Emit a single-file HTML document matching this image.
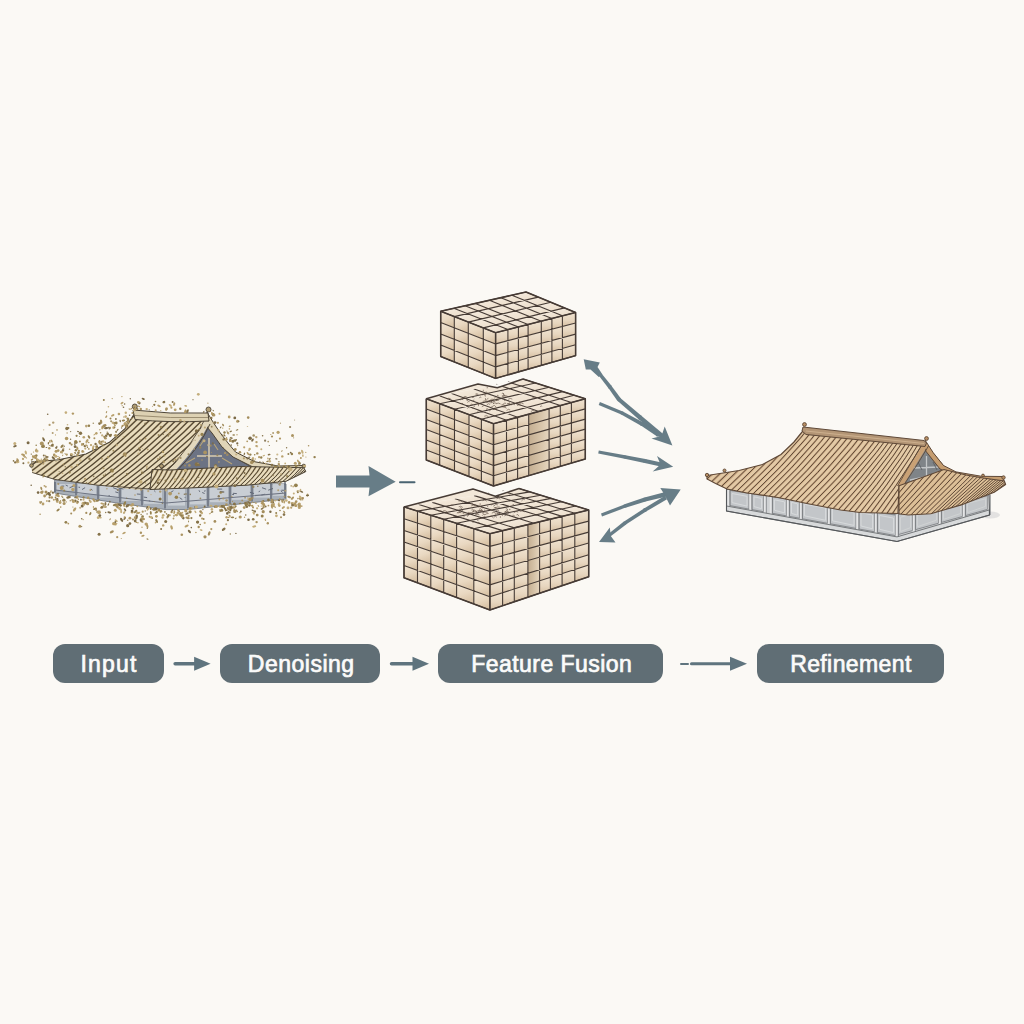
<!DOCTYPE html>
<html><head><meta charset="utf-8"><style>
html,body{margin:0;padding:0;background:#fbf9f5;}
body{width:1024px;height:1024px;position:relative;overflow:hidden;font-family:"Liberation Sans",sans-serif;}
.pill{position:absolute;top:644px;height:39px;border-radius:12px;background:#606e75;color:#fbfbfa;font-weight:400;font-size:23px;line-height:40px;text-align:center;-webkit-text-stroke:0.7px #fbfbfa;letter-spacing:0.25px;}
svg{position:absolute;left:0;top:0;}
</style></head><body>
<svg width="1024" height="1024" viewBox="0 0 1024 1024">
<line x1="175.1" y1="663.8" x2="195.1" y2="663.8" stroke="#5f747e" stroke-width="3.4" stroke-linecap="round"/><polygon points="210.6,663.8 194.1,656.8 194.1,670.8" fill="#5f747e"/><line x1="391.5" y1="663.8" x2="413.5" y2="663.8" stroke="#5f747e" stroke-width="3.4" stroke-linecap="round"/><polygon points="429,663.8 412.5,656.8 412.5,670.8" fill="#5f747e"/><line x1="681" y1="664" x2="688" y2="664" stroke="#5f747e" stroke-width="2" stroke-linecap="round"/><line x1="691.5" y1="663.8" x2="731" y2="663.8" stroke="#5f747e" stroke-width="3.1" stroke-linecap="round"/><polygon points="747,663.8 730,656.8 730,670.8" fill="#5f747e"/>
<defs><linearGradient id="cellL" x1="0" y1="0" x2="0.3" y2="1"><stop offset="0" stop-color="#f2e6d5"/><stop offset="0.55" stop-color="#e9d8c1"/><stop offset="1" stop-color="#d9c3a6"/></linearGradient><linearGradient id="cellR" x1="0" y1="0" x2="0" y2="1"><stop offset="0" stop-color="#f0e3d1"/><stop offset="0.55" stop-color="#e7d6bf"/><stop offset="1" stop-color="#d7c0a3"/></linearGradient><linearGradient id="cellT" x1="0" y1="0" x2="1" y2="1"><stop offset="0" stop-color="#f6ede1"/><stop offset="1" stop-color="#ebdcc8"/></linearGradient><linearGradient id="notch" x1="0" y1="0" x2="1" y2="0"><stop offset="0" stop-color="#c4ae91"/><stop offset="0.6" stop-color="#d8c5aa"/><stop offset="1" stop-color="#e6d6bf"/></linearGradient></defs>
<polygon points="440.7,311.3 454.3,316.6 454.3,327.7 440.7,322.4" fill="url(#cellL)"/>
<polygon points="440.7,322.4 454.3,327.7 454.3,339.3 440.7,333.9" fill="url(#cellL)"/>
<polygon points="440.7,333.9 454.3,339.3 454.3,350.5 440.7,345.1" fill="url(#cellL)"/>
<polygon points="440.7,345.1 454.3,350.5 454.3,361.9 440.7,356.5" fill="url(#cellL)"/>
<polygon points="454.3,316.6 468.3,322.1 468.3,333.2 454.3,327.7" fill="url(#cellL)"/>
<polygon points="454.3,327.7 468.3,333.2 468.3,344.8 454.3,339.3" fill="url(#cellL)"/>
<polygon points="454.3,339.3 468.3,344.8 468.3,356.0 454.3,350.5" fill="url(#cellL)"/>
<polygon points="454.3,350.5 468.3,356.0 468.3,367.5 454.3,361.9" fill="url(#cellL)"/>
<polygon points="468.3,322.1 483.3,327.9 483.3,339.1 468.3,333.2" fill="url(#cellL)"/>
<polygon points="468.3,333.2 483.3,339.1 483.3,350.7 468.3,344.8" fill="url(#cellL)"/>
<polygon points="468.3,344.8 483.3,350.7 483.3,362.0 468.3,356.0" fill="url(#cellL)"/>
<polygon points="468.3,356.0 483.3,362.0 483.3,373.5 468.3,367.5" fill="url(#cellL)"/>
<polygon points="483.3,327.9 495.6,332.7 495.6,343.9 483.3,339.1" fill="url(#cellL)"/>
<polygon points="483.3,339.1 495.6,343.9 495.6,355.6 483.3,350.7" fill="url(#cellL)"/>
<polygon points="483.3,350.7 495.6,355.6 495.6,366.9 483.3,362.0" fill="url(#cellL)"/>
<polygon points="483.3,362.0 495.6,366.9 495.6,378.4 483.3,373.5" fill="url(#cellL)"/>
<polygon points="495.6,332.7 507.9,329.6 507.9,340.7 495.6,343.9" fill="url(#cellR)"/>
<polygon points="495.6,343.9 507.9,340.7 507.9,352.3 495.6,355.6" fill="url(#cellR)"/>
<polygon points="495.6,355.6 507.9,352.3 507.9,363.4 495.6,366.9" fill="url(#cellR)"/>
<polygon points="495.6,366.9 507.9,363.4 507.9,374.9 495.6,378.4" fill="url(#cellR)"/>
<polygon points="507.9,329.6 518.4,326.9 518.4,337.9 507.9,340.7" fill="url(#cellR)"/>
<polygon points="507.9,340.7 518.4,337.9 518.4,349.5 507.9,352.3" fill="url(#cellR)"/>
<polygon points="507.9,352.3 518.4,349.5 518.4,360.5 507.9,363.4" fill="url(#cellR)"/>
<polygon points="507.9,363.4 518.4,360.5 518.4,371.9 507.9,374.9" fill="url(#cellR)"/>
<polygon points="518.4,326.9 528.1,324.5 528.1,335.4 518.4,337.9" fill="url(#cellR)"/>
<polygon points="518.4,337.9 528.1,335.4 528.1,346.9 518.4,349.5" fill="url(#cellR)"/>
<polygon points="518.4,349.5 528.1,346.9 528.1,357.9 518.4,360.5" fill="url(#cellR)"/>
<polygon points="518.4,360.5 528.1,357.9 528.1,369.1 518.4,371.9" fill="url(#cellR)"/>
<polygon points="528.1,324.5 541.3,321.2 541.3,332.0 528.1,335.4" fill="url(#cellR)"/>
<polygon points="528.1,335.4 541.3,332.0 541.3,343.3 528.1,346.9" fill="url(#cellR)"/>
<polygon points="528.1,346.9 541.3,343.3 541.3,354.2 528.1,357.9" fill="url(#cellR)"/>
<polygon points="528.1,357.9 541.3,354.2 541.3,365.4 528.1,369.1" fill="url(#cellR)"/>
<polygon points="541.3,321.2 551.9,318.5 551.9,329.2 541.3,332.0" fill="url(#cellR)"/>
<polygon points="541.3,332.0 551.9,329.2 551.9,340.5 541.3,343.3" fill="url(#cellR)"/>
<polygon points="541.3,343.3 551.9,340.5 551.9,351.3 541.3,354.2" fill="url(#cellR)"/>
<polygon points="541.3,354.2 551.9,351.3 551.9,362.3 541.3,365.4" fill="url(#cellR)"/>
<polygon points="551.9,318.5 562.4,315.8 562.4,326.5 551.9,329.2" fill="url(#cellR)"/>
<polygon points="551.9,329.2 562.4,326.5 562.4,337.6 551.9,340.5" fill="url(#cellR)"/>
<polygon points="551.9,340.5 562.4,337.6 562.4,348.4 551.9,351.3" fill="url(#cellR)"/>
<polygon points="551.9,351.3 562.4,348.4 562.4,359.4 551.9,362.3" fill="url(#cellR)"/>
<polygon points="562.4,315.8 575.6,312.5 575.6,323.0 562.4,326.5" fill="url(#cellR)"/>
<polygon points="562.4,326.5 575.6,323.0 575.6,334.1 562.4,337.6" fill="url(#cellR)"/>
<polygon points="562.4,337.6 575.6,334.1 575.6,344.7 562.4,348.4" fill="url(#cellR)"/>
<polygon points="562.4,348.4 575.6,344.7 575.6,355.6 562.4,359.4" fill="url(#cellR)"/>
<polygon points="440.7,311.3 453.8,308.3 467.2,313.6 454.3,316.6" fill="url(#cellT)"/>
<polygon points="454.3,316.6 467.2,313.6 481.0,319.0 468.3,322.1" fill="url(#cellT)"/>
<polygon points="468.3,322.1 481.0,319.0 495.8,324.8 483.3,327.9" fill="url(#cellT)"/>
<polygon points="483.3,327.9 495.8,324.8 507.9,329.6 495.6,332.7" fill="url(#cellT)"/>
<polygon points="453.8,308.3 465.0,305.8 478.3,311.0 467.2,313.6" fill="url(#cellT)"/>
<polygon points="467.2,313.6 478.3,311.0 491.9,316.4 481.0,319.0" fill="url(#cellT)"/>
<polygon points="481.0,319.0 491.9,316.4 506.4,322.2 495.8,324.8" fill="url(#cellT)"/>
<polygon points="495.8,324.8 506.4,322.2 518.4,326.9 507.9,329.6" fill="url(#cellT)"/>
<polygon points="465.0,305.8 475.3,303.5 488.4,308.7 478.3,311.0" fill="url(#cellT)"/>
<polygon points="478.3,311.0 488.4,308.7 501.9,314.0 491.9,316.4" fill="url(#cellT)"/>
<polygon points="491.9,316.4 501.9,314.0 516.3,319.8 506.4,322.2" fill="url(#cellT)"/>
<polygon points="506.4,322.2 516.3,319.8 528.1,324.5 518.4,326.9" fill="url(#cellT)"/>
<polygon points="475.3,303.5 489.4,300.3 502.3,305.5 488.4,308.7" fill="url(#cellT)"/>
<polygon points="488.4,308.7 502.3,305.5 515.5,310.8 501.9,314.0" fill="url(#cellT)"/>
<polygon points="501.9,314.0 515.5,310.8 529.7,316.5 516.3,319.8" fill="url(#cellT)"/>
<polygon points="516.3,319.8 529.7,316.5 541.3,321.2 528.1,324.5" fill="url(#cellT)"/>
<polygon points="489.4,300.3 500.8,297.7 513.4,302.9 502.3,305.5" fill="url(#cellT)"/>
<polygon points="502.3,305.5 513.4,302.9 526.5,308.2 515.5,310.8" fill="url(#cellT)"/>
<polygon points="515.5,310.8 526.5,308.2 540.5,313.8 529.7,316.5" fill="url(#cellT)"/>
<polygon points="529.7,316.5 540.5,313.8 551.9,318.5 541.3,321.2" fill="url(#cellT)"/>
<polygon points="500.8,297.7 511.9,295.2 524.4,300.3 513.4,302.9" fill="url(#cellT)"/>
<polygon points="513.4,302.9 524.4,300.3 537.3,305.6 526.5,308.2" fill="url(#cellT)"/>
<polygon points="526.5,308.2 537.3,305.6 551.1,311.2 540.5,313.8" fill="url(#cellT)"/>
<polygon points="540.5,313.8 551.1,311.2 562.4,315.8 551.9,318.5" fill="url(#cellT)"/>
<polygon points="511.9,295.2 526.0,292.0 538.3,297.1 524.4,300.3" fill="url(#cellT)"/>
<polygon points="524.4,300.3 538.3,297.1 550.9,302.3 537.3,305.6" fill="url(#cellT)"/>
<polygon points="537.3,305.6 550.9,302.3 564.5,307.9 551.1,311.2" fill="url(#cellT)"/>
<polygon points="551.1,311.2 564.5,307.9 575.6,312.5 562.4,315.8" fill="url(#cellT)"/>
<path d="M440.7 311.3L440.7 356.5 M454.3 316.6L454.3 361.9 M468.3 322.1L468.3 367.5 M483.3 327.9L483.3 373.5 M495.6 332.7L495.6 378.4 M440.7 311.3L495.6 332.7 M440.7 322.4L495.6 343.9 M440.7 333.9L495.6 355.6 M440.7 345.1L495.6 366.9 M440.7 356.5L495.6 378.4 M495.6 332.7L495.6 378.4 M507.9 329.6L507.9 374.9 M518.4 326.9L518.4 371.9 M528.1 324.5L528.1 369.1 M541.3 321.2L541.3 365.4 M551.9 318.5L551.9 362.3 M562.4 315.8L562.4 359.4 M575.6 312.5L575.6 355.6 M495.6 332.7L575.6 312.5 M495.6 343.9L575.6 323.0 M495.6 355.6L575.6 334.1 M495.6 366.9L575.6 344.7 M495.6 378.4L575.6 355.6 M440.7 311.3L495.6 332.7 M453.8 308.3L507.9 329.6 M465.0 305.8L518.4 326.9 M475.3 303.5L528.1 324.5 M489.4 300.3L541.3 321.2 M500.8 297.7L551.9 318.5 M511.9 295.2L562.4 315.8 M526.0 292.0L575.6 312.5 M440.7 311.3L526.0 292.0 M454.3 316.6L538.3 297.1 M468.3 322.1L550.9 302.3 M483.3 327.9L564.5 307.9 M495.6 332.7L575.6 312.5" stroke="#463b35" stroke-width="1.1" fill="none" stroke-linecap="round"/>
<polygon points="440.7,311.3 526.0,292.0 575.6,312.5 575.6,355.6 495.6,378.4 440.7,356.5" fill="none" stroke="#463b35" stroke-width="1.5" stroke-linejoin="round"/>
<path d="M440.7 311.3L495.6 332.7L575.6 312.5M495.6 332.7L495.6 378.4" stroke="#463b35" stroke-width="1.5" fill="none"/>
<polygon points="426.3,398.8 439.7,403.8 439.7,414.1 426.3,409.1" fill="url(#cellL)"/>
<polygon points="426.3,409.1 439.7,414.1 439.7,424.5 426.3,419.4" fill="url(#cellL)"/>
<polygon points="426.3,419.4 439.7,424.5 439.7,434.7 426.3,429.6" fill="url(#cellL)"/>
<polygon points="426.3,429.6 439.7,434.7 439.7,445.1 426.3,440.0" fill="url(#cellL)"/>
<polygon points="426.3,440.0 439.7,445.1 439.7,455.2 426.3,450.0" fill="url(#cellL)"/>
<polygon points="426.3,450.0 439.7,455.2 439.7,465.2 426.3,460.0" fill="url(#cellL)"/>
<polygon points="439.7,403.8 454.5,409.3 454.5,419.7 439.7,414.1" fill="url(#cellL)"/>
<polygon points="439.7,414.1 454.5,419.7 454.5,430.0 439.7,424.5" fill="url(#cellL)"/>
<polygon points="439.7,424.5 454.5,430.0 454.5,440.4 439.7,434.7" fill="url(#cellL)"/>
<polygon points="439.7,434.7 454.5,440.4 454.5,450.7 439.7,445.1" fill="url(#cellL)"/>
<polygon points="439.7,445.1 454.5,450.7 454.5,460.8 439.7,455.2" fill="url(#cellL)"/>
<polygon points="439.7,455.2 454.5,460.8 454.5,470.9 439.7,465.2" fill="url(#cellL)"/>
<polygon points="454.5,409.3 469.0,414.7 469.0,425.1 454.5,419.7" fill="url(#cellL)"/>
<polygon points="454.5,419.7 469.0,425.1 469.0,435.5 454.5,430.0" fill="url(#cellL)"/>
<polygon points="454.5,430.0 469.0,435.5 469.0,445.9 454.5,440.4" fill="url(#cellL)"/>
<polygon points="454.5,440.4 469.0,445.9 469.0,456.3 454.5,450.7" fill="url(#cellL)"/>
<polygon points="454.5,450.7 469.0,456.3 469.0,466.4 454.5,460.8" fill="url(#cellL)"/>
<polygon points="454.5,460.8 469.0,466.4 469.0,476.5 454.5,470.9" fill="url(#cellL)"/>
<polygon points="469.0,414.7 481.4,419.3 481.4,429.7 469.0,425.1" fill="url(#cellL)"/>
<polygon points="469.0,425.1 481.4,429.7 481.4,440.2 469.0,435.5" fill="url(#cellL)"/>
<polygon points="469.0,435.5 481.4,440.2 481.4,450.6 469.0,445.9" fill="url(#cellL)"/>
<polygon points="469.0,445.9 481.4,450.6 481.4,461.0 469.0,456.3" fill="url(#cellL)"/>
<polygon points="469.0,456.3 481.4,461.0 481.4,471.2 469.0,466.4" fill="url(#cellL)"/>
<polygon points="469.0,466.4 481.4,471.2 481.4,481.3 469.0,476.5" fill="url(#cellL)"/>
<polygon points="481.4,419.3 493.5,423.8 493.5,434.3 481.4,429.7" fill="url(#cellL)"/>
<polygon points="481.4,429.7 493.5,434.3 493.5,444.7 481.4,440.2" fill="url(#cellL)"/>
<polygon points="481.4,440.2 493.5,444.7 493.5,455.1 481.4,450.6" fill="url(#cellL)"/>
<polygon points="481.4,450.6 493.5,455.1 493.5,465.6 481.4,461.0" fill="url(#cellL)"/>
<polygon points="481.4,461.0 493.5,465.6 493.5,475.8 481.4,471.2" fill="url(#cellL)"/>
<polygon points="481.4,471.2 493.5,475.8 493.5,486.0 481.4,481.3" fill="url(#cellL)"/>
<polygon points="493.5,423.8 506.5,420.2 506.5,430.7 493.5,434.3" fill="url(#cellR)"/>
<polygon points="493.5,434.3 506.5,430.7 506.5,441.1 493.5,444.7" fill="url(#cellR)"/>
<polygon points="493.5,444.7 506.5,441.1 506.5,451.5 493.5,455.1" fill="url(#cellR)"/>
<polygon points="493.5,455.1 506.5,451.5 506.5,461.9 493.5,465.6" fill="url(#cellR)"/>
<polygon points="493.5,465.6 506.5,461.9 506.5,472.0 493.5,475.8" fill="url(#cellR)"/>
<polygon points="493.5,475.8 506.5,472.0 506.5,482.2 493.5,486.0" fill="url(#cellR)"/>
<polygon points="506.5,420.2 517.6,417.2 517.6,427.6 506.5,430.7" fill="url(#cellR)"/>
<polygon points="506.5,430.7 517.6,427.6 517.6,438.0 506.5,441.1" fill="url(#cellR)"/>
<polygon points="506.5,441.1 517.6,438.0 517.6,448.3 506.5,451.5" fill="url(#cellR)"/>
<polygon points="506.5,451.5 517.6,448.3 517.6,458.7 506.5,461.9" fill="url(#cellR)"/>
<polygon points="506.5,461.9 517.6,458.7 517.6,468.8 506.5,472.0" fill="url(#cellR)"/>
<polygon points="506.5,472.0 517.6,468.8 517.6,478.9 506.5,482.2" fill="url(#cellR)"/>
<polygon points="517.6,417.2 528.7,414.2 528.7,424.6 517.6,427.6" fill="url(#cellR)"/>
<polygon points="517.6,427.6 528.7,424.6 528.7,434.9 517.6,438.0" fill="url(#cellR)"/>
<polygon points="517.6,438.0 528.7,434.9 528.7,445.2 517.6,448.3" fill="url(#cellR)"/>
<polygon points="517.6,448.3 528.7,445.2 528.7,455.5 517.6,458.7" fill="url(#cellR)"/>
<polygon points="517.6,458.7 528.7,455.5 528.7,465.6 517.6,468.8" fill="url(#cellR)"/>
<polygon points="517.6,468.8 528.7,465.6 528.7,475.7 517.6,478.9" fill="url(#cellR)"/>
<polygon points="549.1,408.7 560.3,405.6 560.3,415.8 549.1,418.9" fill="url(#cellR)"/>
<polygon points="549.1,418.9 560.3,415.8 560.3,426.0 549.1,429.2" fill="url(#cellR)"/>
<polygon points="549.1,429.2 560.3,426.0 560.3,436.2 549.1,439.4" fill="url(#cellR)"/>
<polygon points="549.1,439.4 560.3,436.2 560.3,446.5 549.1,449.7" fill="url(#cellR)"/>
<polygon points="549.1,449.7 560.3,446.5 560.3,456.4 549.1,459.7" fill="url(#cellR)"/>
<polygon points="549.1,459.7 560.3,456.4 560.3,466.3 549.1,469.6" fill="url(#cellR)"/>
<polygon points="560.3,405.6 571.4,402.6 571.4,412.8 560.3,415.8" fill="url(#cellR)"/>
<polygon points="560.3,415.8 571.4,412.8 571.4,422.9 560.3,426.0" fill="url(#cellR)"/>
<polygon points="560.3,426.0 571.4,422.9 571.4,433.1 560.3,436.2" fill="url(#cellR)"/>
<polygon points="560.3,436.2 571.4,433.1 571.4,443.3 560.3,446.5" fill="url(#cellR)"/>
<polygon points="560.3,446.5 571.4,443.3 571.4,453.2 560.3,456.4" fill="url(#cellR)"/>
<polygon points="560.3,456.4 571.4,453.2 571.4,463.1 560.3,466.3" fill="url(#cellR)"/>
<polygon points="571.4,402.6 585.3,398.8 585.3,408.9 571.4,412.8" fill="url(#cellR)"/>
<polygon points="571.4,412.8 585.3,408.9 585.3,419.1 571.4,422.9" fill="url(#cellR)"/>
<polygon points="571.4,422.9 585.3,419.1 585.3,429.1 571.4,433.1" fill="url(#cellR)"/>
<polygon points="571.4,433.1 585.3,429.1 585.3,439.3 571.4,443.3" fill="url(#cellR)"/>
<polygon points="571.4,443.3 585.3,439.3 585.3,449.2 571.4,453.2" fill="url(#cellR)"/>
<polygon points="571.4,453.2 585.3,449.2 585.3,459.0 571.4,463.1" fill="url(#cellR)"/>
<polygon points="426.3,398.8 440.0,396.0 453.3,400.8 439.7,403.8" fill="url(#cellT)"/>
<polygon points="439.7,403.8 453.3,400.8 468.0,406.2 454.5,409.3" fill="url(#cellT)"/>
<polygon points="454.5,409.3 468.0,406.2 482.3,411.4 469.0,414.7" fill="url(#cellT)"/>
<polygon points="469.0,414.7 482.3,411.4 494.6,415.9 481.4,419.3" fill="url(#cellT)"/>
<polygon points="481.4,419.3 494.6,415.9 506.5,420.2 493.5,423.8" fill="url(#cellT)"/>
<polygon points="440.0,396.0 451.7,393.6 464.9,398.3 453.3,400.8" fill="url(#cellT)"/>
<polygon points="453.3,400.8 464.9,398.3 479.4,403.5 468.0,406.2" fill="url(#cellT)"/>
<polygon points="468.0,406.2 479.4,403.5 493.7,408.6 482.3,411.4" fill="url(#cellT)"/>
<polygon points="482.3,411.4 493.7,408.6 505.8,413.0 494.6,415.9" fill="url(#cellT)"/>
<polygon points="494.6,415.9 505.8,413.0 517.6,417.2 506.5,420.2" fill="url(#cellT)"/>
<polygon points="451.7,393.6 474.1,389.0 487.1,393.5 464.9,398.3" fill="url(#cellT)"/>
<polygon points="464.9,398.3 487.1,393.5 501.3,398.4 479.4,403.5" fill="url(#cellT)"/>
<polygon points="479.4,403.5 501.3,398.4 515.3,403.3 493.7,408.6" fill="url(#cellT)"/>
<polygon points="493.7,408.6 515.3,403.3 527.2,407.4 505.8,413.0" fill="url(#cellT)"/>
<polygon points="505.8,413.0 527.2,407.4 538.9,411.4 517.6,417.2" fill="url(#cellT)"/>
<polygon points="474.1,389.0 496.7,384.4 509.4,388.6 487.1,393.5" fill="url(#cellT)"/>
<polygon points="487.1,393.5 509.4,388.6 523.4,393.3 501.3,398.4" fill="url(#cellT)"/>
<polygon points="501.3,398.4 523.4,393.3 537.2,397.9 515.3,403.3" fill="url(#cellT)"/>
<polygon points="515.3,403.3 537.2,397.9 548.9,401.8 527.2,407.4" fill="url(#cellT)"/>
<polygon points="527.2,407.4 548.9,401.8 560.3,405.6 538.9,411.4" fill="url(#cellT)"/>
<polygon points="496.7,384.4 508.4,382.0 521.0,386.1 509.4,388.6" fill="url(#cellT)"/>
<polygon points="509.4,388.6 521.0,386.1 534.9,390.6 523.4,393.3" fill="url(#cellT)"/>
<polygon points="523.4,393.3 534.9,390.6 548.5,395.1 537.2,397.9" fill="url(#cellT)"/>
<polygon points="537.2,397.9 548.5,395.1 560.1,398.9 548.9,401.8" fill="url(#cellT)"/>
<polygon points="548.9,401.8 560.1,398.9 571.4,402.6 560.3,405.6" fill="url(#cellT)"/>
<polygon points="508.4,382.0 523.0,379.0 535.5,383.0 521.0,386.1" fill="url(#cellT)"/>
<polygon points="521.0,386.1 535.5,383.0 549.2,387.3 534.9,390.6" fill="url(#cellT)"/>
<polygon points="534.9,390.6 549.2,387.3 562.6,391.6 548.5,395.1" fill="url(#cellT)"/>
<polygon points="548.5,395.1 562.6,391.6 574.1,395.2 560.1,398.9" fill="url(#cellT)"/>
<polygon points="560.1,398.9 574.1,395.2 585.3,398.8 571.4,402.6" fill="url(#cellT)"/>
<polygon points="528.7,414.2 549.1,408.7 549.1,469.6 528.7,475.7" fill="url(#notch)"/>
<path d="M426.3 398.8L426.3 460.0 M439.7 403.8L439.7 465.2 M454.5 409.3L454.5 470.9 M469.0 414.7L469.0 476.5 M481.4 419.3L481.4 481.3 M493.5 423.8L493.5 486.0 M426.3 398.8L493.5 423.8 M426.3 409.1L493.5 434.3 M426.3 419.4L493.5 444.7 M426.3 429.6L493.5 455.1 M426.3 440.0L493.5 465.6 M426.3 450.0L493.5 475.8 M426.3 460.0L493.5 486.0 M493.5 423.8L493.5 486.0 M506.5 420.2L506.5 482.2 M517.6 417.2L517.6 478.9 M528.7 414.2L528.7 475.7 M549.1 408.7L549.1 469.6 M560.3 405.6L560.3 466.3 M571.4 402.6L571.4 463.1 M585.3 398.8L585.3 459.0 M493.5 423.8L585.3 398.8 M493.5 434.3L585.3 408.9 M493.5 444.7L585.3 419.1 M493.5 455.1L585.3 429.1 M493.5 465.6L585.3 439.3 M493.5 475.8L585.3 449.2 M493.5 486.0L585.3 459.0 M426.3 398.8L493.5 423.8 M440.0 396.0L506.5 420.2 M451.7 393.6L517.6 417.2 M474.1 389.0L538.9 411.4 M496.7 384.4L560.3 405.6 M508.4 382.0L571.4 402.6 M523.0 379.0L585.3 398.8 M439.7 403.8L535.5 383.0 M454.5 409.3L549.2 387.3 M469.0 414.7L562.6 391.6 M481.4 419.3L574.1 395.2 M493.5 423.8L585.3 398.8" stroke="#463b35" stroke-width="1.1" fill="none" stroke-linecap="round"/>
<polygon points="426.3,398.8 478.0,384.0 488.5,386.1" fill="#f2e7d8"/>
<polygon points="488.5,386.1 497.3,387.8 523.0,379.0" fill="#fbf9f5"/>
<path d="M426.3 398.8L478.0 384.0L497.3 387.8L523.0 379.0" stroke="#463b35" stroke-width="1.5" fill="none" stroke-linejoin="round"/>
<path d="M523.0 379.0L585.3 398.8L585.3 459.0L493.5 486.0L426.3 460.0L426.3 398.8" fill="none" stroke="#463b35" stroke-width="1.5" stroke-linejoin="round"/>
<path d="M426.3 398.8L493.5 423.8L585.3 398.8M493.5 423.8L493.5 486.0" stroke="#463b35" stroke-width="1.5" fill="none"/>
<path d="M491.3 401.1q-0.2 -0.2 -0.3 1.3 M450.8 399.0q-1.9 -1.6 -3.9 -0.1 M504.8 407.4q0.4 -3.0 0.7 -1.5 M501.3 405.0q2.1 -0.7 4.2 0.8 M520.8 405.2q-1.8 -1.1 -3.6 0.4 M490.7 402.3q1.9 -2.4 3.7 -0.9 M530.8 411.6q1.9 -2.1 3.7 -0.6 M503.3 397.1q0.9 -2.4 1.8 -0.9 M503.4 395.4q2.3 -0.3 4.7 1.2 M496.2 407.1q-1.7 -2.6 -3.3 -1.1 M504.6 401.1q0.5 -3.0 1.0 -1.5 M474.3 400.2q-1.0 -0.5 -1.9 1.0 M478.6 405.6q-0.1 -0.9 -0.2 0.6 M536.6 397.5q-2.4 -0.8 -4.8 0.7 M489.3 401.3q1.4 -1.9 2.9 -0.4 M487.2 402.4q-2.3 -2.5 -4.5 -1.0 M496.5 399.4q1.3 -0.2 2.6 1.3 M498.0 398.1q-0.7 -1.4 -1.5 0.1 M485.1 400.1q1.2 -0.6 2.5 0.9 M489.6 400.8q2.2 -2.7 4.5 -1.2 M492.8 409.7q2.1 -2.0 4.2 -0.5 M498.7 396.3q-0.9 -2.0 -1.9 -0.5 M496.4 403.2q-1.8 -0.9 -3.5 0.6 M497.9 400.3q-2.3 -0.0 -4.5 1.5 M472.9 404.7q-1.3 -1.2 -2.6 0.3 M485.4 396.6q-0.4 -2.8 -0.8 -1.3 M491.2 401.0q-0.0 -0.5 -0.1 1.0 M519.1 403.4q2.2 -1.1 4.5 0.4 M485.8 400.0q-0.3 -2.6 -0.7 -1.1 M488.1 397.9q-0.2 -0.0 -0.5 1.5 M487.5 388.2q-0.2 -1.5 -0.5 -0.0 M474.2 398.0q-1.0 -1.8 -2.1 -0.3 M507.0 403.5q2.4 -0.1 4.9 1.4 M468.0 401.4q-0.8 -2.7 -1.6 -1.2 M506.6 410.4q1.8 -1.9 3.7 -0.4 M475.4 394.1q1.0 -1.0 1.9 0.5 M479.3 398.2q1.0 -2.2 2.0 -0.7 M467.3 408.6q1.0 -2.1 1.9 -0.6 M503.3 395.8q0.4 -3.0 0.8 -1.5 M476.7 403.8q0.9 -1.6 1.7 -0.1 M482.5 395.0q1.5 -2.0 3.0 -0.5 M459.9 400.1q1.6 -1.9 3.3 -0.4 M485.8 391.8q0.9 -0.1 1.9 1.4 M502.3 397.1q0.1 -2.5 0.3 -1.0 M483.5 390.2q-0.1 -0.9 -0.2 0.6 M466.5 396.6q-1.6 -0.7 -3.3 0.8 M462.7 403.5q-0.4 -1.1 -0.8 0.4 M476.2 395.7q1.1 -2.9 2.2 -1.4 M508.5 404.1q0.8 -2.3 1.5 -0.8 M466.4 398.6q-2.3 -1.6 -4.6 -0.1 M494.2 403.5q-1.8 -2.0 -3.7 -0.5 M500.5 403.9q-2.3 -1.6 -4.6 -0.1 M486.6 409.7q0.5 -2.3 0.9 -0.8 M489.8 402.1q-0.5 -2.2 -0.9 -0.7 M486.8 404.8q1.7 -1.9 3.3 -0.4 M512.3 399.1q-2.0 -1.4 -4.1 0.1 M492.9 409.4q2.3 -0.5 4.6 1.0 M477.6 411.5q0.7 -1.9 1.4 -0.4 M513.8 403.7q0.3 -0.1 0.6 1.4 M505.5 396.8q-0.7 -0.3 -1.5 1.2 M496.4 400.7q0.3 -1.2 0.7 0.3 M515.0 403.7q2.0 -1.9 3.9 -0.4 M483.9 405.7q-1.0 -0.1 -2.1 1.4 M484.3 416.2q2.1 -1.2 4.1 0.3 M475.2 405.8q-0.9 -0.0 -1.8 1.5 M478.5 405.2q-0.1 -2.6 -0.2 -1.1 M469.6 401.7q-1.0 -0.7 -2.1 0.8 M489.0 401.4q0.2 -2.2 0.3 -0.7 M504.3 394.3q-1.3 -2.2 -2.5 -0.7 M542.2 406.4q-1.0 -1.2 -2.1 0.3 M472.2 408.0q0.5 -0.8 1.0 0.7 M520.6 402.7q-1.0 -1.4 -2.0 0.1 M492.0 406.8q0.1 -1.6 0.3 -0.1 M489.7 411.3q0.5 -2.9 0.9 -1.4 M502.4 407.0q2.1 -0.3 4.2 1.2 M486.7 402.6q1.4 -1.7 2.8 -0.2 M461.2 403.8q0.7 -1.6 1.3 -0.1 M495.4 397.4q-0.5 -0.4 -1.1 1.1 M502.8 404.7q1.7 -2.8 3.3 -1.3" stroke="#5a4a3e" stroke-width="0.8" fill="none" opacity="0.75"/>
<polygon points="404.0,506.9 417.5,511.1 417.5,523.0 404.0,518.7" fill="url(#cellL)"/>
<polygon points="404.0,518.7 417.5,523.0 417.5,534.9 404.0,530.4" fill="url(#cellL)"/>
<polygon points="404.0,530.4 417.5,534.9 417.5,546.6 404.0,542.0" fill="url(#cellL)"/>
<polygon points="404.0,542.0 417.5,546.6 417.5,559.2 404.0,554.4" fill="url(#cellL)"/>
<polygon points="404.0,554.4 417.5,559.2 417.5,570.4 404.0,565.4" fill="url(#cellL)"/>
<polygon points="404.0,565.4 417.5,570.4 417.5,582.8 404.0,577.7" fill="url(#cellL)"/>
<polygon points="417.5,511.1 430.8,515.3 430.8,527.3 417.5,523.0" fill="url(#cellL)"/>
<polygon points="417.5,523.0 430.8,527.3 430.8,539.3 417.5,534.9" fill="url(#cellL)"/>
<polygon points="417.5,534.9 430.8,539.3 430.8,551.2 417.5,546.6" fill="url(#cellL)"/>
<polygon points="417.5,546.6 430.8,551.2 430.8,564.0 417.5,559.2" fill="url(#cellL)"/>
<polygon points="417.5,559.2 430.8,564.0 430.8,575.2 417.5,570.4" fill="url(#cellL)"/>
<polygon points="417.5,570.4 430.8,575.2 430.8,587.8 417.5,582.8" fill="url(#cellL)"/>
<polygon points="430.8,515.3 443.7,519.3 443.7,531.5 430.8,527.3" fill="url(#cellL)"/>
<polygon points="430.8,527.3 443.7,531.5 443.7,543.6 430.8,539.3" fill="url(#cellL)"/>
<polygon points="430.8,539.3 443.7,543.6 443.7,555.6 430.8,551.2" fill="url(#cellL)"/>
<polygon points="430.8,551.2 443.7,555.6 443.7,568.5 430.8,564.0" fill="url(#cellL)"/>
<polygon points="430.8,564.0 443.7,568.5 443.7,579.9 430.8,575.2" fill="url(#cellL)"/>
<polygon points="430.8,575.2 443.7,579.9 443.7,592.6 430.8,587.8" fill="url(#cellL)"/>
<polygon points="443.7,519.3 456.6,523.3 456.6,535.6 443.7,531.5" fill="url(#cellL)"/>
<polygon points="443.7,531.5 456.6,535.6 456.6,547.9 443.7,543.6" fill="url(#cellL)"/>
<polygon points="443.7,543.6 456.6,547.9 456.6,560.0 443.7,555.6" fill="url(#cellL)"/>
<polygon points="443.7,555.6 456.6,560.0 456.6,573.1 443.7,568.5" fill="url(#cellL)"/>
<polygon points="443.7,568.5 456.6,573.1 456.6,584.6 443.7,579.9" fill="url(#cellL)"/>
<polygon points="443.7,579.9 456.6,584.6 456.6,597.5 443.7,592.6" fill="url(#cellL)"/>
<polygon points="456.6,523.3 473.8,528.7 473.8,541.2 456.6,535.6" fill="url(#cellL)"/>
<polygon points="456.6,535.6 473.8,541.2 473.8,553.6 456.6,547.9" fill="url(#cellL)"/>
<polygon points="456.6,547.9 473.8,553.6 473.8,565.9 456.6,560.0" fill="url(#cellL)"/>
<polygon points="456.6,560.0 473.8,565.9 473.8,579.2 456.6,573.1" fill="url(#cellL)"/>
<polygon points="456.6,573.1 473.8,579.2 473.8,590.9 456.6,584.6" fill="url(#cellL)"/>
<polygon points="456.6,584.6 473.8,590.9 473.8,603.9 456.6,597.5" fill="url(#cellL)"/>
<polygon points="473.8,528.7 489.9,533.7 489.9,546.4 473.8,541.2" fill="url(#cellL)"/>
<polygon points="473.8,541.2 489.9,546.4 489.9,559.0 473.8,553.6" fill="url(#cellL)"/>
<polygon points="473.8,553.6 489.9,559.0 489.9,571.5 473.8,565.9" fill="url(#cellL)"/>
<polygon points="473.8,565.9 489.9,571.5 489.9,584.9 473.8,579.2" fill="url(#cellL)"/>
<polygon points="473.8,579.2 489.9,584.9 489.9,596.8 473.8,590.9" fill="url(#cellL)"/>
<polygon points="473.8,590.9 489.9,596.8 489.9,610.0 473.8,603.9" fill="url(#cellL)"/>
<polygon points="489.9,533.7 502.6,530.6 502.6,543.1 489.9,546.4" fill="url(#cellR)"/>
<polygon points="489.9,546.4 502.6,543.1 502.6,555.5 489.9,559.0" fill="url(#cellR)"/>
<polygon points="489.9,559.0 502.6,555.5 502.6,567.8 489.9,571.5" fill="url(#cellR)"/>
<polygon points="489.9,571.5 502.6,567.8 502.6,581.1 489.9,584.9" fill="url(#cellR)"/>
<polygon points="489.9,584.9 502.6,581.1 502.6,592.7 489.9,596.8" fill="url(#cellR)"/>
<polygon points="489.9,596.8 502.6,592.7 502.6,605.7 489.9,610.0" fill="url(#cellR)"/>
<polygon points="502.6,530.6 514.3,527.8 514.3,540.1 502.6,543.1" fill="url(#cellR)"/>
<polygon points="502.6,543.1 514.3,540.1 514.3,552.4 502.6,555.5" fill="url(#cellR)"/>
<polygon points="502.6,555.5 514.3,552.4 514.3,564.5 502.6,567.8" fill="url(#cellR)"/>
<polygon points="502.6,567.8 514.3,564.5 514.3,577.5 502.6,581.1" fill="url(#cellR)"/>
<polygon points="502.6,581.1 514.3,577.5 514.3,589.0 502.6,592.7" fill="url(#cellR)"/>
<polygon points="502.6,592.7 514.3,589.0 514.3,601.8 502.6,605.7" fill="url(#cellR)"/>
<polygon points="514.3,527.8 527.9,524.6 527.9,536.6 514.3,540.1" fill="url(#cellR)"/>
<polygon points="514.3,540.1 527.9,536.6 527.9,548.7 514.3,552.4" fill="url(#cellR)"/>
<polygon points="514.3,552.4 527.9,548.7 527.9,560.5 514.3,564.5" fill="url(#cellR)"/>
<polygon points="514.3,564.5 527.9,560.5 527.9,573.3 514.3,577.5" fill="url(#cellR)"/>
<polygon points="514.3,577.5 527.9,573.3 527.9,584.6 514.3,589.0" fill="url(#cellR)"/>
<polygon points="514.3,589.0 527.9,584.6 527.9,597.2 514.3,601.8" fill="url(#cellR)"/>
<polygon points="539.6,521.8 550.4,519.2 550.4,530.9 539.6,533.7" fill="url(#cellR)"/>
<polygon points="539.6,533.7 550.4,530.9 550.4,542.6 539.6,545.5" fill="url(#cellR)"/>
<polygon points="539.6,545.5 550.4,542.6 550.4,554.1 539.6,557.2" fill="url(#cellR)"/>
<polygon points="539.6,557.2 550.4,554.1 550.4,566.5 539.6,569.8" fill="url(#cellR)"/>
<polygon points="539.6,569.8 550.4,566.5 550.4,577.4 539.6,580.9" fill="url(#cellR)"/>
<polygon points="539.6,580.9 550.4,577.4 550.4,589.6 539.6,593.3" fill="url(#cellR)"/>
<polygon points="550.4,519.2 562.1,516.4 562.1,527.9 550.4,530.9" fill="url(#cellR)"/>
<polygon points="550.4,530.9 562.1,527.9 562.1,539.4 550.4,542.6" fill="url(#cellR)"/>
<polygon points="550.4,542.6 562.1,539.4 562.1,550.7 550.4,554.1" fill="url(#cellR)"/>
<polygon points="550.4,554.1 562.1,550.7 562.1,562.9 550.4,566.5" fill="url(#cellR)"/>
<polygon points="550.4,566.5 562.1,562.9 562.1,573.7 550.4,577.4" fill="url(#cellR)"/>
<polygon points="550.4,577.4 562.1,573.7 562.1,585.7 550.4,589.6" fill="url(#cellR)"/>
<polygon points="562.1,516.4 574.8,513.3 574.8,524.7 562.1,527.9" fill="url(#cellR)"/>
<polygon points="562.1,527.9 574.8,524.7 574.8,535.9 562.1,539.4" fill="url(#cellR)"/>
<polygon points="562.1,539.4 574.8,535.9 574.8,547.0 562.1,550.7" fill="url(#cellR)"/>
<polygon points="562.1,550.7 574.8,547.0 574.8,559.0 562.1,562.9" fill="url(#cellR)"/>
<polygon points="562.1,562.9 574.8,559.0 574.8,569.6 562.1,573.7" fill="url(#cellR)"/>
<polygon points="562.1,573.7 574.8,569.6 574.8,581.4 562.1,585.7" fill="url(#cellR)"/>
<polygon points="574.8,513.3 588.7,510.0 588.7,521.1 574.8,524.7" fill="url(#cellR)"/>
<polygon points="574.8,524.7 588.7,521.1 588.7,532.1 574.8,535.9" fill="url(#cellR)"/>
<polygon points="574.8,535.9 588.7,532.1 588.7,543.0 574.8,547.0" fill="url(#cellR)"/>
<polygon points="574.8,547.0 588.7,543.0 588.7,554.8 574.8,559.0" fill="url(#cellR)"/>
<polygon points="574.8,559.0 588.7,554.8 588.7,565.1 574.8,569.6" fill="url(#cellR)"/>
<polygon points="574.8,569.6 588.7,565.1 588.7,576.7 574.8,581.4" fill="url(#cellR)"/>
<polygon points="404.0,506.9 418.8,504.5 432.0,508.6 417.5,511.1" fill="url(#cellT)"/>
<polygon points="417.5,511.1 432.0,508.6 445.0,512.7 430.8,515.3" fill="url(#cellT)"/>
<polygon points="430.8,515.3 445.0,512.7 457.6,516.6 443.7,519.3" fill="url(#cellT)"/>
<polygon points="443.7,519.3 457.6,516.6 470.1,520.5 456.6,523.3" fill="url(#cellT)"/>
<polygon points="456.6,523.3 470.1,520.5 486.9,525.7 473.8,528.7" fill="url(#cellT)"/>
<polygon points="473.8,528.7 486.9,525.7 502.6,530.6 489.9,533.7" fill="url(#cellT)"/>
<polygon points="418.8,504.5 432.4,502.4 445.3,506.4 432.0,508.6" fill="url(#cellT)"/>
<polygon points="432.0,508.6 445.3,506.4 458.0,510.3 445.0,512.7" fill="url(#cellT)"/>
<polygon points="445.0,512.7 458.0,510.3 470.2,514.1 457.6,516.6" fill="url(#cellT)"/>
<polygon points="457.6,516.6 470.2,514.1 482.5,518.0 470.1,520.5" fill="url(#cellT)"/>
<polygon points="470.1,520.5 482.5,518.0 498.9,523.1 486.9,525.7" fill="url(#cellT)"/>
<polygon points="486.9,525.7 498.9,523.1 514.3,527.8 502.6,530.6" fill="url(#cellT)"/>
<polygon points="432.4,502.4 455.1,498.7 467.4,502.6 445.3,506.4" fill="url(#cellT)"/>
<polygon points="445.3,506.4 467.4,502.6 479.6,506.4 458.0,510.3" fill="url(#cellT)"/>
<polygon points="458.0,510.3 479.6,506.4 491.4,510.0 470.2,514.1" fill="url(#cellT)"/>
<polygon points="470.2,514.1 491.4,510.0 503.2,513.7 482.5,518.0" fill="url(#cellT)"/>
<polygon points="482.5,518.0 503.2,513.7 519.0,518.6 498.9,523.1" fill="url(#cellT)"/>
<polygon points="498.9,523.1 519.0,518.6 533.8,523.2 514.3,527.8" fill="url(#cellT)"/>
<polygon points="455.1,498.7 474.4,495.6 486.3,499.3 467.4,502.6" fill="url(#cellT)"/>
<polygon points="467.4,502.6 486.3,499.3 498.1,503.0 479.6,506.4" fill="url(#cellT)"/>
<polygon points="479.6,506.4 498.1,503.0 509.5,506.5 491.4,510.0" fill="url(#cellT)"/>
<polygon points="491.4,510.0 509.5,506.5 520.9,510.1 503.2,513.7" fill="url(#cellT)"/>
<polygon points="503.2,513.7 520.9,510.1 536.1,514.8 519.0,518.6" fill="url(#cellT)"/>
<polygon points="519.0,518.6 536.1,514.8 550.4,519.2 533.8,523.2" fill="url(#cellT)"/>
<polygon points="474.4,495.6 488.1,493.4 499.7,497.0 486.3,499.3" fill="url(#cellT)"/>
<polygon points="486.3,499.3 499.7,497.0 511.2,500.6 498.1,503.0" fill="url(#cellT)"/>
<polygon points="498.1,503.0 511.2,500.6 522.3,504.0 509.5,506.5" fill="url(#cellT)"/>
<polygon points="509.5,506.5 522.3,504.0 533.4,507.5 520.9,510.1" fill="url(#cellT)"/>
<polygon points="520.9,510.1 533.4,507.5 548.2,512.1 536.1,514.8" fill="url(#cellT)"/>
<polygon points="536.1,514.8 548.2,512.1 562.1,516.4 550.4,519.2" fill="url(#cellT)"/>
<polygon points="488.1,493.4 502.8,491.1 514.1,494.6 499.7,497.0" fill="url(#cellT)"/>
<polygon points="499.7,497.0 514.1,494.6 525.2,498.0 511.2,500.6" fill="url(#cellT)"/>
<polygon points="511.2,500.6 525.2,498.0 536.0,501.4 522.3,504.0" fill="url(#cellT)"/>
<polygon points="522.3,504.0 536.0,501.4 546.8,504.7 533.4,507.5" fill="url(#cellT)"/>
<polygon points="533.4,507.5 546.8,504.7 561.2,509.2 548.2,512.1" fill="url(#cellT)"/>
<polygon points="548.2,512.1 561.2,509.2 574.8,513.3 562.1,516.4" fill="url(#cellT)"/>
<polygon points="502.8,491.1 519.0,488.5 529.9,491.9 514.1,494.6" fill="url(#cellT)"/>
<polygon points="514.1,494.6 529.9,491.9 540.7,495.2 525.2,498.0" fill="url(#cellT)"/>
<polygon points="525.2,498.0 540.7,495.2 551.2,498.4 536.0,501.4" fill="url(#cellT)"/>
<polygon points="536.0,501.4 551.2,498.4 561.7,501.7 546.8,504.7" fill="url(#cellT)"/>
<polygon points="546.8,504.7 561.7,501.7 575.6,506.0 561.2,509.2" fill="url(#cellT)"/>
<polygon points="561.2,509.2 575.6,506.0 588.7,510.0 574.8,513.3" fill="url(#cellT)"/>
<polygon points="527.9,524.6 539.6,521.8 539.6,593.3 527.9,597.2" fill="url(#notch)"/>
<path d="M404.0 506.9L404.0 577.7 M417.5 511.1L417.5 582.8 M430.8 515.3L430.8 587.8 M443.7 519.3L443.7 592.6 M456.6 523.3L456.6 597.5 M473.8 528.7L473.8 603.9 M489.9 533.7L489.9 610.0 M404.0 506.9L489.9 533.7 M404.0 518.7L489.9 546.4 M404.0 530.4L489.9 559.0 M404.0 542.0L489.9 571.5 M404.0 554.4L489.9 584.9 M404.0 565.4L489.9 596.8 M404.0 577.7L489.9 610.0 M489.9 533.7L489.9 610.0 M502.6 530.6L502.6 605.7 M514.3 527.8L514.3 601.8 M527.9 524.6L527.9 597.2 M539.6 521.8L539.6 593.3 M550.4 519.2L550.4 589.6 M562.1 516.4L562.1 585.7 M574.8 513.3L574.8 581.4 M588.7 510.0L588.7 576.7 M489.9 533.7L588.7 510.0 M489.9 546.4L588.7 521.1 M489.9 559.0L588.7 532.1 M489.9 571.5L588.7 543.0 M489.9 584.9L588.7 554.8 M489.9 596.8L588.7 565.1 M489.9 610.0L588.7 576.7 M404.0 506.9L489.9 533.7 M418.8 504.5L502.6 530.6 M432.4 502.4L514.3 527.8 M455.1 498.7L533.8 523.2 M474.4 495.6L550.4 519.2 M488.1 493.4L562.1 516.4 M502.8 491.1L574.8 513.3 M519.0 488.5L588.7 510.0 M417.5 511.1L529.9 491.9 M430.8 515.3L540.7 495.2 M443.7 519.3L551.2 498.4 M456.6 523.3L561.7 501.7 M473.8 528.7L575.6 506.0 M489.9 533.7L588.7 510.0" stroke="#463b35" stroke-width="1.1" fill="none" stroke-linecap="round"/>
<polygon points="404.0,506.9 473.0,489.0 487.1,493.6" fill="#f2e7d8"/>
<polygon points="487.1,493.6 495.3,496.3 519.0,488.5" fill="#fbf9f5"/>
<path d="M404.0 506.9L473.0 489.0L495.3 496.3L519.0 488.5" stroke="#463b35" stroke-width="1.5" fill="none" stroke-linejoin="round"/>
<path d="M519.0 488.5L588.7 510.0L588.7 576.7L489.9 610.0L404.0 577.7L404.0 506.9" fill="none" stroke="#463b35" stroke-width="1.5" stroke-linejoin="round"/>
<path d="M404.0 506.9L489.9 533.7L588.7 510.0M489.9 533.7L489.9 610.0" stroke="#463b35" stroke-width="1.5" fill="none"/>
<path d="M506.9 510.9q0.6 -2.9 1.2 -1.4 M478.1 520.2q-0.2 -0.8 -0.5 0.7 M495.7 513.1q-1.9 -1.5 -3.9 0.0 M490.9 505.3q1.4 -1.8 2.7 -0.3 M473.5 509.6q-1.0 -1.0 -2.1 0.5 M462.8 507.5q-2.1 -2.2 -4.1 -0.7 M494.9 514.6q1.5 -2.4 3.1 -0.9 M486.9 501.1q-2.2 -1.9 -4.5 -0.4 M477.0 512.4q-0.4 -0.3 -0.8 1.2 M509.2 512.3q-1.9 -1.3 -3.8 0.2 M483.1 508.2q-2.5 -2.7 -4.9 -1.2 M476.7 512.0q-2.1 -1.5 -4.2 -0.0 M488.2 506.7q-0.5 -1.1 -1.0 0.4 M508.3 511.4q-1.6 -1.2 -3.3 0.3 M484.3 510.3q0.3 -1.2 0.6 0.3 M497.0 513.0q2.5 -0.0 4.9 1.5 M513.7 512.8q2.3 -2.3 4.5 -0.8 M473.9 511.5q-0.7 -1.0 -1.3 0.5 M442.8 511.9q-2.1 -2.0 -4.1 -0.5 M480.4 504.6q-0.2 -1.8 -0.5 -0.3 M499.8 507.1q-2.4 -0.6 -4.8 0.9 M485.9 517.5q-1.4 -1.7 -2.9 -0.2 M482.8 514.0q0.6 -2.7 1.3 -1.2 M477.9 510.5q1.4 -0.6 2.8 0.9 M455.4 516.7q-1.3 -0.8 -2.5 0.7 M474.8 515.2q2.3 -1.8 4.6 -0.3 M479.4 522.7q-0.7 -1.0 -1.3 0.5 M518.9 516.2q-1.2 -2.8 -2.4 -1.3 M488.8 509.4q2.2 -0.0 4.5 1.5 M477.0 511.6q-2.2 -2.4 -4.4 -0.9 M476.5 519.1q2.3 -1.9 4.7 -0.4 M507.5 513.5q-1.8 -2.7 -3.6 -1.2 M448.9 513.7q-2.2 -1.6 -4.3 -0.1 M448.6 505.8q-0.6 -0.3 -1.2 1.2 M512.4 515.3q1.4 -0.4 2.7 1.1 M473.2 513.2q-2.3 -1.4 -4.5 0.1 M508.6 515.1q-2.1 -0.7 -4.2 0.8 M483.1 512.3q-1.6 -1.6 -3.2 -0.1 M460.1 512.9q-1.6 -1.6 -3.3 -0.1 M493.5 506.3q2.2 -2.9 4.4 -1.4 M513.0 504.8q0.2 -1.4 0.4 0.1 M509.6 510.1q0.2 -2.1 0.4 -0.6 M453.4 505.3q-2.0 -0.9 -4.0 0.6 M467.4 516.7q0.7 -2.8 1.4 -1.3 M459.3 511.4q1.9 -2.3 3.8 -0.8 M471.5 503.1q0.6 -0.4 1.2 1.1 M505.8 508.9q0.6 -1.0 1.1 0.5 M478.3 513.6q-1.6 -1.2 -3.1 0.3 M487.6 512.7q-0.7 -1.6 -1.5 -0.1 M476.0 512.2q1.4 -2.0 2.8 -0.5 M478.9 511.0q2.3 -1.2 4.5 0.3 M521.5 500.9q1.7 -2.7 3.3 -1.2 M482.2 515.7q1.4 -2.4 2.8 -0.9 M488.6 513.5q-1.9 -0.2 -3.8 1.3 M493.8 508.1q1.2 -1.6 2.4 -0.1 M463.0 514.0q0.7 -2.3 1.3 -0.8 M497.0 517.3q-1.5 -1.7 -3.0 -0.2 M482.5 510.7q-2.0 -0.6 -4.0 0.9 M495.7 510.7q1.8 -1.2 3.5 0.3 M486.3 513.0q-1.1 -2.1 -2.2 -0.6 M458.4 500.9q2.2 -0.4 4.3 1.1 M500.5 499.3q-2.0 -2.0 -4.1 -0.5 M500.4 517.7q-0.0 -2.0 -0.1 -0.5 M476.6 506.2q-1.5 -2.2 -2.9 -0.7 M463.7 517.4q0.3 -1.7 0.7 -0.2 M500.1 514.6q-0.9 -2.5 -1.7 -1.0 M467.7 512.8q1.1 -1.0 2.1 0.5 M510.0 513.5q-0.8 -1.7 -1.6 -0.2 M443.1 510.9q1.9 -0.8 3.8 0.7 M502.6 516.1q-0.8 -2.9 -1.6 -1.4 M457.7 513.3q1.8 -2.0 3.7 -0.5 M475.3 505.2q-2.0 -0.8 -4.0 0.7 M493.6 518.0q-2.1 -3.0 -4.3 -1.5 M482.5 510.3q-1.8 -2.5 -3.5 -1.0 M519.7 511.4q2.5 -1.1 5.0 0.4 M473.0 522.9q0.0 -2.6 0.1 -1.1 M462.0 508.8q-1.2 -2.0 -2.3 -0.5" stroke="#5a4a3e" stroke-width="0.8" fill="none" opacity="0.75"/>
<polygon points="336,475.5 369.5,475.5 368.5,466 395.7,481.7 368.5,496.2 369.5,487.6 336,487.6" fill="#677d87"/>
<line x1="400" y1="482.2" x2="414.5" y2="482.2" stroke="#4a6472" stroke-width="2" stroke-linecap="round"/>
<polygon points="583.7,359.2 599.8,362.6 597.5,367 602.5,374.5 598.8,377 590.5,369.5 585.8,369.5" fill="#677d87"/>
<polygon points="599.1,376.1 608.5,388.2 611.5,385.8 601.9,373.9" fill="#677d87"/><circle cx="610.0" cy="387.0" r="1.9" fill="#677d87"/><polygon points="608.4,388.1 617.3,400.7 620.7,398.3 611.6,385.9" fill="#677d87"/><circle cx="619.0" cy="399.5" r="2.0" fill="#677d87"/><polygon points="617.7,401.1 638.6,419.2 641.4,415.8 620.3,397.9" fill="#677d87"/><circle cx="640.0" cy="417.5" r="2.2" fill="#677d87"/><polygon points="638.6,419.2 660.5,437.8 663.5,434.2 641.4,415.8" fill="#677d87"/><circle cx="662.0" cy="436.0" r="2.3" fill="#677d87"/>
<polygon points="672.4,445.4 664.7,426.5 661.5,436 651.5,438.5" fill="#677d87"/>
<polygon points="598.7,404.9 621.3,414.6 622.7,411.4 599.9,402.1" fill="#677d87"/><circle cx="622.0" cy="413.0" r="1.7" fill="#677d87"/><polygon points="621.2,414.5 641.1,425.7 642.9,422.3 622.8,411.5" fill="#677d87"/><circle cx="642.0" cy="424.0" r="2.0" fill="#677d87"/><polygon points="640.9,425.6 656.8,436.3 659.2,432.7 643.1,422.4" fill="#677d87"/><circle cx="658.0" cy="434.5" r="2.2" fill="#677d87"/>
<polygon points="598.2,453.5 624.7,458.7 625.3,455.3 598.8,450.5" fill="#677d87"/><circle cx="625.0" cy="457.0" r="1.7" fill="#677d87"/><polygon points="624.7,458.7 644.6,462.9 645.4,459.1 625.3,455.3" fill="#677d87"/><circle cx="645.0" cy="461.0" r="1.9" fill="#677d87"/><polygon points="644.6,462.9 660.6,466.6 661.4,462.4 645.4,459.1" fill="#677d87"/><circle cx="661.0" cy="464.5" r="2.1" fill="#677d87"/>
<polygon points="673.2,466.8 657,456 660.5,464.6 652.7,471.5" fill="#677d87"/>
<polygon points="602.0,516.4 625.6,507.6 624.4,504.4 601.0,513.6" fill="#677d87"/><circle cx="625.0" cy="506.0" r="1.8" fill="#677d87"/><polygon points="625.5,507.7 645.6,501.4 644.4,497.6 624.5,504.3" fill="#677d87"/><circle cx="645.0" cy="499.5" r="2.0" fill="#677d87"/><polygon points="645.5,501.5 665.6,496.7 664.4,492.3 644.5,497.5" fill="#677d87"/><circle cx="665.0" cy="494.5" r="2.3" fill="#677d87"/>
<polygon points="680.7,489.4 660.3,488 664.6,494.7 670,505.5" fill="#677d87"/>
<polygon points="665.0,495.8 644.0,508.4 646.0,511.6 667.0,499.2" fill="#677d87"/><circle cx="645.0" cy="510.0" r="1.9" fill="#677d87"/><polygon points="644.0,508.4 624.1,521.5 625.9,524.5 646.0,511.6" fill="#677d87"/><circle cx="625.0" cy="523.0" r="1.7" fill="#677d87"/><polygon points="623.9,521.6 608.0,534.2 610.0,536.8 626.1,524.4" fill="#677d87"/><circle cx="609.0" cy="535.5" r="1.6" fill="#677d87"/>
<polygon points="599,542 609.8,527.5 610.8,536 615.5,542.5" fill="#677d87"/>
<polygon points="54.7,480.0 286.0,484.0 286.0,499.0 188.0,509.5 166.0,509.6 117.0,503.0 54.7,493.0" fill="#a9b0b9" stroke="#747a84" stroke-width="0.9"/>
<polygon points="57.0,484.0 74.0,484.0 74.0,490.7 57.0,490.7" fill="#ccd1d7" opacity="0.9"/>
<path d="M67.9 486.1 l-2.2 -1.1" stroke="#4e5564" stroke-width="1" opacity="0.8"/>
<path d="M69.5 487.8 l3.9 -1.7" stroke="#4e5564" stroke-width="1" opacity="0.8"/>
<path d="M64.2 486.1 l-2.8 0.0" stroke="#4e5564" stroke-width="1" opacity="0.8"/>
<polygon points="78.0,484.0 96.0,484.0 96.0,494.2 78.0,494.2" fill="#ccd1d7" opacity="0.9"/>
<path d="M78.5 487.2 l1.5 0.2" stroke="#4e5564" stroke-width="1" opacity="0.8"/>
<path d="M82.0 489.6 l3.1 -2.0" stroke="#4e5564" stroke-width="1" opacity="0.8"/>
<path d="M92.5 490.3 l-1.6 -1.4" stroke="#4e5564" stroke-width="1" opacity="0.8"/>
<polygon points="100.0,484.0 118.0,484.0 118.0,497.7 100.0,497.7" fill="#ccd1d7" opacity="0.9"/>
<path d="M117.2 489.3 l-4.1 -1.6" stroke="#4e5564" stroke-width="1" opacity="0.8"/>
<path d="M115.3 491.9 l3.1 0.9" stroke="#4e5564" stroke-width="1" opacity="0.8"/>
<path d="M109.7 495.5 l-1.2 0.2" stroke="#4e5564" stroke-width="1" opacity="0.8"/>
<polygon points="122.0,484.0 140.0,484.0 140.0,500.9 122.0,500.9" fill="#ccd1d7" opacity="0.9"/>
<path d="M136.9 494.0 l3.6 0.3" stroke="#4e5564" stroke-width="1" opacity="0.8"/>
<path d="M134.7 486.6 l-2.7 -0.8" stroke="#4e5564" stroke-width="1" opacity="0.8"/>
<path d="M123.4 489.0 l-4.0 -0.9" stroke="#4e5564" stroke-width="1" opacity="0.8"/>
<polygon points="144.0,484.0 162.0,484.0 162.0,503.8 144.0,503.8" fill="#ccd1d7" opacity="0.9"/>
<path d="M155.4 491.8 l-1.3 -1.2" stroke="#4e5564" stroke-width="1" opacity="0.8"/>
<path d="M148.8 500.8 l1.5 0.4" stroke="#4e5564" stroke-width="1" opacity="0.8"/>
<path d="M147.1 497.6 l-3.4 -0.5" stroke="#4e5564" stroke-width="1" opacity="0.8"/>
<polygon points="168.0,484.0 185.0,484.0 185.0,505.6 168.0,505.6" fill="#ccd1d7" opacity="0.9"/>
<path d="M184.8 497.2 l0.6 0.7" stroke="#4e5564" stroke-width="1" opacity="0.8"/>
<path d="M182.3 499.6 l-2.7 -1.9" stroke="#4e5564" stroke-width="1" opacity="0.8"/>
<path d="M173.4 490.7 l-2.9 1.8" stroke="#4e5564" stroke-width="1" opacity="0.8"/>
<polygon points="190.0,484.0 206.0,484.0 206.0,504.4 190.0,504.4" fill="#ccd1d7" opacity="0.9"/>
<path d="M204.0 491.2 l1.6 -0.4" stroke="#4e5564" stroke-width="1" opacity="0.8"/>
<path d="M204.6 493.5 l-2.4 -1.0" stroke="#4e5564" stroke-width="1" opacity="0.8"/>
<path d="M199.0 490.3 l0.8 1.6" stroke="#4e5564" stroke-width="1" opacity="0.8"/>
<polygon points="210.0,484.0 228.0,484.0 228.0,502.2 210.0,502.2" fill="#ccd1d7" opacity="0.9"/>
<path d="M217.2 489.1 l5.0 0.0" stroke="#4e5564" stroke-width="1" opacity="0.8"/>
<path d="M211.6 486.7 l-3.9 0.5" stroke="#4e5564" stroke-width="1" opacity="0.8"/>
<path d="M224.3 492.0 l-4.4 -0.5" stroke="#4e5564" stroke-width="1" opacity="0.8"/>
<polygon points="232.0,484.0 250.0,484.0 250.0,499.8 232.0,499.8" fill="#ccd1d7" opacity="0.9"/>
<path d="M249.9 492.3 l4.7 1.4" stroke="#4e5564" stroke-width="1" opacity="0.8"/>
<path d="M232.2 494.5 l1.8 0.1" stroke="#4e5564" stroke-width="1" opacity="0.8"/>
<path d="M236.8 493.6 l-3.9 -0.3" stroke="#4e5564" stroke-width="1" opacity="0.8"/>
<polygon points="254.0,484.0 270.0,484.0 270.0,497.6 254.0,497.6" fill="#ccd1d7" opacity="0.9"/>
<path d="M261.3 495.1 l3.8 -0.9" stroke="#4e5564" stroke-width="1" opacity="0.8"/>
<path d="M262.0 487.7 l4.1 1.5" stroke="#4e5564" stroke-width="1" opacity="0.8"/>
<path d="M258.8 492.1 l1.1 -1.4" stroke="#4e5564" stroke-width="1" opacity="0.8"/>
<polygon points="273.0,484.0 284.0,484.0 284.0,495.8 273.0,495.8" fill="#ccd1d7" opacity="0.9"/>
<path d="M281.4 490.2 l2.8 0.1" stroke="#4e5564" stroke-width="1" opacity="0.8"/>
<path d="M273.0 488.5 l-4.8 1.7" stroke="#4e5564" stroke-width="1" opacity="0.8"/>
<path d="M282.7 492.5 l-1.9 -1.8" stroke="#4e5564" stroke-width="1" opacity="0.8"/>
<path d="M55 482 L55 492.0" stroke="#5d6472" stroke-width="1.3"/>
<path d="M76 482 L76 495.4" stroke="#5d6472" stroke-width="1.3"/>
<path d="M98 482 L98 499.0" stroke="#5d6472" stroke-width="1.3"/>
<path d="M120 482 L120 502.4" stroke="#5d6472" stroke-width="1.3"/>
<path d="M142 482 L142 505.4" stroke="#5d6472" stroke-width="1.3"/>
<path d="M165 482 L165 508.5" stroke="#5d6472" stroke-width="1.3"/>
<path d="M188 482 L188 508.5" stroke="#5d6472" stroke-width="1.3"/>
<path d="M208 482 L208 506.4" stroke="#5d6472" stroke-width="1.3"/>
<path d="M230 482 L230 504.0" stroke="#5d6472" stroke-width="1.3"/>
<path d="M252 482 L252 501.6" stroke="#5d6472" stroke-width="1.3"/>
<path d="M271 482 L271 499.6" stroke="#5d6472" stroke-width="1.3"/>
<path d="M285 482 L285 498.1" stroke="#5d6472" stroke-width="1.3"/>
<path d="M55 490 L166 503 L286 493" stroke="#6e7482" stroke-width="1.2" fill="none"/>
<polygon points="208.0,427.0 170.0,472.0 254.0,468.5 236.0,458.0" fill="#6c7384" stroke="#4a4a4c" stroke-width="1"/>
<path d="M209 438 L209 469 M197 456 L222 456" stroke="#d9cdb0" stroke-width="1.5"/><path d="M186 463 L195 458 M222 458 L232 464 M200 446 L204 440 M214 444 L218 450" stroke="#b8a478" stroke-width="1.1"/>
<polygon points="207.0,412.0 213.0,422.0 220.0,432.5 228.0,443.0 235.5,452.0 255.0,461.8 278.4,466.0 304.0,465.5 303.0,470.5 278.0,470.0 252.0,466.5 233.0,457.0 222.0,447.0 212.0,433.0 207.0,427.0" fill="#e0d5b8" stroke="#4c4335" stroke-width="1"/>
<defs><clipPath id="ltm"><path d="M31.0 462.0 L58.6 459.8 L86.0 454.0 L109.4 442.3 L125.0 428.6 L134.8 413.0 L207.0 417.0 L209.0 423.0 L200.0 437.0 L186.0 455.0 L170.0 472.0 L150.0 489.0 L136.7 489.5 L97.7 485.2 L54.7 479.4 L32.2 472.5 Z"/></clipPath></defs>
<path d="M31.0 462.0 L58.6 459.8 L86.0 454.0 L109.4 442.3 L125.0 428.6 L134.8 413.0 L207.0 417.0 L209.0 423.0 L200.0 437.0 L186.0 455.0 L170.0 472.0 L150.0 489.0 L136.7 489.5 L97.7 485.2 L54.7 479.4 L32.2 472.5 Z" fill="#b69e71"/>
<g clip-path="url(#ltm)"><path d="M-4.4 464.7L-7.1 462.7Q94.1 387.7 135.4 312.7 M1.3 466.1L-1.4 464.1Q99.9 389.1 141.1 314.1 M7.1 467.6L4.4 465.6Q105.6 390.6 146.9 315.6 M12.8 469.0L10.1 467.0Q111.3 392.0 152.6 317.0 M18.5 470.4L15.8 468.4Q117.1 393.4 158.3 318.4 M24.3 471.9L21.6 469.9Q122.8 394.9 164.1 319.9 M30.0 473.3L27.3 471.3Q128.6 396.3 169.8 321.3 M35.7 474.8L33.0 472.8Q134.3 397.8 175.5 322.8 M41.4 476.5L38.7 474.5Q140.0 399.5 181.2 324.5 M47.1 478.2L44.4 476.2Q145.6 401.2 186.9 326.2 M52.7 480.0L50.0 478.0Q151.3 403.0 192.5 328.0 M58.5 481.4L55.8 479.4Q157.0 404.4 198.3 329.4 M64.3 482.3L61.6 480.3Q162.8 405.3 204.1 330.3 M70.2 483.1L67.5 481.1Q168.7 406.1 210.0 331.1 M76.0 483.9L73.3 481.9Q174.6 406.9 215.8 331.9 M81.9 484.7L79.2 482.7Q180.4 407.7 221.7 332.7 M87.7 485.5L85.0 483.5Q186.3 408.5 227.5 333.5 M93.6 486.3L90.9 484.3Q192.2 409.3 233.4 334.3 M99.5 487.1L96.8 485.1Q198.0 410.1 239.3 335.1 M105.4 487.7L102.7 485.7Q203.9 410.7 245.2 335.7 M111.2 488.4L108.5 486.4Q209.8 411.4 251.0 336.4 M117.1 489.0L114.4 487.0Q215.7 412.0 256.9 337.0 M123.0 489.7L120.3 487.7Q221.6 412.7 262.8 337.7 M128.9 490.3L126.2 488.3Q227.4 413.3 268.7 338.3 M134.8 491.0L132.1 489.0Q233.3 414.0 274.6 339.0 M140.7 491.5L138.0 489.5Q239.2 414.5 280.5 339.5 M146.6 491.9L143.9 489.9Q245.1 414.9 286.4 339.9 M152.5 492.2L149.8 490.2Q251.0 415.2 292.3 340.2 M158.4 492.5L155.7 490.5Q256.9 415.5 298.2 340.5 M164.3 492.9L161.6 490.9Q262.8 415.9 304.1 340.9 M170.2 493.2L167.5 491.2Q268.8 416.2 310.0 341.2 M176.1 493.5L173.4 491.5Q274.7 416.5 315.9 341.5 M182.0 493.9L179.3 491.9Q280.6 416.9 321.8 341.9 M187.9 494.2L185.2 492.2Q286.5 417.2 327.7 342.2 M193.8 494.5L191.1 492.5Q292.4 417.5 333.6 342.5 M199.7 494.8L197.0 492.8Q298.3 417.8 339.5 342.8" stroke="#e7dbbd" stroke-width="2.8" fill="none"/><path d="M-7.3 464.0L-10.0 462.0Q91.2 387.0 132.5 312.0 M-1.6 465.4L-4.3 463.4Q97.0 388.4 138.2 313.4 M4.2 466.9L1.5 464.9Q102.7 389.9 144.0 314.9 M9.9 468.3L7.2 466.3Q108.5 391.3 149.7 316.3 M15.7 469.7L13.0 467.7Q114.2 392.7 155.5 317.7 M21.4 471.1L18.7 469.1Q120.0 394.1 161.2 319.1 M27.2 472.6L24.5 470.6Q125.7 395.6 167.0 320.6 M32.9 474.0L30.2 472.0Q131.4 397.0 172.7 322.0 M38.6 475.6L35.9 473.6Q137.1 398.6 178.4 323.6 M44.2 477.4L41.5 475.4Q142.8 400.4 184.0 325.4 M49.9 479.1L47.2 477.1Q148.5 402.1 189.7 327.1 M55.6 480.8L52.9 478.8Q154.1 403.8 195.4 328.8 M61.4 481.9L58.7 479.9Q159.9 404.9 201.2 329.9 M67.2 482.7L64.5 480.7Q165.8 405.7 207.0 330.7 M73.1 483.5L70.4 481.5Q171.6 406.5 212.9 331.5 M79.0 484.3L76.3 482.3Q177.5 407.3 218.8 332.3 M84.8 485.1L82.1 483.1Q183.4 408.1 224.6 333.1 M90.7 485.9L88.0 483.9Q189.2 408.9 230.5 333.9 M96.5 486.7L93.8 484.7Q195.1 409.7 236.3 334.7 M102.4 487.4L99.7 485.4Q201.0 410.4 242.2 335.4 M108.3 488.1L105.6 486.1Q206.8 411.1 248.1 336.1 M114.2 488.7L111.5 486.7Q212.7 411.7 254.0 336.7 M120.1 489.4L117.4 487.4Q218.6 412.4 259.9 337.4 M125.9 490.0L123.2 488.0Q224.5 413.0 265.7 338.0 M131.8 490.7L129.1 488.7Q230.4 413.7 271.6 338.7 M137.7 491.3L135.0 489.3Q236.3 414.3 277.5 339.3 M143.6 491.7L140.9 489.7Q242.2 414.7 283.4 339.7 M149.5 492.1L146.8 490.1Q248.1 415.1 289.3 340.1 M155.4 492.4L152.7 490.4Q254.0 415.4 295.2 340.4 M161.3 492.7L158.6 490.7Q259.9 415.7 301.1 340.7 M167.2 493.0L164.5 491.0Q265.8 416.0 307.0 341.0 M173.2 493.4L170.5 491.4Q271.7 416.4 313.0 341.4 M179.1 493.7L176.4 491.7Q277.6 416.7 318.9 341.7 M185.0 494.0L182.3 492.0Q283.5 417.0 324.8 342.0 M190.9 494.3L188.2 492.3Q289.4 417.3 330.7 342.3 M196.8 494.7L194.1 492.7Q295.3 417.7 336.6 342.7 M202.7 495.0L200.0 493.0Q301.2 418.0 342.5 343.0" stroke="#4c4335" stroke-width="1.05" fill="none"/></g>
<path d="M207.5 421 Q197 444 171 471.5" stroke="#e3d8bd" stroke-width="5" fill="none"/><path d="M210 424 Q200 447 175 473" stroke="#4c4335" stroke-width="1" fill="none"/><path d="M205 419 Q194 442 168 470" stroke="#4c4335" stroke-width="0.9" fill="none"/>
<path d="M31.0 462.0 L58.6 459.8 L86.0 454.0 L109.4 442.3 L125.0 428.6 L134.8 413.0 L207.0 417.0" fill="none" stroke="#4c4335" stroke-width="1.1"/>
<path d="M32.2 472.5 L54.7 479.4 L97.7 485.2 L150 489" fill="none" stroke="#4c4335" stroke-width="0.9"/>
<defs><clipPath id="ltl"><path d="M152.0 469.5 L170.0 470.0 L240.0 466.5 L303.8 467.7 L305.8 471.6 L286.0 481.3 L247.0 485.2 L188.6 488.0 L150.0 489.5 Z"/></clipPath></defs>
<path d="M152.0 469.5 L170.0 470.0 L240.0 466.5 L303.8 467.7 L305.8 471.6 L286.0 481.3 L247.0 485.2 L188.6 488.0 L150.0 489.5 Z" fill="#b8a175"/>
<g clip-path="url(#ltl)"><path d="M144.2 492.0L142.4 490.0Q155.0 476.0 157.9 462.0 M148.9 491.9L147.1 489.9Q159.9 475.9 162.9 461.9 M153.7 491.8L151.8 489.8Q164.8 475.8 167.8 461.8 M158.4 491.7L156.6 489.7Q169.7 475.7 172.8 461.7 M163.2 491.6L161.3 489.6Q174.6 475.6 177.8 461.6 M168.0 491.5L166.0 489.5Q179.5 475.5 182.7 461.5 M172.7 491.4L170.8 489.4Q184.4 475.4 187.7 461.4 M177.5 491.3L175.5 489.3Q189.3 475.3 192.7 461.3 M182.2 491.2L180.2 489.2Q194.2 475.2 197.6 461.2 M187.0 491.1L185.0 489.1Q199.1 475.1 202.6 461.1 M191.7 490.9L189.7 488.9Q203.9 474.9 207.6 460.9 M196.5 490.7L194.4 488.7Q208.8 474.7 212.5 460.7 M201.2 490.5L199.2 488.5Q213.7 474.5 217.5 460.5 M206.0 490.2L203.9 488.2Q218.6 474.2 222.4 460.2 M210.7 490.0L208.6 488.0Q223.5 474.0 227.4 460.0 M215.5 489.7L213.3 487.7Q228.4 473.7 232.4 459.7 M220.2 489.5L218.1 487.5Q233.2 473.5 237.3 459.5 M225.0 489.2L222.8 487.2Q238.1 473.2 242.3 459.2 M229.7 489.0L227.5 487.0Q243.0 473.0 247.3 459.0 M234.5 488.8L232.3 486.8Q247.9 472.8 252.2 458.8 M239.2 488.5L237.0 486.5Q252.8 472.5 257.2 458.5 M244.0 488.3L241.7 486.3Q257.7 472.3 262.1 458.3 M248.7 488.0L246.4 486.0Q262.5 472.0 267.1 458.0 M253.5 487.6L251.2 485.6Q267.4 471.6 272.0 457.6 M258.2 487.1L255.9 485.1Q272.3 471.1 277.0 457.1 M262.9 486.6L260.6 484.6Q277.1 470.6 281.9 456.6 M267.7 486.1L265.3 484.1Q282.0 470.1 286.9 456.1 M272.4 485.6L270.0 483.6Q286.9 469.6 291.8 455.6 M277.1 485.2L274.7 483.2Q291.7 469.2 296.8 455.2 M281.9 484.7L279.4 482.7Q296.6 468.7 301.7 454.7 M286.6 484.1L284.1 482.1Q301.5 468.1 306.6 454.1 M291.1 482.8L288.6 480.8Q306.1 466.8 311.4 452.8 M295.4 480.9L292.9 478.9Q310.6 464.9 315.9 450.9 M299.8 478.9L297.2 476.9Q315.0 462.9 320.4 448.9 M304.1 476.9L301.5 474.9Q319.5 460.9 325.0 446.9 M308.4 475.0L305.8 473.0Q324.0 459.0 329.5 445.0" stroke="#e8dcbf" stroke-width="2.2" fill="none"/><path d="M141.8 492.0L140.0 490.0Q152.6 476.0 155.4 462.0 M146.6 491.9L144.7 489.9Q157.5 475.9 160.4 461.9 M151.3 491.8L149.5 489.8Q162.4 475.8 165.3 461.8 M156.1 491.7L154.2 489.7Q167.3 475.7 170.3 461.7 M160.8 491.6L158.9 489.6Q172.2 475.6 175.3 461.6 M165.6 491.5L163.7 489.5Q177.0 475.5 180.2 461.5 M170.3 491.4L168.4 489.4Q181.9 475.4 185.2 461.4 M175.1 491.3L173.1 489.3Q186.8 475.3 190.2 461.3 M179.8 491.2L177.9 489.2Q191.7 475.2 195.1 461.2 M184.6 491.1L182.6 489.1Q196.6 475.1 200.1 461.1 M189.4 491.0L187.3 489.0Q201.5 475.0 205.1 461.0 M194.1 490.8L192.1 488.8Q206.4 474.8 210.0 460.8 M198.9 490.6L196.8 488.6Q211.3 474.6 215.0 460.6 M203.6 490.3L201.5 488.3Q216.1 474.3 220.0 460.3 M208.4 490.1L206.3 488.1Q221.0 474.1 224.9 460.1 M213.1 489.9L211.0 487.9Q225.9 473.9 229.9 459.9 M217.9 489.6L215.7 487.6Q230.8 473.6 234.8 459.6 M222.6 489.4L220.4 487.4Q235.7 473.4 239.8 459.4 M227.4 489.1L225.2 487.1Q240.6 473.1 244.8 459.1 M232.1 488.9L229.9 486.9Q245.5 472.9 249.7 458.9 M236.9 488.6L234.6 486.6Q250.3 472.6 254.7 458.6 M241.6 488.4L239.4 486.4Q255.2 472.4 259.7 458.4 M246.4 488.1L244.1 486.1Q260.1 472.1 264.6 458.1 M251.1 487.8L248.8 485.8Q265.0 471.8 269.6 457.8 M255.9 487.3L253.5 485.3Q269.9 471.3 274.5 457.3 M260.6 486.8L258.2 484.8Q274.7 470.8 279.5 456.8 M265.3 486.4L262.9 484.4Q279.6 470.4 284.4 456.4 M270.0 485.9L267.6 483.9Q284.4 469.9 289.3 455.9 M274.8 485.4L272.4 483.4Q289.3 469.4 294.3 455.4 M279.5 484.9L277.1 482.9Q294.2 468.9 299.2 454.9 M284.2 484.4L281.8 482.4Q299.0 468.4 304.2 454.4 M288.9 483.8L286.4 481.8Q303.9 467.8 309.1 453.8 M293.3 481.8L290.8 479.8Q308.3 465.8 313.6 451.8 M297.6 479.9L295.1 477.9Q312.8 463.9 318.2 449.9 M301.9 477.9L299.4 475.9Q317.3 461.9 322.7 447.9 M306.3 476.0L303.7 474.0Q321.7 460.0 327.3 446.0 M310.6 474.0L308.0 472.0Q326.2 458.0 331.8 444.0" stroke="#4c4335" stroke-width="1.0" fill="none"/></g>
<path d="M152.0 469.5 L170.0 470.0 L240.0 466.5 L303.8 467.7 L305.8 471.6 L286.0 481.3 L247.0 485.2 L188.6 488.0 L150.0 489.5 Z" fill="none" stroke="#4c4335" stroke-width="1"/>
<path d="M133 410 Q170 414.5 208 413 L209 421 Q170 423 135 419.5 Z" fill="#ddd1b3" stroke="#4c4335" stroke-width="1"/>
<path d="M135 415.5 Q170 418.5 208 417.5" stroke="#8a7b5f" stroke-width="0.8" fill="none"/>
<circle cx="134.8" cy="406.5" r="2.5" fill="#b29f74" stroke="#4c4335" stroke-width="0.9"/>
<circle cx="208.5" cy="409.5" r="2.5" fill="#b29f74" stroke="#4c4335" stroke-width="0.9"/>
<circle cx="31.5" cy="465.5" r="1.8" fill="#b29f74" stroke="#4c4335" stroke-width="0.9"/>
<circle cx="303.8" cy="466" r="1.8" fill="#b29f74" stroke="#4c4335" stroke-width="0.9"/>
<circle cx="161.5" cy="466" r="2" fill="#b29f74" stroke="#4c4335" stroke-width="0.9"/>
<circle cx="227.9" cy="520.2" r="1.1" fill="#857249" opacity="1.0"/>
<circle cx="253.1" cy="507.6" r="0.8" fill="#ab9462" opacity="1.0"/>
<ellipse cx="211.9" cy="512.0" rx="1.3" ry="0.7" transform="rotate(150 211.9 512.0)" fill="#94804f" opacity="1.0"/>
<ellipse cx="230.1" cy="506.9" rx="1.8" ry="1.0" transform="rotate(8 230.1 506.9)" fill="#ab9462" opacity="1.0"/>
<ellipse cx="155.1" cy="508.2" rx="1.3" ry="0.7" transform="rotate(33 155.1 508.2)" fill="#b09864" opacity="1.0"/>
<circle cx="200.2" cy="524.5" r="0.8" fill="#94804f" opacity="1.0"/>
<ellipse cx="150.8" cy="512.9" rx="1.9" ry="1.0" transform="rotate(86 150.8 512.9)" fill="#94804f" opacity="1.0"/>
<ellipse cx="78.2" cy="499.0" rx="1.2" ry="0.6" transform="rotate(46 78.2 499.0)" fill="#b09864" opacity="1.0"/>
<ellipse cx="135.6" cy="511.5" rx="2.1" ry="1.1" transform="rotate(138 135.6 511.5)" fill="#94804f" opacity="1.0"/>
<circle cx="115.3" cy="524.0" r="1.5" fill="#b8a06c" opacity="1.0"/>
<ellipse cx="174.4" cy="511.7" rx="1.5" ry="0.8" transform="rotate(75 174.4 511.7)" fill="#b09864" opacity="1.0"/>
<circle cx="244.5" cy="517.2" r="0.7" fill="#b09864" opacity="1.0"/>
<circle cx="223.4" cy="506.4" r="1.6" fill="#94804f" opacity="1.0"/>
<circle cx="59.8" cy="503.0" r="0.7" fill="#ab9462" opacity="1.0"/>
<circle cx="46.9" cy="500.9" r="1.0" fill="#c4ae7c" opacity="1.0"/>
<circle cx="105.7" cy="512.5" r="0.7" fill="#857249" opacity="1.0"/>
<circle cx="60.5" cy="500.8" r="0.7" fill="#ab9462" opacity="1.0"/>
<circle cx="79.9" cy="526.2" r="1.5" fill="#ab9462" opacity="1.0"/>
<circle cx="87.6" cy="503.7" r="1.6" fill="#a48d5c" opacity="1.0"/>
<ellipse cx="228.4" cy="508.1" rx="1.9" ry="1.0" transform="rotate(27 228.4 508.1)" fill="#b8a06c" opacity="1.0"/>
<circle cx="296.2" cy="501.6" r="1.3" fill="#ab9462" opacity="1.0"/>
<ellipse cx="137.1" cy="512.7" rx="1.3" ry="0.7" transform="rotate(108 137.1 512.7)" fill="#a48d5c" opacity="1.0"/>
<circle cx="132.6" cy="504.7" r="1.6" fill="#b8a06c" opacity="1.0"/>
<ellipse cx="232.5" cy="517.3" rx="1.7" ry="0.9" transform="rotate(176 232.5 517.3)" fill="#94804f" opacity="1.0"/>
<ellipse cx="93.4" cy="507.0" rx="1.1" ry="0.6" transform="rotate(93 93.4 507.0)" fill="#b8a06c" opacity="1.0"/>
<circle cx="40.1" cy="514.2" r="0.8" fill="#ab9462" opacity="1.0"/>
<circle cx="163.2" cy="525.4" r="1.2" fill="#b8a06c" opacity="1.0"/>
<circle cx="113.7" cy="523.7" r="1.6" fill="#b8a06c" opacity="1.0"/>
<ellipse cx="56.7" cy="495.0" rx="1.5" ry="0.8" transform="rotate(179 56.7 495.0)" fill="#ab9462" opacity="1.0"/>
<ellipse cx="71.2" cy="500.1" rx="1.0" ry="0.5" transform="rotate(117 71.2 500.1)" fill="#b09864" opacity="1.0"/>
<circle cx="160.3" cy="512.2" r="0.6" fill="#ab9462" opacity="1.0"/>
<circle cx="127.7" cy="525.7" r="1.6" fill="#857249" opacity="1.0"/>
<circle cx="221.7" cy="510.3" r="1.5" fill="#94804f" opacity="1.0"/>
<ellipse cx="127.7" cy="505.7" rx="2.3" ry="1.3" transform="rotate(152 127.7 505.7)" fill="#857249" opacity="1.0"/>
<circle cx="190.1" cy="511.8" r="1.6" fill="#94804f" opacity="1.0"/>
<ellipse cx="231.5" cy="506.2" rx="1.0" ry="0.5" transform="rotate(137 231.5 506.2)" fill="#7b6a47" opacity="1.0"/>
<circle cx="276.2" cy="513.1" r="1.0" fill="#94804f" opacity="1.0"/>
<circle cx="142.6" cy="516.5" r="1.3" fill="#94804f" opacity="1.0"/>
<ellipse cx="138.5" cy="512.9" rx="1.9" ry="1.0" transform="rotate(170 138.5 512.9)" fill="#b8a06c" opacity="1.0"/>
<circle cx="165.7" cy="521.5" r="1.5" fill="#857249" opacity="1.0"/>
<circle cx="42.0" cy="492.6" r="1.2" fill="#c4ae7c" opacity="1.0"/>
<circle cx="202.1" cy="518.6" r="1.1" fill="#b8a06c" opacity="1.0"/>
<circle cx="132.2" cy="512.2" r="1.4" fill="#ab9462" opacity="1.0"/>
<ellipse cx="110.1" cy="519.2" rx="1.1" ry="0.6" transform="rotate(121 110.1 519.2)" fill="#a48d5c" opacity="1.0"/>
<circle cx="256.6" cy="522.1" r="1.2" fill="#ab9462" opacity="1.0"/>
<circle cx="174.0" cy="515.9" r="0.8" fill="#a48d5c" opacity="1.0"/>
<circle cx="275.2" cy="507.2" r="0.7" fill="#ab9462" opacity="1.0"/>
<circle cx="83.1" cy="503.4" r="1.6" fill="#c4ae7c" opacity="1.0"/>
<circle cx="183.3" cy="518.1" r="1.3" fill="#7b6a47" opacity="1.0"/>
<circle cx="234.3" cy="510.2" r="1.1" fill="#ab9462" opacity="1.0"/>
<ellipse cx="141.9" cy="521.7" rx="1.7" ry="0.9" transform="rotate(19 141.9 521.7)" fill="#ab9462" opacity="1.0"/>
<ellipse cx="284.3" cy="501.9" rx="1.7" ry="0.9" transform="rotate(98 284.3 501.9)" fill="#b8a06c" opacity="1.0"/>
<circle cx="283.2" cy="500.1" r="0.8" fill="#7b6a47" opacity="1.0"/>
<circle cx="236.4" cy="510.4" r="1.0" fill="#a48d5c" opacity="1.0"/>
<ellipse cx="307.5" cy="495.2" rx="1.6" ry="0.9" transform="rotate(99 307.5 495.2)" fill="#c4ae7c" opacity="1.0"/>
<ellipse cx="182.5" cy="516.2" rx="2.2" ry="1.2" transform="rotate(111 182.5 516.2)" fill="#b09864" opacity="1.0"/>
<circle cx="195.1" cy="507.0" r="0.9" fill="#7b6a47" opacity="1.0"/>
<ellipse cx="209.2" cy="533.4" rx="2.3" ry="1.2" transform="rotate(109 209.2 533.4)" fill="#a48d5c" opacity="1.0"/>
<circle cx="81.7" cy="518.8" r="0.8" fill="#857249" opacity="1.0"/>
<ellipse cx="104.7" cy="506.8" rx="1.3" ry="0.7" transform="rotate(20 104.7 506.8)" fill="#7b6a47" opacity="1.0"/>
<ellipse cx="210.9" cy="505.7" rx="1.7" ry="0.9" transform="rotate(17 210.9 505.7)" fill="#c4ae7c" opacity="1.0"/>
<ellipse cx="124.2" cy="505.5" rx="0.9" ry="0.5" transform="rotate(121 124.2 505.5)" fill="#b8a06c" opacity="1.0"/>
<ellipse cx="275.5" cy="500.5" rx="1.3" ry="0.7" transform="rotate(155 275.5 500.5)" fill="#c4ae7c" opacity="1.0"/>
<circle cx="299.2" cy="505.8" r="1.4" fill="#b8a06c" opacity="1.0"/>
<circle cx="82.2" cy="506.1" r="1.5" fill="#7b6a47" opacity="1.0"/>
<ellipse cx="282.2" cy="501.1" rx="1.8" ry="1.0" transform="rotate(77 282.2 501.1)" fill="#ab9462" opacity="1.0"/>
<circle cx="288.0" cy="507.9" r="1.4" fill="#c4ae7c" opacity="1.0"/>
<ellipse cx="278.7" cy="503.9" rx="1.7" ry="0.9" transform="rotate(107 278.7 503.9)" fill="#c4ae7c" opacity="1.0"/>
<circle cx="215.5" cy="506.4" r="1.4" fill="#b8a06c" opacity="1.0"/>
<circle cx="292.2" cy="503.3" r="1.3" fill="#b09864" opacity="1.0"/>
<circle cx="292.6" cy="505.1" r="1.5" fill="#857249" opacity="1.0"/>
<ellipse cx="124.7" cy="518.5" rx="1.8" ry="0.9" transform="rotate(126 124.7 518.5)" fill="#7b6a47" opacity="1.0"/>
<circle cx="153.2" cy="509.4" r="0.9" fill="#857249" opacity="1.0"/>
<circle cx="61.9" cy="496.3" r="0.8" fill="#b09864" opacity="1.0"/>
<ellipse cx="212.6" cy="511.9" rx="0.9" ry="0.5" transform="rotate(177 212.6 511.9)" fill="#857249" opacity="1.0"/>
<circle cx="116.4" cy="506.0" r="1.1" fill="#7b6a47" opacity="1.0"/>
<ellipse cx="225.1" cy="508.8" rx="2.0" ry="1.0" transform="rotate(59 225.1 508.8)" fill="#857249" opacity="1.0"/>
<ellipse cx="74.6" cy="509.5" rx="2.3" ry="1.2" transform="rotate(123 74.6 509.5)" fill="#b8a06c" opacity="1.0"/>
<circle cx="141.2" cy="519.8" r="1.6" fill="#857249" opacity="1.0"/>
<ellipse cx="102.3" cy="503.6" rx="2.0" ry="1.0" transform="rotate(13 102.3 503.6)" fill="#b8a06c" opacity="1.0"/>
<ellipse cx="233.6" cy="507.5" rx="2.3" ry="1.2" transform="rotate(3 233.6 507.5)" fill="#b09864" opacity="1.0"/>
<circle cx="231.1" cy="507.6" r="1.6" fill="#857249" opacity="1.0"/>
<ellipse cx="203.9" cy="507.4" rx="1.0" ry="0.5" transform="rotate(161 203.9 507.4)" fill="#b09864" opacity="1.0"/>
<ellipse cx="279.7" cy="499.3" rx="1.4" ry="0.7" transform="rotate(106 279.7 499.3)" fill="#ab9462" opacity="1.0"/>
<circle cx="254.8" cy="511.4" r="1.2" fill="#7b6a47" opacity="1.0"/>
<circle cx="185.9" cy="511.3" r="1.2" fill="#a48d5c" opacity="1.0"/>
<ellipse cx="289.1" cy="497.0" rx="2.0" ry="1.1" transform="rotate(20 289.1 497.0)" fill="#ab9462" opacity="1.0"/>
<ellipse cx="89.7" cy="500.7" rx="1.5" ry="0.8" transform="rotate(59 89.7 500.7)" fill="#b09864" opacity="1.0"/>
<ellipse cx="135.2" cy="518.2" rx="2.0" ry="1.0" transform="rotate(59 135.2 518.2)" fill="#b09864" opacity="1.0"/>
<ellipse cx="121.6" cy="519.9" rx="2.3" ry="1.2" transform="rotate(57 121.6 519.9)" fill="#7b6a47" opacity="1.0"/>
<ellipse cx="255.7" cy="503.0" rx="1.3" ry="0.7" transform="rotate(42 255.7 503.0)" fill="#b8a06c" opacity="1.0"/>
<circle cx="149.6" cy="516.7" r="1.0" fill="#b09864" opacity="1.0"/>
<circle cx="268.4" cy="505.6" r="0.9" fill="#b09864" opacity="1.0"/>
<ellipse cx="240.1" cy="503.4" rx="1.3" ry="0.7" transform="rotate(172 240.1 503.4)" fill="#94804f" opacity="1.0"/>
<circle cx="240.0" cy="512.7" r="0.6" fill="#857249" opacity="1.0"/>
<circle cx="299.3" cy="507.6" r="1.5" fill="#b8a06c" opacity="1.0"/>
<circle cx="191.4" cy="518.1" r="1.1" fill="#94804f" opacity="1.0"/>
<ellipse cx="174.1" cy="512.8" rx="1.4" ry="0.7" transform="rotate(102 174.1 512.8)" fill="#b09864" opacity="1.0"/>
<ellipse cx="293.5" cy="503.3" rx="1.6" ry="0.8" transform="rotate(29 293.5 503.3)" fill="#c4ae7c" opacity="1.0"/>
<circle cx="289.1" cy="502.4" r="1.3" fill="#b09864" opacity="1.0"/>
<circle cx="101.3" cy="507.6" r="1.2" fill="#b09864" opacity="1.0"/>
<ellipse cx="297.7" cy="491.0" rx="1.3" ry="0.7" transform="rotate(161 297.7 491.0)" fill="#b09864" opacity="1.0"/>
<circle cx="253.2" cy="519.3" r="1.3" fill="#857249" opacity="1.0"/>
<circle cx="231.0" cy="509.7" r="0.7" fill="#94804f" opacity="1.0"/>
<circle cx="102.1" cy="507.3" r="1.3" fill="#857249" opacity="1.0"/>
<circle cx="178.4" cy="510.4" r="1.2" fill="#b8a06c" opacity="1.0"/>
<circle cx="135.2" cy="521.0" r="1.4" fill="#857249" opacity="1.0"/>
<circle cx="129.9" cy="518.2" r="1.4" fill="#b09864" opacity="1.0"/>
<circle cx="188.7" cy="515.8" r="1.1" fill="#b09864" opacity="1.0"/>
<circle cx="121.2" cy="512.0" r="0.6" fill="#b09864" opacity="1.0"/>
<circle cx="180.7" cy="513.2" r="1.3" fill="#b8a06c" opacity="1.0"/>
<ellipse cx="56.9" cy="494.3" rx="1.1" ry="0.6" transform="rotate(116 56.9 494.3)" fill="#b09864" opacity="1.0"/>
<ellipse cx="40.1" cy="502.6" rx="1.5" ry="0.8" transform="rotate(67 40.1 502.6)" fill="#b8a06c" opacity="1.0"/>
<circle cx="152.2" cy="517.9" r="0.9" fill="#7b6a47" opacity="1.0"/>
<circle cx="257.2" cy="515.1" r="1.4" fill="#a48d5c" opacity="1.0"/>
<circle cx="136.6" cy="515.9" r="1.3" fill="#7b6a47" opacity="1.0"/>
<ellipse cx="295.2" cy="504.9" rx="2.2" ry="1.2" transform="rotate(76 295.2 504.9)" fill="#b09864" opacity="1.0"/>
<ellipse cx="50.9" cy="491.6" rx="1.5" ry="0.8" transform="rotate(105 50.9 491.6)" fill="#b8a06c" opacity="1.0"/>
<ellipse cx="230.0" cy="516.7" rx="1.2" ry="0.6" transform="rotate(97 230.0 516.7)" fill="#b8a06c" opacity="1.0"/>
<circle cx="245.7" cy="515.0" r="0.8" fill="#857249" opacity="1.0"/>
<circle cx="268.5" cy="500.0" r="1.4" fill="#857249" opacity="1.0"/>
<circle cx="109.8" cy="501.7" r="0.9" fill="#7b6a47" opacity="1.0"/>
<circle cx="191.3" cy="527.6" r="0.8" fill="#7b6a47" opacity="1.0"/>
<ellipse cx="68.6" cy="497.3" rx="2.4" ry="1.3" transform="rotate(168 68.6 497.3)" fill="#857249" opacity="1.0"/>
<circle cx="171.6" cy="512.1" r="1.2" fill="#a48d5c" opacity="1.0"/>
<ellipse cx="300.5" cy="497.4" rx="2.1" ry="1.1" transform="rotate(48 300.5 497.4)" fill="#c4ae7c" opacity="1.0"/>
<circle cx="249.8" cy="505.1" r="1.4" fill="#b8a06c" opacity="1.0"/>
<ellipse cx="253.8" cy="512.9" rx="1.8" ry="0.9" transform="rotate(75 253.8 512.9)" fill="#b8a06c" opacity="1.0"/>
<circle cx="155.5" cy="522.8" r="0.8" fill="#b8a06c" opacity="1.0"/>
<circle cx="173.5" cy="518.5" r="0.9" fill="#b09864" opacity="1.0"/>
<circle cx="133.0" cy="519.5" r="0.9" fill="#94804f" opacity="1.0"/>
<circle cx="76.6" cy="497.2" r="1.3" fill="#7b6a47" opacity="1.0"/>
<ellipse cx="228.8" cy="509.2" rx="2.1" ry="1.1" transform="rotate(31 228.8 509.2)" fill="#a48d5c" opacity="1.0"/>
<ellipse cx="195.4" cy="511.8" rx="1.5" ry="0.8" transform="rotate(59 195.4 511.8)" fill="#c4ae7c" opacity="1.0"/>
<circle cx="196.4" cy="506.9" r="1.5" fill="#c4ae7c" opacity="1.0"/>
<ellipse cx="109.3" cy="512.4" rx="2.0" ry="1.0" transform="rotate(11 109.3 512.4)" fill="#7b6a47" opacity="1.0"/>
<ellipse cx="47.0" cy="494.1" rx="1.6" ry="0.9" transform="rotate(137 47.0 494.1)" fill="#94804f" opacity="1.0"/>
<circle cx="75.3" cy="500.8" r="1.3" fill="#7b6a47" opacity="1.0"/>
<circle cx="297.9" cy="492.3" r="1.0" fill="#94804f" opacity="1.0"/>
<circle cx="253.0" cy="507.3" r="1.0" fill="#b09864" opacity="1.0"/>
<circle cx="116.7" cy="523.4" r="0.7" fill="#c4ae7c" opacity="1.0"/>
<ellipse cx="258.4" cy="505.9" rx="1.1" ry="0.6" transform="rotate(54 258.4 505.9)" fill="#b09864" opacity="1.0"/>
<circle cx="263.2" cy="511.7" r="1.6" fill="#a48d5c" opacity="1.0"/>
<ellipse cx="300.2" cy="499.2" rx="1.8" ry="0.9" transform="rotate(37 300.2 499.2)" fill="#ab9462" opacity="1.0"/>
<circle cx="246.3" cy="502.3" r="0.7" fill="#857249" opacity="1.0"/>
<circle cx="72.9" cy="507.0" r="0.6" fill="#a48d5c" opacity="1.0"/>
<circle cx="124.1" cy="512.9" r="0.7" fill="#7b6a47" opacity="1.0"/>
<circle cx="293.8" cy="493.5" r="1.0" fill="#c4ae7c" opacity="1.0"/>
<circle cx="77.1" cy="502.3" r="1.3" fill="#857249" opacity="1.0"/>
<circle cx="58.0" cy="493.8" r="1.1" fill="#7b6a47" opacity="1.0"/>
<ellipse cx="77.5" cy="503.2" rx="1.0" ry="0.5" transform="rotate(70 77.5 503.2)" fill="#b8a06c" opacity="1.0"/>
<circle cx="253.5" cy="512.6" r="1.1" fill="#c4ae7c" opacity="1.0"/>
<circle cx="237.3" cy="511.6" r="0.7" fill="#94804f" opacity="1.0"/>
<circle cx="267.8" cy="523.2" r="1.2" fill="#ab9462" opacity="1.0"/>
<circle cx="119.4" cy="508.3" r="1.3" fill="#c4ae7c" opacity="1.0"/>
<ellipse cx="262.8" cy="503.7" rx="2.3" ry="1.2" transform="rotate(21 262.8 503.7)" fill="#b09864" opacity="1.0"/>
<circle cx="70.2" cy="500.8" r="0.7" fill="#a48d5c" opacity="1.0"/>
<circle cx="227.3" cy="513.4" r="1.3" fill="#7b6a47" opacity="1.0"/>
<ellipse cx="251.6" cy="505.8" rx="1.1" ry="0.6" transform="rotate(27 251.6 505.8)" fill="#b09864" opacity="1.0"/>
<circle cx="161.1" cy="529.0" r="1.0" fill="#857249" opacity="1.0"/>
<circle cx="198.7" cy="527.0" r="1.2" fill="#a48d5c" opacity="1.0"/>
<ellipse cx="265.4" cy="519.8" rx="1.3" ry="0.7" transform="rotate(79 265.4 519.8)" fill="#b8a06c" opacity="1.0"/>
<ellipse cx="156.4" cy="512.4" rx="1.9" ry="1.0" transform="rotate(162 156.4 512.4)" fill="#94804f" opacity="1.0"/>
<circle cx="52.9" cy="492.7" r="1.1" fill="#7b6a47" opacity="1.0"/>
<circle cx="154.1" cy="509.2" r="1.5" fill="#94804f" opacity="1.0"/>
<ellipse cx="97.3" cy="500.8" rx="1.8" ry="1.0" transform="rotate(169 97.3 500.8)" fill="#94804f" opacity="1.0"/>
<ellipse cx="181.0" cy="515.2" rx="2.0" ry="1.1" transform="rotate(28 181.0 515.2)" fill="#94804f" opacity="1.0"/>
<ellipse cx="136.8" cy="517.4" rx="1.8" ry="1.0" transform="rotate(101 136.8 517.4)" fill="#857249" opacity="1.0"/>
<ellipse cx="249.0" cy="502.6" rx="2.1" ry="1.1" transform="rotate(30 249.0 502.6)" fill="#857249" opacity="1.0"/>
<circle cx="53.8" cy="499.7" r="1.0" fill="#b8a06c" opacity="1.0"/>
<circle cx="273.2" cy="502.2" r="1.0" fill="#7b6a47" opacity="1.0"/>
<circle cx="49.6" cy="497.4" r="1.1" fill="#94804f" opacity="1.0"/>
<ellipse cx="230.4" cy="510.2" rx="1.3" ry="0.7" transform="rotate(83 230.4 510.2)" fill="#7b6a47" opacity="1.0"/>
<ellipse cx="100.1" cy="517.3" rx="1.8" ry="1.0" transform="rotate(27 100.1 517.3)" fill="#c4ae7c" opacity="1.0"/>
<ellipse cx="120.0" cy="508.8" rx="2.2" ry="1.2" transform="rotate(43 120.0 508.8)" fill="#c4ae7c" opacity="1.0"/>
<circle cx="66.2" cy="501.9" r="0.7" fill="#ab9462" opacity="1.0"/>
<ellipse cx="166.6" cy="513.9" rx="1.1" ry="0.6" transform="rotate(50 166.6 513.9)" fill="#94804f" opacity="1.0"/>
<ellipse cx="95.0" cy="508.8" rx="2.0" ry="1.1" transform="rotate(160 95.0 508.8)" fill="#94804f" opacity="1.0"/>
<circle cx="201.8" cy="513.1" r="1.3" fill="#c4ae7c" opacity="1.0"/>
<circle cx="252.3" cy="505.8" r="1.0" fill="#b09864" opacity="1.0"/>
<circle cx="136.5" cy="522.4" r="0.7" fill="#b09864" opacity="1.0"/>
<circle cx="55.5" cy="497.3" r="0.9" fill="#94804f" opacity="1.0"/>
<circle cx="200.6" cy="511.6" r="1.3" fill="#a48d5c" opacity="1.0"/>
<circle cx="229.5" cy="515.7" r="0.9" fill="#b09864" opacity="1.0"/>
<circle cx="63.9" cy="500.2" r="1.6" fill="#94804f" opacity="1.0"/>
<circle cx="88.2" cy="497.9" r="1.3" fill="#b09864" opacity="1.0"/>
<circle cx="245.7" cy="504.2" r="1.0" fill="#c4ae7c" opacity="1.0"/>
<ellipse cx="58.1" cy="510.0" rx="1.9" ry="1.0" transform="rotate(142 58.1 510.0)" fill="#94804f" opacity="1.0"/>
<ellipse cx="272.9" cy="504.8" rx="2.3" ry="1.3" transform="rotate(149 272.9 504.8)" fill="#b8a06c" opacity="1.0"/>
<ellipse cx="278.9" cy="500.4" rx="1.4" ry="0.8" transform="rotate(21 278.9 500.4)" fill="#7b6a47" opacity="1.0"/>
<circle cx="141.1" cy="514.5" r="0.7" fill="#94804f" opacity="1.0"/>
<ellipse cx="180.6" cy="515.7" rx="0.9" ry="0.5" transform="rotate(54 180.6 515.7)" fill="#857249" opacity="1.0"/>
<ellipse cx="147.5" cy="539.1" rx="1.1" ry="0.6" transform="rotate(25 147.5 539.1)" fill="#94804f" opacity="1.0"/>
<circle cx="214.9" cy="521.4" r="1.4" fill="#a48d5c" opacity="1.0"/>
<circle cx="302.6" cy="499.7" r="0.8" fill="#b8a06c" opacity="1.0"/>
<circle cx="51.8" cy="497.5" r="1.3" fill="#ab9462" opacity="1.0"/>
<circle cx="249.2" cy="505.6" r="1.1" fill="#857249" opacity="1.0"/>
<circle cx="195.9" cy="532.5" r="0.8" fill="#b09864" opacity="1.0"/>
<circle cx="127.7" cy="520.2" r="0.8" fill="#ab9462" opacity="1.0"/>
<circle cx="83.1" cy="519.6" r="0.7" fill="#b09864" opacity="1.0"/>
<circle cx="230.3" cy="534.0" r="0.7" fill="#94804f" opacity="1.0"/>
<ellipse cx="125.0" cy="509.8" rx="1.7" ry="0.9" transform="rotate(56 125.0 509.8)" fill="#7b6a47" opacity="1.0"/>
<ellipse cx="201.1" cy="530.1" rx="1.5" ry="0.8" transform="rotate(20 201.1 530.1)" fill="#c4ae7c" opacity="1.0"/>
<circle cx="164.9" cy="511.9" r="0.9" fill="#94804f" opacity="1.0"/>
<circle cx="263.8" cy="504.9" r="1.5" fill="#b09864" opacity="1.0"/>
<circle cx="86.3" cy="512.9" r="1.1" fill="#a48d5c" opacity="1.0"/>
<ellipse cx="49.2" cy="493.9" rx="2.0" ry="1.1" transform="rotate(73 49.2 493.9)" fill="#7b6a47" opacity="1.0"/>
<circle cx="113.8" cy="505.5" r="0.6" fill="#7b6a47" opacity="1.0"/>
<circle cx="263.6" cy="507.1" r="1.2" fill="#a48d5c" opacity="1.0"/>
<ellipse cx="245.4" cy="505.4" rx="1.1" ry="0.6" transform="rotate(90 245.4 505.4)" fill="#7b6a47" opacity="1.0"/>
<ellipse cx="124.2" cy="512.4" rx="1.7" ry="0.9" transform="rotate(134 124.2 512.4)" fill="#c4ae7c" opacity="1.0"/>
<circle cx="234.9" cy="511.4" r="1.6" fill="#a48d5c" opacity="1.0"/>
<circle cx="196.0" cy="507.1" r="1.3" fill="#c4ae7c" opacity="1.0"/>
<circle cx="161.0" cy="511.3" r="1.3" fill="#94804f" opacity="1.0"/>
<circle cx="301.7" cy="506.1" r="0.9" fill="#b8a06c" opacity="1.0"/>
<circle cx="279.3" cy="505.6" r="1.3" fill="#b8a06c" opacity="1.0"/>
<circle cx="60.7" cy="507.1" r="0.8" fill="#ab9462" opacity="1.0"/>
<ellipse cx="142.9" cy="535.8" rx="1.7" ry="0.9" transform="rotate(165 142.9 535.8)" fill="#b09864" opacity="1.0"/>
<ellipse cx="105.4" cy="503.9" rx="1.9" ry="1.0" transform="rotate(94 105.4 503.9)" fill="#857249" opacity="1.0"/>
<ellipse cx="189.4" cy="531.5" rx="2.0" ry="1.1" transform="rotate(47 189.4 531.5)" fill="#7b6a47" opacity="1.0"/>
<circle cx="203.7" cy="519.0" r="0.9" fill="#94804f" opacity="1.0"/>
<circle cx="73.5" cy="501.4" r="1.6" fill="#b8a06c" opacity="1.0"/>
<ellipse cx="147.1" cy="507.5" rx="1.6" ry="0.8" transform="rotate(113 147.1 507.5)" fill="#7b6a47" opacity="1.0"/>
<circle cx="163.2" cy="515.2" r="1.3" fill="#c4ae7c" opacity="1.0"/>
<circle cx="202.9" cy="509.6" r="0.7" fill="#7b6a47" opacity="1.0"/>
<circle cx="299.3" cy="504.0" r="1.6" fill="#b8a06c" opacity="1.0"/>
<circle cx="276.4" cy="515.8" r="1.4" fill="#c4ae7c" opacity="1.0"/>
<circle cx="234.6" cy="503.9" r="0.8" fill="#b09864" opacity="1.0"/>
<circle cx="170.0" cy="515.2" r="1.0" fill="#c4ae7c" opacity="1.0"/>
<circle cx="121.3" cy="538.5" r="0.6" fill="#b8a06c" opacity="1.0"/>
<circle cx="181.8" cy="534.8" r="1.3" fill="#ab9462" opacity="1.0"/>
<ellipse cx="142.7" cy="518.8" rx="2.4" ry="1.3" transform="rotate(18 142.7 518.8)" fill="#ab9462" opacity="1.0"/>
<circle cx="189.8" cy="509.2" r="1.4" fill="#c4ae7c" opacity="1.0"/>
<circle cx="263.3" cy="501.2" r="1.1" fill="#857249" opacity="1.0"/>
<ellipse cx="284.2" cy="511.9" rx="1.4" ry="0.8" transform="rotate(51 284.2 511.9)" fill="#ab9462" opacity="1.0"/>
<circle cx="83.5" cy="499.7" r="1.1" fill="#c4ae7c" opacity="1.0"/>
<ellipse cx="168.1" cy="516.1" rx="2.2" ry="1.2" transform="rotate(122 168.1 516.1)" fill="#94804f" opacity="1.0"/>
<ellipse cx="220.1" cy="510.6" rx="1.5" ry="0.8" transform="rotate(81 220.1 510.6)" fill="#94804f" opacity="1.0"/>
<circle cx="252.7" cy="502.4" r="0.7" fill="#b8a06c" opacity="1.0"/>
<circle cx="84.6" cy="503.1" r="1.5" fill="#a48d5c" opacity="1.0"/>
<circle cx="220.1" cy="506.6" r="1.3" fill="#c4ae7c" opacity="1.0"/>
<ellipse cx="223.7" cy="529.3" rx="2.2" ry="1.2" transform="rotate(141 223.7 529.3)" fill="#857249" opacity="1.0"/>
<circle cx="131.0" cy="505.5" r="1.1" fill="#b8a06c" opacity="1.0"/>
<circle cx="245.9" cy="504.1" r="1.3" fill="#c4ae7c" opacity="1.0"/>
<circle cx="234.4" cy="504.0" r="1.5" fill="#857249" opacity="1.0"/>
<circle cx="302.8" cy="498.1" r="1.2" fill="#a48d5c" opacity="1.0"/>
<ellipse cx="252.7" cy="510.3" rx="1.3" ry="0.7" transform="rotate(18 252.7 510.3)" fill="#7b6a47" opacity="1.0"/>
<circle cx="272.0" cy="500.2" r="1.0" fill="#b09864" opacity="1.0"/>
<circle cx="151.3" cy="517.2" r="1.3" fill="#c4ae7c" opacity="1.0"/>
<ellipse cx="90.3" cy="513.7" rx="1.7" ry="0.9" transform="rotate(119 90.3 513.7)" fill="#94804f" opacity="1.0"/>
<circle cx="80.9" cy="499.7" r="0.9" fill="#7b6a47" opacity="1.0"/>
<circle cx="185.8" cy="510.6" r="1.5" fill="#b8a06c" opacity="1.0"/>
<circle cx="240.2" cy="517.0" r="1.6" fill="#b09864" opacity="1.0"/>
<circle cx="147.1" cy="513.9" r="0.7" fill="#7b6a47" opacity="1.0"/>
<ellipse cx="120.6" cy="505.2" rx="1.6" ry="0.9" transform="rotate(2 120.6 505.2)" fill="#b09864" opacity="1.0"/>
<circle cx="77.3" cy="501.9" r="1.5" fill="#c4ae7c" opacity="1.0"/>
<ellipse cx="172.2" cy="510.4" rx="1.4" ry="0.8" transform="rotate(129 172.2 510.4)" fill="#857249" opacity="1.0"/>
<ellipse cx="197.3" cy="522.5" rx="1.3" ry="0.7" transform="rotate(24 197.3 522.5)" fill="#94804f" opacity="1.0"/>
<ellipse cx="182.1" cy="512.9" rx="1.4" ry="0.8" transform="rotate(130 182.1 512.9)" fill="#b8a06c" opacity="1.0"/>
<circle cx="176.7" cy="515.8" r="0.6" fill="#b8a06c" opacity="1.0"/>
<ellipse cx="209.9" cy="513.6" rx="1.1" ry="0.6" transform="rotate(157 209.9 513.6)" fill="#c4ae7c" opacity="1.0"/>
<circle cx="246.8" cy="506.7" r="1.3" fill="#857249" opacity="1.0"/>
<circle cx="38.1" cy="492.6" r="1.3" fill="#7b6a47" opacity="1.0"/>
<ellipse cx="307.5" cy="495.3" rx="1.6" ry="0.9" transform="rotate(174 307.5 495.3)" fill="#7b6a47" opacity="1.0"/>
<ellipse cx="124.7" cy="503.4" rx="2.3" ry="1.2" transform="rotate(112 124.7 503.4)" fill="#94804f" opacity="1.0"/>
<circle cx="142.7" cy="511.7" r="1.1" fill="#b09864" opacity="1.0"/>
<circle cx="299.6" cy="505.9" r="1.3" fill="#ab9462" opacity="1.0"/>
<circle cx="257.1" cy="508.3" r="1.1" fill="#c4ae7c" opacity="1.0"/>
<circle cx="284.0" cy="514.6" r="1.3" fill="#857249" opacity="1.0"/>
<circle cx="99.1" cy="534.3" r="1.5" fill="#857249" opacity="1.0"/>
<circle cx="286.4" cy="500.5" r="1.3" fill="#c4ae7c" opacity="1.0"/>
<circle cx="235.9" cy="533.4" r="0.7" fill="#7b6a47" opacity="1.0"/>
<ellipse cx="171.6" cy="527.4" rx="2.3" ry="1.2" transform="rotate(73 171.6 527.4)" fill="#b8a06c" opacity="1.0"/>
<ellipse cx="292.4" cy="498.2" rx="2.0" ry="1.1" transform="rotate(137 292.4 498.2)" fill="#ab9462" opacity="1.0"/>
<ellipse cx="124.0" cy="533.0" rx="1.9" ry="1.0" transform="rotate(150 124.0 533.0)" fill="#b8a06c" opacity="1.0"/>
<ellipse cx="117.5" cy="505.1" rx="1.9" ry="1.0" transform="rotate(84 117.5 505.1)" fill="#a48d5c" opacity="1.0"/>
<ellipse cx="283.3" cy="507.6" rx="1.9" ry="1.0" transform="rotate(140 283.3 507.6)" fill="#b8a06c" opacity="1.0"/>
<circle cx="103.7" cy="505.7" r="1.1" fill="#ab9462" opacity="1.0"/>
<circle cx="132.8" cy="508.5" r="1.2" fill="#94804f" opacity="1.0"/>
<circle cx="115.3" cy="510.2" r="1.5" fill="#b8a06c" opacity="1.0"/>
<circle cx="81.7" cy="526.6" r="0.6" fill="#7b6a47" opacity="1.0"/>
<ellipse cx="111.8" cy="531.9" rx="2.2" ry="1.2" transform="rotate(154 111.8 531.9)" fill="#a48d5c" opacity="1.0"/>
<circle cx="68.3" cy="523.6" r="0.9" fill="#b09864" opacity="1.0"/>
<ellipse cx="229.1" cy="512.3" rx="1.7" ry="0.9" transform="rotate(28 229.1 512.3)" fill="#857249" opacity="1.0"/>
<circle cx="150.7" cy="508.8" r="1.1" fill="#857249" opacity="1.0"/>
<circle cx="43.0" cy="504.0" r="1.4" fill="#b8a06c" opacity="1.0"/>
<ellipse cx="254.2" cy="526.5" rx="2.1" ry="1.1" transform="rotate(171 254.2 526.5)" fill="#c4ae7c" opacity="1.0"/>
<circle cx="75.0" cy="497.6" r="0.8" fill="#857249" opacity="1.0"/>
<circle cx="197.6" cy="522.0" r="1.6" fill="#857249" opacity="1.0"/>
<circle cx="230.9" cy="504.0" r="0.7" fill="#94804f" opacity="1.0"/>
<circle cx="85.7" cy="502.8" r="1.1" fill="#857249" opacity="1.0"/>
<circle cx="117.2" cy="537.2" r="1.1" fill="#b09864" opacity="1.0"/>
<circle cx="244.2" cy="507.6" r="1.4" fill="#ab9462" opacity="1.0"/>
<circle cx="262.2" cy="516.1" r="1.5" fill="#94804f" opacity="1.0"/>
<circle cx="228.5" cy="517.5" r="0.7" fill="#ab9462" opacity="1.0"/>
<ellipse cx="94.0" cy="500.3" rx="2.2" ry="1.2" transform="rotate(52 94.0 500.3)" fill="#b09864" opacity="1.0"/>
<ellipse cx="295.3" cy="503.2" rx="2.1" ry="1.1" transform="rotate(106 295.3 503.2)" fill="#b09864" opacity="1.0"/>
<circle cx="200.2" cy="515.5" r="1.2" fill="#857249" opacity="1.0"/>
<ellipse cx="179.2" cy="511.2" rx="1.0" ry="0.5" transform="rotate(16 179.2 511.2)" fill="#7b6a47" opacity="1.0"/>
<circle cx="99.8" cy="515.6" r="1.4" fill="#7b6a47" opacity="1.0"/>
<circle cx="175.6" cy="514.8" r="0.7" fill="#b8a06c" opacity="1.0"/>
<circle cx="156.0" cy="508.9" r="1.6" fill="#7b6a47" opacity="1.0"/>
<circle cx="132.0" cy="511.0" r="1.3" fill="#7b6a47" opacity="1.0"/>
<ellipse cx="115.0" cy="504.9" rx="2.3" ry="1.2" transform="rotate(169 115.0 504.9)" fill="#94804f" opacity="1.0"/>
<ellipse cx="187.6" cy="517.8" rx="2.3" ry="1.2" transform="rotate(17 187.6 517.8)" fill="#a48d5c" opacity="1.0"/>
<circle cx="64.1" cy="503.6" r="1.5" fill="#ab9462" opacity="1.0"/>
<ellipse cx="180.2" cy="514.3" rx="1.7" ry="0.9" transform="rotate(74 180.2 514.3)" fill="#a48d5c" opacity="1.0"/>
<ellipse cx="116.2" cy="520.7" rx="1.8" ry="1.0" transform="rotate(36 116.2 520.7)" fill="#c4ae7c" opacity="1.0"/>
<ellipse cx="262.1" cy="508.7" rx="1.5" ry="0.8" transform="rotate(151 262.1 508.7)" fill="#857249" opacity="1.0"/>
<circle cx="204.7" cy="506.5" r="0.9" fill="#7b6a47" opacity="1.0"/>
<ellipse cx="142.9" cy="518.9" rx="1.2" ry="0.6" transform="rotate(57 142.9 518.9)" fill="#b09864" opacity="1.0"/>
<circle cx="142.0" cy="527.2" r="0.7" fill="#b09864" opacity="1.0"/>
<ellipse cx="226.3" cy="510.3" rx="1.5" ry="0.8" transform="rotate(165 226.3 510.3)" fill="#857249" opacity="1.0"/>
<circle cx="65.9" cy="522.3" r="1.4" fill="#94804f" opacity="1.0"/>
<ellipse cx="98.9" cy="499.7" rx="1.0" ry="0.5" transform="rotate(150 98.9 499.7)" fill="#94804f" opacity="1.0"/>
<circle cx="298.1" cy="504.5" r="0.8" fill="#ab9462" opacity="1.0"/>
<circle cx="156.6" cy="511.6" r="0.8" fill="#94804f" opacity="1.0"/>
<circle cx="297.9" cy="498.6" r="0.8" fill="#ab9462" opacity="1.0"/>
<ellipse cx="121.2" cy="511.5" rx="1.7" ry="0.9" transform="rotate(92 121.2 511.5)" fill="#c4ae7c" opacity="1.0"/>
<circle cx="211.3" cy="529.1" r="1.1" fill="#b09864" opacity="1.0"/>
<circle cx="140.9" cy="532.7" r="1.2" fill="#ab9462" opacity="1.0"/>
<ellipse cx="49.2" cy="494.0" rx="2.3" ry="1.2" transform="rotate(50 49.2 494.0)" fill="#7b6a47" opacity="1.0"/>
<ellipse cx="147.9" cy="509.3" rx="1.7" ry="0.9" transform="rotate(125 147.9 509.3)" fill="#c4ae7c" opacity="1.0"/>
<circle cx="291.2" cy="507.7" r="1.1" fill="#b8a06c" opacity="1.0"/>
<circle cx="158.8" cy="510.0" r="1.5" fill="#a48d5c" opacity="1.0"/>
<circle cx="272.4" cy="500.0" r="1.2" fill="#94804f" opacity="1.0"/>
<circle cx="42.5" cy="491.5" r="1.1" fill="#a48d5c" opacity="1.0"/>
<ellipse cx="41.3" cy="488.4" rx="1.7" ry="0.9" transform="rotate(70 41.3 488.4)" fill="#a48d5c" opacity="1.0"/>
<ellipse cx="272.9" cy="505.6" rx="2.3" ry="1.2" transform="rotate(24 272.9 505.6)" fill="#b8a06c" opacity="1.0"/>
<circle cx="222.0" cy="506.4" r="1.4" fill="#857249" opacity="1.0"/>
<circle cx="72.6" cy="500.1" r="1.0" fill="#ab9462" opacity="1.0"/>
<ellipse cx="117.4" cy="506.0" rx="2.4" ry="1.3" transform="rotate(97 117.4 506.0)" fill="#a48d5c" opacity="1.0"/>
<circle cx="167.2" cy="517.8" r="0.7" fill="#a48d5c" opacity="1.0"/>
<circle cx="57.3" cy="500.2" r="1.2" fill="#94804f" opacity="1.0"/>
<ellipse cx="57.6" cy="495.7" rx="2.3" ry="1.2" transform="rotate(19 57.6 495.7)" fill="#b09864" opacity="1.0"/>
<circle cx="46.0" cy="491.9" r="1.5" fill="#a48d5c" opacity="1.0"/>
<ellipse cx="245.7" cy="504.0" rx="2.3" ry="1.2" transform="rotate(61 245.7 504.0)" fill="#857249" opacity="1.0"/>
<circle cx="226.2" cy="524.3" r="1.0" fill="#c4ae7c" opacity="1.0"/>
<ellipse cx="300.3" cy="490.5" rx="1.7" ry="0.9" transform="rotate(111 300.3 490.5)" fill="#c4ae7c" opacity="1.0"/>
<circle cx="115.3" cy="522.0" r="0.9" fill="#7b6a47" opacity="1.0"/>
<circle cx="148.9" cy="506.9" r="1.1" fill="#c4ae7c" opacity="1.0"/>
<ellipse cx="187.0" cy="513.6" rx="1.9" ry="1.0" transform="rotate(158 187.0 513.6)" fill="#7b6a47" opacity="1.0"/>
<circle cx="137.9" cy="522.7" r="0.8" fill="#b8a06c" opacity="1.0"/>
<circle cx="145.2" cy="511.0" r="0.7" fill="#857249" opacity="1.0"/>
<ellipse cx="301.7" cy="491.8" rx="1.6" ry="0.8" transform="rotate(22 301.7 491.8)" fill="#7b6a47" opacity="1.0"/>
<circle cx="162.6" cy="517.5" r="1.2" fill="#c4ae7c" opacity="1.0"/>
<circle cx="41.6" cy="492.3" r="1.5" fill="#ab9462" opacity="1.0"/>
<ellipse cx="97.1" cy="511.7" rx="1.2" ry="0.6" transform="rotate(126 97.1 511.7)" fill="#857249" opacity="1.0"/>
<circle cx="83.6" cy="497.4" r="1.1" fill="#94804f" opacity="1.0"/>
<circle cx="124.7" cy="517.3" r="1.1" fill="#ab9462" opacity="1.0"/>
<circle cx="90.5" cy="501.8" r="1.2" fill="#c4ae7c" opacity="1.0"/>
<ellipse cx="186.6" cy="526.0" rx="2.2" ry="1.2" transform="rotate(154 186.6 526.0)" fill="#b8a06c" opacity="1.0"/>
<circle cx="272.0" cy="502.0" r="1.6" fill="#857249" opacity="1.0"/>
<ellipse cx="271.9" cy="507.0" rx="1.8" ry="0.9" transform="rotate(71 271.9 507.0)" fill="#ab9462" opacity="1.0"/>
<circle cx="178.1" cy="513.1" r="1.6" fill="#b8a06c" opacity="1.0"/>
<circle cx="226.4" cy="504.6" r="1.3" fill="#ab9462" opacity="1.0"/>
<ellipse cx="147.3" cy="526.1" rx="2.1" ry="1.1" transform="rotate(77 147.3 526.1)" fill="#b09864" opacity="1.0"/>
<circle cx="126.6" cy="506.6" r="0.8" fill="#7b6a47" opacity="1.0"/>
<circle cx="57.3" cy="499.1" r="1.1" fill="#7b6a47" opacity="1.0"/>
<ellipse cx="156.6" cy="521.1" rx="2.1" ry="1.1" transform="rotate(63 156.6 521.1)" fill="#94804f" opacity="1.0"/>
<circle cx="270.4" cy="511.7" r="1.2" fill="#7b6a47" opacity="1.0"/>
<circle cx="190.4" cy="508.3" r="1.3" fill="#ab9462" opacity="1.0"/>
<ellipse cx="176.4" cy="515.0" rx="1.9" ry="1.0" transform="rotate(6 176.4 515.0)" fill="#b8a06c" opacity="1.0"/>
<ellipse cx="192.0" cy="508.2" rx="1.1" ry="0.6" transform="rotate(87 192.0 508.2)" fill="#b8a06c" opacity="1.0"/>
<circle cx="204.7" cy="522.9" r="1.1" fill="#c4ae7c" opacity="1.0"/>
<ellipse cx="188.6" cy="521.4" rx="1.0" ry="0.5" transform="rotate(87 188.6 521.4)" fill="#94804f" opacity="1.0"/>
<circle cx="262.5" cy="501.8" r="1.4" fill="#ab9462" opacity="1.0"/>
<circle cx="214.9" cy="507.1" r="0.8" fill="#7b6a47" opacity="1.0"/>
<circle cx="96.2" cy="510.1" r="1.0" fill="#a48d5c" opacity="1.0"/>
<circle cx="105.9" cy="506.9" r="0.8" fill="#857249" opacity="1.0"/>
<circle cx="60.1" cy="502.5" r="1.4" fill="#b8a06c" opacity="1.0"/>
<circle cx="104.8" cy="506.9" r="1.1" fill="#c4ae7c" opacity="1.0"/>
<circle cx="261.3" cy="506.1" r="0.7" fill="#c4ae7c" opacity="1.0"/>
<circle cx="246.9" cy="504.3" r="1.5" fill="#94804f" opacity="1.0"/>
<circle cx="137.3" cy="506.3" r="0.9" fill="#b8a06c" opacity="1.0"/>
<circle cx="84.0" cy="504.7" r="1.0" fill="#b8a06c" opacity="1.0"/>
<circle cx="226.6" cy="517.3" r="1.2" fill="#b8a06c" opacity="1.0"/>
<circle cx="211.9" cy="509.2" r="1.2" fill="#c4ae7c" opacity="1.0"/>
<circle cx="216.5" cy="506.7" r="1.4" fill="#b09864" opacity="1.0"/>
<circle cx="212.0" cy="511.3" r="0.7" fill="#a48d5c" opacity="1.0"/>
<ellipse cx="108.4" cy="504.5" rx="1.3" ry="0.7" transform="rotate(117 108.4 504.5)" fill="#857249" opacity="1.0"/>
<ellipse cx="235.7" cy="518.4" rx="1.1" ry="0.6" transform="rotate(139 235.7 518.4)" fill="#94804f" opacity="1.0"/>
<circle cx="156.4" cy="516.3" r="1.4" fill="#b09864" opacity="1.0"/>
<circle cx="189.8" cy="508.3" r="0.9" fill="#a48d5c" opacity="1.0"/>
<circle cx="147.3" cy="528.3" r="0.7" fill="#94804f" opacity="1.0"/>
<ellipse cx="119.8" cy="505.0" rx="2.2" ry="1.2" transform="rotate(35 119.8 505.0)" fill="#7b6a47" opacity="1.0"/>
<circle cx="98.2" cy="517.7" r="1.4" fill="#c4ae7c" opacity="1.0"/>
<circle cx="240.9" cy="511.4" r="0.9" fill="#857249" opacity="1.0"/>
<circle cx="281.0" cy="517.2" r="1.0" fill="#a48d5c" opacity="1.0"/>
<ellipse cx="272.0" cy="501.0" rx="2.2" ry="1.2" transform="rotate(82 272.0 501.0)" fill="#ab9462" opacity="1.0"/>
<circle cx="56.2" cy="447.8" r="1.1" fill="#857249" opacity="1.0"/>
<circle cx="75.9" cy="450.3" r="1.2" fill="#94804f" opacity="1.0"/>
<circle cx="134.3" cy="409.9" r="1.5" fill="#c4ae7c" opacity="1.0"/>
<circle cx="122.2" cy="405.7" r="0.6" fill="#b09864" opacity="1.0"/>
<circle cx="129.6" cy="415.3" r="0.8" fill="#7b6a47" opacity="1.0"/>
<circle cx="103.1" cy="441.5" r="1.3" fill="#c4ae7c" opacity="1.0"/>
<ellipse cx="35.6" cy="455.6" rx="1.8" ry="1.0" transform="rotate(160 35.6 455.6)" fill="#a48d5c" opacity="1.0"/>
<circle cx="96.8" cy="447.5" r="1.4" fill="#b8a06c" opacity="1.0"/>
<ellipse cx="48.4" cy="443.2" rx="1.3" ry="0.7" transform="rotate(92 48.4 443.2)" fill="#857249" opacity="1.0"/>
<circle cx="57.8" cy="458.5" r="0.6" fill="#857249" opacity="1.0"/>
<ellipse cx="128.2" cy="420.0" rx="1.8" ry="0.9" transform="rotate(122 128.2 420.0)" fill="#94804f" opacity="1.0"/>
<circle cx="34.3" cy="461.4" r="0.6" fill="#c4ae7c" opacity="1.0"/>
<circle cx="94.4" cy="438.2" r="1.0" fill="#ab9462" opacity="1.0"/>
<circle cx="123.5" cy="407.2" r="0.8" fill="#7b6a47" opacity="1.0"/>
<ellipse cx="122.0" cy="403.1" rx="1.7" ry="0.9" transform="rotate(144 122.0 403.1)" fill="#b8a06c" opacity="1.0"/>
<circle cx="23.7" cy="456.1" r="0.8" fill="#b8a06c" opacity="1.0"/>
<circle cx="116.2" cy="423.0" r="1.4" fill="#94804f" opacity="1.0"/>
<circle cx="37.0" cy="450.9" r="1.5" fill="#c4ae7c" opacity="1.0"/>
<circle cx="58.0" cy="456.5" r="0.6" fill="#857249" opacity="1.0"/>
<circle cx="131.8" cy="418.1" r="0.7" fill="#ab9462" opacity="1.0"/>
<circle cx="58.2" cy="450.6" r="1.3" fill="#ab9462" opacity="1.0"/>
<circle cx="37.2" cy="459.9" r="1.4" fill="#a48d5c" opacity="1.0"/>
<circle cx="71.3" cy="455.1" r="1.4" fill="#7b6a47" opacity="1.0"/>
<ellipse cx="116.4" cy="438.8" rx="0.9" ry="0.5" transform="rotate(55 116.4 438.8)" fill="#94804f" opacity="1.0"/>
<circle cx="28.1" cy="442.7" r="1.5" fill="#7b6a47" opacity="1.0"/>
<ellipse cx="114.2" cy="423.9" rx="1.4" ry="0.7" transform="rotate(79 114.2 423.9)" fill="#b8a06c" opacity="1.0"/>
<circle cx="26.4" cy="457.9" r="0.7" fill="#b8a06c" opacity="1.0"/>
<circle cx="84.8" cy="446.1" r="1.2" fill="#857249" opacity="1.0"/>
<ellipse cx="106.5" cy="412.1" rx="1.2" ry="0.6" transform="rotate(111 106.5 412.1)" fill="#ab9462" opacity="1.0"/>
<ellipse cx="35.0" cy="457.6" rx="1.9" ry="1.0" transform="rotate(35 35.0 457.6)" fill="#b8a06c" opacity="1.0"/>
<circle cx="127.3" cy="425.0" r="1.0" fill="#c4ae7c" opacity="1.0"/>
<circle cx="125.1" cy="424.1" r="1.4" fill="#94804f" opacity="1.0"/>
<ellipse cx="32.0" cy="459.6" rx="1.4" ry="0.8" transform="rotate(147 32.0 459.6)" fill="#94804f" opacity="1.0"/>
<circle cx="115.7" cy="434.9" r="1.0" fill="#b8a06c" opacity="1.0"/>
<ellipse cx="62.0" cy="446.2" rx="2.1" ry="1.1" transform="rotate(130 62.0 446.2)" fill="#94804f" opacity="1.0"/>
<circle cx="23.4" cy="463.3" r="1.0" fill="#7b6a47" opacity="1.0"/>
<ellipse cx="43.7" cy="439.6" rx="2.0" ry="1.1" transform="rotate(63 43.7 439.6)" fill="#7b6a47" opacity="1.0"/>
<circle cx="76.6" cy="435.8" r="1.1" fill="#94804f" opacity="1.0"/>
<circle cx="38.7" cy="460.7" r="1.3" fill="#a48d5c" opacity="1.0"/>
<circle cx="36.2" cy="445.3" r="0.8" fill="#94804f" opacity="1.0"/>
<circle cx="13.5" cy="460.9" r="0.8" fill="#857249" opacity="1.0"/>
<circle cx="54.2" cy="454.9" r="1.3" fill="#ab9462" opacity="1.0"/>
<circle cx="100.6" cy="432.7" r="0.8" fill="#a48d5c" opacity="1.0"/>
<ellipse cx="17.4" cy="462.1" rx="2.1" ry="1.1" transform="rotate(168 17.4 462.1)" fill="#c4ae7c" opacity="1.0"/>
<ellipse cx="89.0" cy="436.9" rx="1.9" ry="1.0" transform="rotate(60 89.0 436.9)" fill="#94804f" opacity="1.0"/>
<ellipse cx="104.6" cy="437.4" rx="1.8" ry="1.0" transform="rotate(59 104.6 437.4)" fill="#94804f" opacity="1.0"/>
<circle cx="110.2" cy="435.8" r="1.4" fill="#b09864" opacity="1.0"/>
<circle cx="25.0" cy="456.9" r="0.9" fill="#a48d5c" opacity="1.0"/>
<circle cx="41.3" cy="459.3" r="0.8" fill="#c4ae7c" opacity="1.0"/>
<circle cx="83.4" cy="443.7" r="0.8" fill="#94804f" opacity="1.0"/>
<ellipse cx="36.0" cy="450.1" rx="1.7" ry="0.9" transform="rotate(115 36.0 450.1)" fill="#b8a06c" opacity="1.0"/>
<ellipse cx="99.5" cy="442.8" rx="1.9" ry="1.0" transform="rotate(67 99.5 442.8)" fill="#b09864" opacity="1.0"/>
<circle cx="44.0" cy="460.4" r="1.3" fill="#857249" opacity="1.0"/>
<circle cx="123.9" cy="417.0" r="0.7" fill="#ab9462" opacity="1.0"/>
<circle cx="95.6" cy="444.0" r="1.2" fill="#857249" opacity="1.0"/>
<ellipse cx="44.1" cy="460.9" rx="1.9" ry="1.0" transform="rotate(26 44.1 460.9)" fill="#ab9462" opacity="1.0"/>
<ellipse cx="47.1" cy="459.6" rx="0.9" ry="0.5" transform="rotate(102 47.1 459.6)" fill="#ab9462" opacity="1.0"/>
<ellipse cx="82.6" cy="444.3" rx="1.7" ry="0.9" transform="rotate(16 82.6 444.3)" fill="#94804f" opacity="1.0"/>
<ellipse cx="49.8" cy="441.5" rx="1.5" ry="0.8" transform="rotate(84 49.8 441.5)" fill="#b8a06c" opacity="1.0"/>
<circle cx="37.1" cy="461.8" r="1.1" fill="#7b6a47" opacity="1.0"/>
<circle cx="82.9" cy="444.3" r="0.7" fill="#ab9462" opacity="1.0"/>
<circle cx="66.8" cy="454.6" r="1.1" fill="#ab9462" opacity="1.0"/>
<ellipse cx="99.4" cy="441.5" rx="1.6" ry="0.9" transform="rotate(98 99.4 441.5)" fill="#a48d5c" opacity="1.0"/>
<circle cx="36.0" cy="457.9" r="0.8" fill="#a48d5c" opacity="1.0"/>
<ellipse cx="122.6" cy="425.7" rx="1.6" ry="0.9" transform="rotate(144 122.6 425.7)" fill="#b09864" opacity="1.0"/>
<circle cx="101.3" cy="441.8" r="1.1" fill="#a48d5c" opacity="1.0"/>
<circle cx="134.9" cy="409.1" r="1.3" fill="#b09864" opacity="1.0"/>
<ellipse cx="129.6" cy="409.1" rx="1.2" ry="0.6" transform="rotate(14 129.6 409.1)" fill="#ab9462" opacity="1.0"/>
<ellipse cx="61.9" cy="451.6" rx="2.2" ry="1.2" transform="rotate(151 61.9 451.6)" fill="#b8a06c" opacity="1.0"/>
<circle cx="69.9" cy="443.1" r="1.2" fill="#a48d5c" opacity="1.0"/>
<circle cx="67.1" cy="433.0" r="0.7" fill="#b09864" opacity="1.0"/>
<circle cx="45.7" cy="455.4" r="0.6" fill="#ab9462" opacity="1.0"/>
<ellipse cx="36.3" cy="456.5" rx="1.1" ry="0.6" transform="rotate(45 36.3 456.5)" fill="#b8a06c" opacity="1.0"/>
<circle cx="74.2" cy="455.1" r="0.7" fill="#b8a06c" opacity="1.0"/>
<circle cx="104.1" cy="426.0" r="1.4" fill="#7b6a47" opacity="1.0"/>
<circle cx="74.5" cy="452.6" r="0.7" fill="#b8a06c" opacity="1.0"/>
<ellipse cx="94.5" cy="434.6" rx="1.1" ry="0.6" transform="rotate(150 94.5 434.6)" fill="#c4ae7c" opacity="1.0"/>
<ellipse cx="46.8" cy="456.9" rx="1.9" ry="1.0" transform="rotate(0 46.8 456.9)" fill="#857249" opacity="1.0"/>
<ellipse cx="101.1" cy="421.7" rx="2.2" ry="1.2" transform="rotate(81 101.1 421.7)" fill="#a48d5c" opacity="1.0"/>
<ellipse cx="126.1" cy="424.1" rx="1.6" ry="0.9" transform="rotate(19 126.1 424.1)" fill="#b09864" opacity="1.0"/>
<circle cx="55.8" cy="456.2" r="1.5" fill="#c4ae7c" opacity="1.0"/>
<ellipse cx="71.7" cy="454.2" rx="1.8" ry="1.0" transform="rotate(27 71.7 454.2)" fill="#c4ae7c" opacity="1.0"/>
<circle cx="126.7" cy="426.0" r="1.5" fill="#7b6a47" opacity="1.0"/>
<circle cx="88.8" cy="448.9" r="0.9" fill="#b09864" opacity="1.0"/>
<ellipse cx="107.2" cy="432.1" rx="0.9" ry="0.5" transform="rotate(81 107.2 432.1)" fill="#a48d5c" opacity="1.0"/>
<circle cx="55.5" cy="434.9" r="0.6" fill="#b8a06c" opacity="1.0"/>
<circle cx="33.5" cy="452.0" r="0.6" fill="#b09864" opacity="1.0"/>
<ellipse cx="78.1" cy="431.6" rx="1.1" ry="0.6" transform="rotate(25 78.1 431.6)" fill="#7b6a47" opacity="1.0"/>
<circle cx="78.5" cy="452.8" r="1.2" fill="#857249" opacity="1.0"/>
<ellipse cx="78.0" cy="452.6" rx="0.9" ry="0.5" transform="rotate(92 78.0 452.6)" fill="#b09864" opacity="1.0"/>
<ellipse cx="17.7" cy="459.7" rx="1.7" ry="0.9" transform="rotate(52 17.7 459.7)" fill="#ab9462" opacity="1.0"/>
<circle cx="56.1" cy="451.2" r="1.5" fill="#b09864" opacity="1.0"/>
<ellipse cx="56.8" cy="446.9" rx="1.2" ry="0.6" transform="rotate(97 56.8 446.9)" fill="#7b6a47" opacity="1.0"/>
<circle cx="83.9" cy="451.8" r="0.6" fill="#b09864" opacity="1.0"/>
<ellipse cx="52.8" cy="445.2" rx="1.8" ry="1.0" transform="rotate(88 52.8 445.2)" fill="#94804f" opacity="1.0"/>
<circle cx="105.5" cy="438.2" r="1.3" fill="#ab9462" opacity="1.0"/>
<circle cx="75.7" cy="441.3" r="1.4" fill="#b09864" opacity="1.0"/>
<circle cx="62.2" cy="453.0" r="0.6" fill="#a48d5c" opacity="1.0"/>
<ellipse cx="95.7" cy="433.7" rx="1.0" ry="0.5" transform="rotate(42 95.7 433.7)" fill="#b09864" opacity="1.0"/>
<ellipse cx="46.4" cy="447.4" rx="1.0" ry="0.5" transform="rotate(174 46.4 447.4)" fill="#7b6a47" opacity="1.0"/>
<circle cx="93.1" cy="447.5" r="1.1" fill="#c4ae7c" opacity="1.0"/>
<circle cx="28.4" cy="462.7" r="1.1" fill="#c4ae7c" opacity="1.0"/>
<ellipse cx="109.8" cy="435.3" rx="1.7" ry="0.9" transform="rotate(38 109.8 435.3)" fill="#7b6a47" opacity="1.0"/>
<circle cx="36.5" cy="455.5" r="1.1" fill="#94804f" opacity="1.0"/>
<ellipse cx="106.1" cy="428.1" rx="2.1" ry="1.1" transform="rotate(167 106.1 428.1)" fill="#7b6a47" opacity="1.0"/>
<ellipse cx="86.6" cy="445.3" rx="1.5" ry="0.8" transform="rotate(36 86.6 445.3)" fill="#b8a06c" opacity="1.0"/>
<circle cx="113.6" cy="427.7" r="1.4" fill="#c4ae7c" opacity="1.0"/>
<ellipse cx="25.8" cy="452.5" rx="2.1" ry="1.1" transform="rotate(77 25.8 452.5)" fill="#c4ae7c" opacity="1.0"/>
<ellipse cx="62.7" cy="455.4" rx="1.0" ry="0.5" transform="rotate(113 62.7 455.4)" fill="#ab9462" opacity="1.0"/>
<circle cx="124.6" cy="404.0" r="0.8" fill="#7b6a47" opacity="1.0"/>
<circle cx="37.5" cy="460.4" r="1.3" fill="#c4ae7c" opacity="1.0"/>
<ellipse cx="108.4" cy="427.4" rx="0.9" ry="0.5" transform="rotate(134 108.4 427.4)" fill="#7b6a47" opacity="1.0"/>
<ellipse cx="115.6" cy="435.6" rx="2.0" ry="1.1" transform="rotate(12 115.6 435.6)" fill="#ab9462" opacity="1.0"/>
<circle cx="88.7" cy="442.5" r="0.8" fill="#b09864" opacity="1.0"/>
<ellipse cx="106.3" cy="416.7" rx="1.5" ry="0.8" transform="rotate(121 106.3 416.7)" fill="#b09864" opacity="1.0"/>
<circle cx="107.7" cy="434.2" r="0.9" fill="#857249" opacity="1.0"/>
<circle cx="128.3" cy="422.3" r="1.4" fill="#ab9462" opacity="1.0"/>
<circle cx="121.6" cy="427.9" r="0.7" fill="#7b6a47" opacity="1.0"/>
<circle cx="112.2" cy="398.6" r="0.7" fill="#b8a06c" opacity="1.0"/>
<circle cx="15.1" cy="462.4" r="1.1" fill="#857249" opacity="1.0"/>
<ellipse cx="120.2" cy="421.0" rx="1.3" ry="0.7" transform="rotate(77 120.2 421.0)" fill="#857249" opacity="1.0"/>
<ellipse cx="123.4" cy="420.5" rx="1.7" ry="0.9" transform="rotate(169 123.4 420.5)" fill="#94804f" opacity="1.0"/>
<ellipse cx="77.3" cy="448.2" rx="1.8" ry="1.0" transform="rotate(70 77.3 448.2)" fill="#b09864" opacity="1.0"/>
<ellipse cx="117.6" cy="429.9" rx="1.2" ry="0.7" transform="rotate(132 117.6 429.9)" fill="#857249" opacity="1.0"/>
<circle cx="139.3" cy="403.1" r="1.3" fill="#7b6a47" opacity="1.0"/>
<circle cx="128.4" cy="421.3" r="0.6" fill="#b09864" opacity="1.0"/>
<ellipse cx="51.6" cy="441.1" rx="1.7" ry="0.9" transform="rotate(56 51.6 441.1)" fill="#ab9462" opacity="1.0"/>
<circle cx="125.7" cy="416.6" r="1.3" fill="#c4ae7c" opacity="1.0"/>
<circle cx="49.4" cy="445.5" r="0.6" fill="#b8a06c" opacity="1.0"/>
<circle cx="118.9" cy="414.0" r="1.3" fill="#b8a06c" opacity="1.0"/>
<circle cx="75.1" cy="446.7" r="1.4" fill="#7b6a47" opacity="1.0"/>
<circle cx="78.9" cy="450.8" r="1.1" fill="#b09864" opacity="1.0"/>
<circle cx="93.0" cy="449.1" r="1.1" fill="#b09864" opacity="1.0"/>
<circle cx="96.8" cy="446.4" r="1.2" fill="#857249" opacity="1.0"/>
<ellipse cx="47.2" cy="459.5" rx="1.6" ry="0.9" transform="rotate(46 47.2 459.5)" fill="#b09864" opacity="1.0"/>
<ellipse cx="139.0" cy="406.4" rx="1.3" ry="0.7" transform="rotate(14 139.0 406.4)" fill="#b8a06c" opacity="1.0"/>
<circle cx="23.0" cy="458.9" r="1.1" fill="#b8a06c" opacity="1.0"/>
<circle cx="130.3" cy="398.8" r="0.7" fill="#7b6a47" opacity="1.0"/>
<circle cx="85.3" cy="448.6" r="1.1" fill="#c4ae7c" opacity="1.0"/>
<circle cx="71.6" cy="444.6" r="1.1" fill="#a48d5c" opacity="1.0"/>
<circle cx="114.4" cy="422.9" r="0.8" fill="#94804f" opacity="1.0"/>
<ellipse cx="122.5" cy="426.0" rx="0.9" ry="0.5" transform="rotate(74 122.5 426.0)" fill="#a48d5c" opacity="1.0"/>
<ellipse cx="87.0" cy="441.0" rx="2.1" ry="1.1" transform="rotate(125 87.0 441.0)" fill="#b8a06c" opacity="1.0"/>
<ellipse cx="74.7" cy="444.2" rx="1.1" ry="0.6" transform="rotate(57 74.7 444.2)" fill="#7b6a47" opacity="1.0"/>
<circle cx="103.8" cy="400.0" r="1.0" fill="#94804f" opacity="1.0"/>
<circle cx="115.9" cy="419.0" r="0.9" fill="#857249" opacity="1.0"/>
<ellipse cx="126.1" cy="426.1" rx="1.8" ry="0.9" transform="rotate(29 126.1 426.1)" fill="#a48d5c" opacity="1.0"/>
<circle cx="87.5" cy="447.2" r="0.7" fill="#857249" opacity="1.0"/>
<circle cx="45.3" cy="459.1" r="0.9" fill="#94804f" opacity="1.0"/>
<circle cx="63.1" cy="450.1" r="1.2" fill="#7b6a47" opacity="1.0"/>
<ellipse cx="33.3" cy="456.9" rx="1.9" ry="1.0" transform="rotate(51 33.3 456.9)" fill="#b09864" opacity="1.0"/>
<circle cx="132.4" cy="413.0" r="1.0" fill="#ab9462" opacity="1.0"/>
<ellipse cx="93.5" cy="446.2" rx="1.1" ry="0.6" transform="rotate(0 93.5 446.2)" fill="#b09864" opacity="1.0"/>
<ellipse cx="23.1" cy="454.8" rx="2.1" ry="1.1" transform="rotate(23 23.1 454.8)" fill="#b09864" opacity="1.0"/>
<circle cx="131.5" cy="408.6" r="0.8" fill="#ab9462" opacity="1.0"/>
<circle cx="66.6" cy="454.8" r="0.6" fill="#b8a06c" opacity="1.0"/>
<ellipse cx="65.3" cy="453.9" rx="1.0" ry="0.5" transform="rotate(35 65.3 453.9)" fill="#a48d5c" opacity="1.0"/>
<circle cx="115.0" cy="425.4" r="0.9" fill="#b09864" opacity="1.0"/>
<circle cx="70.6" cy="439.2" r="0.7" fill="#7b6a47" opacity="1.0"/>
<circle cx="100.0" cy="443.1" r="0.9" fill="#b09864" opacity="1.0"/>
<ellipse cx="112.7" cy="415.3" rx="1.9" ry="1.0" transform="rotate(151 112.7 415.3)" fill="#b8a06c" opacity="1.0"/>
<circle cx="96.4" cy="433.2" r="1.2" fill="#b8a06c" opacity="1.0"/>
<circle cx="138.3" cy="402.2" r="1.3" fill="#b8a06c" opacity="1.0"/>
<ellipse cx="101.5" cy="444.1" rx="1.4" ry="0.8" transform="rotate(167 101.5 444.1)" fill="#a48d5c" opacity="1.0"/>
<circle cx="77.5" cy="454.8" r="1.3" fill="#ab9462" opacity="1.0"/>
<circle cx="110.5" cy="418.4" r="1.0" fill="#94804f" opacity="1.0"/>
<ellipse cx="126.8" cy="421.8" rx="1.4" ry="0.7" transform="rotate(40 126.8 421.8)" fill="#a48d5c" opacity="1.0"/>
<ellipse cx="102.7" cy="427.5" rx="2.0" ry="1.1" transform="rotate(125 102.7 427.5)" fill="#b8a06c" opacity="1.0"/>
<circle cx="75.3" cy="453.1" r="0.8" fill="#7b6a47" opacity="1.0"/>
<ellipse cx="59.2" cy="458.2" rx="1.5" ry="0.8" transform="rotate(127 59.2 458.2)" fill="#b09864" opacity="1.0"/>
<circle cx="101.7" cy="441.6" r="0.6" fill="#7b6a47" opacity="1.0"/>
<circle cx="106.2" cy="435.7" r="1.3" fill="#857249" opacity="1.0"/>
<circle cx="105.3" cy="442.4" r="0.9" fill="#a48d5c" opacity="1.0"/>
<circle cx="82.6" cy="451.4" r="1.3" fill="#b09864" opacity="1.0"/>
<circle cx="86.4" cy="442.7" r="0.8" fill="#c4ae7c" opacity="1.0"/>
<circle cx="108.4" cy="406.7" r="0.8" fill="#c4ae7c" opacity="1.0"/>
<ellipse cx="15.0" cy="446.2" rx="1.9" ry="1.0" transform="rotate(156 15.0 446.2)" fill="#7b6a47" opacity="1.0"/>
<ellipse cx="53.4" cy="458.1" rx="2.2" ry="1.1" transform="rotate(48 53.4 458.1)" fill="#7b6a47" opacity="1.0"/>
<circle cx="127.7" cy="418.6" r="1.2" fill="#94804f" opacity="1.0"/>
<circle cx="91.0" cy="445.1" r="1.1" fill="#b8a06c" opacity="1.0"/>
<circle cx="33.6" cy="456.7" r="1.3" fill="#b09864" opacity="1.0"/>
<circle cx="121.9" cy="396.6" r="0.7" fill="#b8a06c" opacity="1.0"/>
<circle cx="37.0" cy="461.3" r="0.9" fill="#7b6a47" opacity="1.0"/>
<circle cx="99.5" cy="423.6" r="1.3" fill="#857249" opacity="1.0"/>
<circle cx="68.5" cy="428.0" r="0.9" fill="#857249" opacity="1.0"/>
<ellipse cx="103.1" cy="426.5" rx="1.8" ry="1.0" transform="rotate(159 103.1 426.5)" fill="#ab9462" opacity="1.0"/>
<circle cx="125.2" cy="423.4" r="1.5" fill="#b8a06c" opacity="1.0"/>
<circle cx="125.8" cy="412.8" r="1.2" fill="#c4ae7c" opacity="1.0"/>
<circle cx="107.7" cy="433.8" r="1.3" fill="#857249" opacity="1.0"/>
<circle cx="79.9" cy="441.5" r="1.0" fill="#a48d5c" opacity="1.0"/>
<circle cx="31.3" cy="454.1" r="0.7" fill="#857249" opacity="1.0"/>
<ellipse cx="51.9" cy="445.2" rx="1.8" ry="1.0" transform="rotate(138 51.9 445.2)" fill="#857249" opacity="1.0"/>
<circle cx="17.2" cy="460.7" r="1.2" fill="#ab9462" opacity="1.0"/>
<circle cx="111.0" cy="434.7" r="1.0" fill="#857249" opacity="1.0"/>
<circle cx="14.8" cy="443.5" r="1.5" fill="#c4ae7c" opacity="1.0"/>
<circle cx="38.8" cy="462.2" r="0.8" fill="#b09864" opacity="1.0"/>
<circle cx="110.0" cy="427.8" r="1.1" fill="#ab9462" opacity="1.0"/>
<ellipse cx="44.4" cy="458.3" rx="1.1" ry="0.6" transform="rotate(44 44.4 458.3)" fill="#94804f" opacity="1.0"/>
<ellipse cx="298.0" cy="461.1" rx="1.6" ry="0.9" transform="rotate(65 298.0 461.1)" fill="#b8a06c" opacity="1.0"/>
<ellipse cx="212.0" cy="413.5" rx="1.8" ry="1.0" transform="rotate(82 212.0 413.5)" fill="#b8a06c" opacity="1.0"/>
<circle cx="287.5" cy="466.8" r="1.2" fill="#b09864" opacity="1.0"/>
<circle cx="269.7" cy="461.2" r="1.3" fill="#c4ae7c" opacity="1.0"/>
<ellipse cx="228.0" cy="432.9" rx="1.6" ry="0.9" transform="rotate(56 228.0 432.9)" fill="#7b6a47" opacity="1.0"/>
<ellipse cx="230.8" cy="431.4" rx="1.3" ry="0.7" transform="rotate(158 230.8 431.4)" fill="#857249" opacity="1.0"/>
<circle cx="261.2" cy="457.5" r="1.2" fill="#94804f" opacity="1.0"/>
<circle cx="252.7" cy="459.0" r="1.2" fill="#ab9462" opacity="1.0"/>
<circle cx="286.6" cy="447.7" r="0.7" fill="#857249" opacity="1.0"/>
<circle cx="236.2" cy="454.6" r="1.0" fill="#c4ae7c" opacity="1.0"/>
<circle cx="278.9" cy="461.8" r="0.7" fill="#94804f" opacity="1.0"/>
<circle cx="248.2" cy="417.6" r="1.3" fill="#a48d5c" opacity="1.0"/>
<ellipse cx="233.7" cy="435.0" rx="1.4" ry="0.8" transform="rotate(179 233.7 435.0)" fill="#94804f" opacity="1.0"/>
<circle cx="291.9" cy="454.0" r="1.2" fill="#94804f" opacity="1.0"/>
<circle cx="219.1" cy="431.8" r="0.6" fill="#b8a06c" opacity="1.0"/>
<circle cx="271.9" cy="465.1" r="1.3" fill="#857249" opacity="1.0"/>
<circle cx="257.3" cy="453.4" r="1.2" fill="#a48d5c" opacity="1.0"/>
<circle cx="283.9" cy="466.6" r="1.3" fill="#a48d5c" opacity="1.0"/>
<ellipse cx="213.2" cy="414.7" rx="1.8" ry="1.0" transform="rotate(112 213.2 414.7)" fill="#94804f" opacity="1.0"/>
<ellipse cx="247.9" cy="453.6" rx="1.8" ry="0.9" transform="rotate(56 247.9 453.6)" fill="#b09864" opacity="1.0"/>
<ellipse cx="229.8" cy="426.2" rx="1.2" ry="0.7" transform="rotate(165 229.8 426.2)" fill="#b8a06c" opacity="1.0"/>
<ellipse cx="247.5" cy="426.7" rx="0.8" ry="0.4" transform="rotate(1 247.5 426.7)" fill="#b8a06c" opacity="1.0"/>
<ellipse cx="263.8" cy="455.6" rx="1.3" ry="0.7" transform="rotate(165 263.8 455.6)" fill="#c4ae7c" opacity="1.0"/>
<ellipse cx="263.3" cy="462.4" rx="1.1" ry="0.6" transform="rotate(46 263.3 462.4)" fill="#857249" opacity="1.0"/>
<circle cx="299.4" cy="453.2" r="1.4" fill="#b09864" opacity="1.0"/>
<ellipse cx="210.1" cy="411.4" rx="0.9" ry="0.5" transform="rotate(148 210.1 411.4)" fill="#94804f" opacity="1.0"/>
<circle cx="262.6" cy="435.8" r="0.8" fill="#857249" opacity="1.0"/>
<circle cx="230.1" cy="441.1" r="1.0" fill="#857249" opacity="1.0"/>
<ellipse cx="223.1" cy="425.0" rx="1.4" ry="0.8" transform="rotate(56 223.1 425.0)" fill="#a48d5c" opacity="1.0"/>
<ellipse cx="302.9" cy="455.7" rx="1.4" ry="0.8" transform="rotate(84 302.9 455.7)" fill="#c4ae7c" opacity="1.0"/>
<circle cx="259.1" cy="457.2" r="1.1" fill="#b8a06c" opacity="1.0"/>
<circle cx="229.2" cy="417.0" r="1.4" fill="#b8a06c" opacity="1.0"/>
<circle cx="226.6" cy="437.6" r="0.6" fill="#a48d5c" opacity="1.0"/>
<circle cx="284.1" cy="466.9" r="1.1" fill="#7b6a47" opacity="1.0"/>
<circle cx="237.6" cy="421.3" r="1.5" fill="#b09864" opacity="1.0"/>
<ellipse cx="220.6" cy="427.4" rx="1.1" ry="0.6" transform="rotate(128 220.6 427.4)" fill="#857249" opacity="1.0"/>
<circle cx="265.6" cy="463.5" r="0.8" fill="#b8a06c" opacity="1.0"/>
<circle cx="222.7" cy="428.1" r="0.7" fill="#b8a06c" opacity="1.0"/>
<circle cx="276.6" cy="441.0" r="0.8" fill="#857249" opacity="1.0"/>
<circle cx="219.5" cy="413.8" r="1.0" fill="#c4ae7c" opacity="1.0"/>
<circle cx="269.3" cy="445.5" r="0.6" fill="#857249" opacity="1.0"/>
<circle cx="237.3" cy="443.4" r="1.1" fill="#7b6a47" opacity="1.0"/>
<circle cx="249.0" cy="450.3" r="0.8" fill="#ab9462" opacity="1.0"/>
<circle cx="247.2" cy="441.3" r="0.9" fill="#b09864" opacity="1.0"/>
<ellipse cx="213.3" cy="410.6" rx="0.9" ry="0.5" transform="rotate(47 213.3 410.6)" fill="#857249" opacity="1.0"/>
<circle cx="224.5" cy="432.5" r="1.2" fill="#94804f" opacity="1.0"/>
<circle cx="256.3" cy="446.1" r="1.0" fill="#ab9462" opacity="1.0"/>
<ellipse cx="281.9" cy="451.0" rx="0.9" ry="0.5" transform="rotate(151 281.9 451.0)" fill="#a48d5c" opacity="1.0"/>
<ellipse cx="213.4" cy="422.4" rx="1.0" ry="0.6" transform="rotate(46 213.4 422.4)" fill="#b8a06c" opacity="1.0"/>
<circle cx="272.0" cy="436.5" r="1.1" fill="#a48d5c" opacity="1.0"/>
<circle cx="300.9" cy="458.0" r="1.0" fill="#b09864" opacity="1.0"/>
<circle cx="224.2" cy="435.2" r="0.9" fill="#b8a06c" opacity="1.0"/>
<circle cx="304.9" cy="466.0" r="1.2" fill="#c4ae7c" opacity="1.0"/>
<ellipse cx="276.3" cy="458.9" rx="1.2" ry="0.6" transform="rotate(4 276.3 458.9)" fill="#7b6a47" opacity="1.0"/>
<ellipse cx="233.8" cy="440.7" rx="2.0" ry="1.1" transform="rotate(157 233.8 440.7)" fill="#94804f" opacity="1.0"/>
<ellipse cx="275.7" cy="466.6" rx="1.9" ry="1.0" transform="rotate(168 275.7 466.6)" fill="#94804f" opacity="1.0"/>
<circle cx="234.8" cy="417.9" r="1.4" fill="#7b6a47" opacity="1.0"/>
<ellipse cx="252.5" cy="440.1" rx="1.8" ry="1.0" transform="rotate(123 252.5 440.1)" fill="#7b6a47" opacity="1.0"/>
<circle cx="299.5" cy="463.4" r="1.3" fill="#94804f" opacity="1.0"/>
<ellipse cx="230.5" cy="437.7" rx="1.2" ry="0.6" transform="rotate(139 230.5 437.7)" fill="#94804f" opacity="1.0"/>
<circle cx="259.9" cy="461.7" r="0.6" fill="#94804f" opacity="1.0"/>
<circle cx="249.7" cy="448.9" r="1.2" fill="#c4ae7c" opacity="1.0"/>
<circle cx="215.0" cy="422.6" r="1.4" fill="#7b6a47" opacity="1.0"/>
<circle cx="278.8" cy="464.1" r="1.2" fill="#ab9462" opacity="1.0"/>
<circle cx="269.5" cy="459.1" r="0.8" fill="#857249" opacity="1.0"/>
<circle cx="314.6" cy="457.1" r="1.2" fill="#94804f" opacity="1.0"/>
<circle cx="261.3" cy="449.3" r="1.0" fill="#c4ae7c" opacity="1.0"/>
<circle cx="282.3" cy="456.4" r="1.2" fill="#b8a06c" opacity="1.0"/>
<ellipse cx="289.1" cy="467.3" rx="2.1" ry="1.1" transform="rotate(67 289.1 467.3)" fill="#7b6a47" opacity="1.0"/>
<circle cx="230.2" cy="440.0" r="1.1" fill="#7b6a47" opacity="1.0"/>
<circle cx="244.2" cy="447.3" r="1.1" fill="#b8a06c" opacity="1.0"/>
<ellipse cx="253.4" cy="461.6" rx="2.0" ry="1.1" transform="rotate(153 253.4 461.6)" fill="#857249" opacity="1.0"/>
<circle cx="267.8" cy="458.1" r="0.6" fill="#ab9462" opacity="1.0"/>
<circle cx="222.4" cy="435.2" r="0.8" fill="#7b6a47" opacity="1.0"/>
<circle cx="250.3" cy="454.6" r="1.2" fill="#94804f" opacity="1.0"/>
<ellipse cx="302.3" cy="451.8" rx="2.1" ry="1.1" transform="rotate(70 302.3 451.8)" fill="#c4ae7c" opacity="1.0"/>
<ellipse cx="235.7" cy="440.3" rx="1.6" ry="0.9" transform="rotate(129 235.7 440.3)" fill="#857249" opacity="1.0"/>
<circle cx="228.1" cy="433.0" r="1.0" fill="#c4ae7c" opacity="1.0"/>
<circle cx="280.0" cy="438.6" r="1.1" fill="#b09864" opacity="1.0"/>
<circle cx="268.0" cy="458.8" r="0.8" fill="#c4ae7c" opacity="1.0"/>
<ellipse cx="269.1" cy="454.6" rx="1.5" ry="0.8" transform="rotate(162 269.1 454.6)" fill="#857249" opacity="1.0"/>
<circle cx="229.4" cy="428.9" r="0.8" fill="#c4ae7c" opacity="1.0"/>
<circle cx="254.7" cy="454.8" r="0.8" fill="#94804f" opacity="1.0"/>
<circle cx="305.8" cy="452.4" r="0.6" fill="#b8a06c" opacity="1.0"/>
<circle cx="239.9" cy="452.2" r="1.3" fill="#ab9462" opacity="1.0"/>
<ellipse cx="224.6" cy="435.5" rx="1.2" ry="0.6" transform="rotate(51 224.6 435.5)" fill="#857249" opacity="1.0"/>
<circle cx="237.6" cy="429.7" r="0.7" fill="#94804f" opacity="1.0"/>
<circle cx="299.1" cy="461.5" r="0.6" fill="#a48d5c" opacity="1.0"/>
<circle cx="232.8" cy="441.4" r="1.4" fill="#857249" opacity="1.0"/>
<circle cx="308.6" cy="445.7" r="0.8" fill="#ab9462" opacity="1.0"/>
<circle cx="218.3" cy="430.1" r="1.1" fill="#c4ae7c" opacity="1.0"/>
<circle cx="288.4" cy="453.9" r="1.0" fill="#94804f" opacity="1.0"/>
<ellipse cx="267.5" cy="461.3" rx="1.4" ry="0.7" transform="rotate(156 267.5 461.3)" fill="#94804f" opacity="1.0"/>
<circle cx="231.2" cy="445.1" r="0.8" fill="#857249" opacity="1.0"/>
<circle cx="285.2" cy="463.4" r="0.9" fill="#c4ae7c" opacity="1.0"/>
<circle cx="255.2" cy="459.0" r="0.7" fill="#b8a06c" opacity="1.0"/>
<circle cx="298.4" cy="465.3" r="0.8" fill="#7b6a47" opacity="1.0"/>
<circle cx="226.2" cy="439.2" r="1.5" fill="#b8a06c" opacity="1.0"/>
<circle cx="198.3" cy="394.3" r="1.4" fill="#c4ae7c" opacity="1.0"/>
<circle cx="235.3" cy="449.5" r="1.4" fill="#a48d5c" opacity="1.0"/>
<circle cx="296.2" cy="466.0" r="1.3" fill="#94804f" opacity="1.0"/>
<ellipse cx="244.4" cy="453.9" rx="1.3" ry="0.7" transform="rotate(105 244.4 453.9)" fill="#857249" opacity="1.0"/>
<circle cx="217.9" cy="422.8" r="1.1" fill="#b8a06c" opacity="1.0"/>
<circle cx="230.6" cy="440.9" r="1.2" fill="#b09864" opacity="1.0"/>
<circle cx="256.5" cy="442.1" r="1.2" fill="#b8a06c" opacity="1.0"/>
<circle cx="290.7" cy="452.6" r="0.9" fill="#7b6a47" opacity="1.0"/>
<circle cx="211.3" cy="417.9" r="1.2" fill="#857249" opacity="1.0"/>
<circle cx="253.0" cy="458.1" r="1.0" fill="#c4ae7c" opacity="1.0"/>
<circle cx="270.8" cy="434.5" r="0.6" fill="#ab9462" opacity="1.0"/>
<circle cx="305.9" cy="457.0" r="0.6" fill="#b8a06c" opacity="1.0"/>
<circle cx="149.2" cy="409.8" r="0.6" fill="#7b6a47" opacity="1.0"/>
<circle cx="137.4" cy="409.1" r="1.1" fill="#94804f" opacity="1.0"/>
<circle cx="171.4" cy="407.7" r="1.1" fill="#b8a06c" opacity="1.0"/>
<circle cx="155.7" cy="410.3" r="1.1" fill="#c4ae7c" opacity="1.0"/>
<circle cx="175.2" cy="409.8" r="1.4" fill="#b8a06c" opacity="1.0"/>
<circle cx="172.6" cy="402.1" r="1.0" fill="#857249" opacity="1.0"/>
<ellipse cx="174.2" cy="404.1" rx="1.9" ry="1.0" transform="rotate(105 174.2 404.1)" fill="#b09864" opacity="1.0"/>
<ellipse cx="166.5" cy="409.3" rx="1.8" ry="1.0" transform="rotate(120 166.5 409.3)" fill="#b8a06c" opacity="1.0"/>
<ellipse cx="185.3" cy="411.3" rx="2.0" ry="1.1" transform="rotate(110 185.3 411.3)" fill="#b09864" opacity="1.0"/>
<circle cx="164.6" cy="402.6" r="0.7" fill="#7b6a47" opacity="1.0"/>
<ellipse cx="143.2" cy="398.9" rx="1.6" ry="0.9" transform="rotate(20 143.2 398.9)" fill="#7b6a47" opacity="1.0"/>
<ellipse cx="163.9" cy="402.0" rx="1.6" ry="0.9" transform="rotate(136 163.9 402.0)" fill="#857249" opacity="1.0"/>
<ellipse cx="159.0" cy="405.9" rx="1.9" ry="1.0" transform="rotate(28 159.0 405.9)" fill="#b8a06c" opacity="1.0"/>
<ellipse cx="185.7" cy="405.9" rx="1.5" ry="0.8" transform="rotate(12 185.7 405.9)" fill="#c4ae7c" opacity="1.0"/>
<ellipse cx="187.5" cy="411.2" rx="2.1" ry="1.1" transform="rotate(112 187.5 411.2)" fill="#857249" opacity="1.0"/>
<ellipse cx="203.7" cy="411.8" rx="1.1" ry="0.6" transform="rotate(127 203.7 411.8)" fill="#7b6a47" opacity="1.0"/>
<ellipse cx="170.3" cy="405.4" rx="1.8" ry="1.0" transform="rotate(37 170.3 405.4)" fill="#c4ae7c" opacity="1.0"/>
<circle cx="134.3" cy="407.2" r="0.7" fill="#857249" opacity="1.0"/>
<circle cx="140.8" cy="409.0" r="1.2" fill="#ab9462" opacity="1.0"/>
<circle cx="180.3" cy="408.7" r="1.2" fill="#94804f" opacity="1.0"/>
<circle cx="154.3" cy="404.8" r="1.1" fill="#857249" opacity="1.0"/>
<circle cx="163.6" cy="401.9" r="1.0" fill="#857249" opacity="1.0"/>
<circle cx="166.4" cy="408.9" r="1.3" fill="#ab9462" opacity="1.0"/>
<circle cx="155.5" cy="401.5" r="0.8" fill="#94804f" opacity="1.0"/>
<circle cx="160.8" cy="410.6" r="0.6" fill="#b09864" opacity="1.0"/>
<circle cx="152.5" cy="406.3" r="0.6" fill="#c4ae7c" opacity="1.0"/>
<circle cx="207.9" cy="403.2" r="0.6" fill="#b8a06c" opacity="1.0"/>
<circle cx="146.7" cy="409.1" r="1.2" fill="#c4ae7c" opacity="1.0"/>
<circle cx="193.0" cy="399.7" r="0.6" fill="#7b6a47" opacity="1.0"/>
<circle cx="163.0" cy="451.9" r="1.2" fill="#b09864"/>
<circle cx="72.9" cy="413.6" r="1.2" fill="#b09864"/>
<circle cx="99.0" cy="512.2" r="1.9" fill="#b8a06c"/>
<circle cx="105.2" cy="425.3" r="1.2" fill="#a48d5c"/>
<circle cx="251.7" cy="462.4" r="1.7" fill="#a48d5c"/>
<circle cx="204.0" cy="440.7" r="1.5" fill="#c4ae7c"/>
<circle cx="234.9" cy="485.7" r="1.4" fill="#7b6a47"/>
<circle cx="72.9" cy="489.5" r="1.7" fill="#b8a06c"/>
<circle cx="202.0" cy="434.4" r="1.6" fill="#94804f"/>
<circle cx="44.4" cy="485.8" r="0.9" fill="#b8a06c"/>
<circle cx="47.7" cy="414.3" r="0.8" fill="#7b6a47"/>
<circle cx="215.7" cy="465.5" r="1.6" fill="#857249"/>
<circle cx="295.9" cy="485.3" r="1.9" fill="#94804f"/>
<circle cx="157.8" cy="482.8" r="1.2" fill="#7b6a47"/>
<circle cx="265.7" cy="506.5" r="0.9" fill="#857249"/>
<circle cx="176.4" cy="497.3" r="1.8" fill="#94804f"/>
<circle cx="44.6" cy="496.0" r="1.4" fill="#ab9462"/>
<circle cx="73.9" cy="485.5" r="1.5" fill="#b8a06c"/>
<circle cx="185.3" cy="470.4" r="1.7" fill="#c4ae7c"/>
<circle cx="220.7" cy="492.5" r="1.3" fill="#94804f"/>
<circle cx="65.9" cy="412.6" r="1.3" fill="#c4ae7c"/>
<circle cx="215.5" cy="466.7" r="1.5" fill="#c4ae7c"/>
<circle cx="290.3" cy="469.2" r="2.0" fill="#c4ae7c"/>
<circle cx="140.8" cy="481.9" r="1.8" fill="#c4ae7c"/>
<circle cx="200.6" cy="471.2" r="1.1" fill="#857249"/>
<circle cx="124.8" cy="454.2" r="2.0" fill="#a48d5c"/>
<circle cx="196.7" cy="464.2" r="2.0" fill="#857249"/>
<circle cx="80.5" cy="433.2" r="1.7" fill="#857249"/>
<circle cx="295.3" cy="463.2" r="1.5" fill="#b8a06c"/>
<circle cx="43.8" cy="455.4" r="1.0" fill="#857249"/>
<circle cx="127.0" cy="474.1" r="1.1" fill="#857249"/>
<circle cx="43.0" cy="446.2" r="1.9" fill="#94804f"/>
<circle cx="235.7" cy="506.3" r="1.0" fill="#94804f"/>
<circle cx="196.5" cy="431.0" r="1.7" fill="#7b6a47"/>
<circle cx="250.1" cy="438.2" r="1.8" fill="#7b6a47"/>
<circle cx="250.0" cy="499.4" r="1.8" fill="#a48d5c"/>
<circle cx="208.3" cy="481.7" r="0.9" fill="#a48d5c"/>
<circle cx="112.4" cy="471.4" r="1.2" fill="#ab9462"/>
<circle cx="61.7" cy="488.1" r="2.0" fill="#b09864"/>
<circle cx="244.6" cy="473.0" r="0.9" fill="#7b6a47"/>
<circle cx="103.4" cy="445.3" r="1.0" fill="#94804f"/>
<circle cx="160.1" cy="499.0" r="1.5" fill="#857249"/>
<circle cx="40.9" cy="461.8" r="1.7" fill="#b8a06c"/>
<circle cx="247.4" cy="458.6" r="1.0" fill="#7b6a47"/>
<circle cx="213.9" cy="415.0" r="1.5" fill="#ab9462"/>
<circle cx="88.9" cy="425.7" r="1.3" fill="#94804f"/>
<circle cx="49.3" cy="448.3" r="1.2" fill="#ab9462"/>
<circle cx="112.8" cy="475.9" r="0.8" fill="#857249"/>
<circle cx="66.6" cy="438.5" r="1.8" fill="#b09864"/>
<circle cx="205.1" cy="452.4" r="1.9" fill="#ab9462"/>
<circle cx="75.9" cy="442.2" r="1.7" fill="#94804f"/>
<circle cx="280.0" cy="510.5" r="0.8" fill="#94804f"/>
<circle cx="108.1" cy="457.1" r="1.2" fill="#ab9462"/>
<circle cx="77.2" cy="465.1" r="1.1" fill="#b09864"/>
<circle cx="205.0" cy="536.8" r="1.6" fill="#a48d5c"/>
<circle cx="129.9" cy="523.6" r="1.4" fill="#857249"/>
<circle cx="66.9" cy="428.5" r="1.7" fill="#857249"/>
<circle cx="31.2" cy="485.2" r="0.8" fill="#7b6a47"/>
<circle cx="216.4" cy="486.4" r="1.9" fill="#c4ae7c"/>
<circle cx="279.6" cy="484.4" r="1.1" fill="#7b6a47"/>
<circle cx="170.1" cy="493.6" r="1.9" fill="#b09864"/>
<circle cx="279.4" cy="466.3" r="1.0" fill="#b09864"/>
<circle cx="186.0" cy="494.0" r="0.8" fill="#857249"/>
<circle cx="116.7" cy="445.2" r="1.0" fill="#c4ae7c"/>
<circle cx="223.7" cy="439.4" r="1.2" fill="#857249"/>
<circle cx="262.6" cy="480.7" r="1.9" fill="#a48d5c"/>
<circle cx="83.8" cy="437.3" r="1.3" fill="#b8a06c"/>
<circle cx="41.8" cy="443.5" r="2.0" fill="#ab9462"/>
<circle cx="142.3" cy="472.7" r="1.3" fill="#857249"/>
<circle cx="292.5" cy="435.4" r="1.5" fill="#ab9462"/>
<circle cx="214.0" cy="473.9" r="1.6" fill="#ab9462"/>
<circle cx="278.1" cy="432.3" r="1.6" fill="#b8a06c"/>
<circle cx="146.2" cy="524.1" r="1.7" fill="#b8a06c"/>
<circle cx="111.8" cy="470.3" r="1.9" fill="#94804f"/>
<circle cx="71.2" cy="513.4" r="1.0" fill="#a48d5c"/>
<circle cx="248.5" cy="519.7" r="1.3" fill="#7b6a47"/>
<circle cx="118.9" cy="485.6" r="1.2" fill="#857249" opacity="0.85"/>
<circle cx="79.5" cy="436.5" r="0.6" fill="#a48d5c" opacity="0.85"/>
<circle cx="238.2" cy="473.9" r="0.7" fill="#ab9462" opacity="0.85"/>
<circle cx="195.1" cy="440.3" r="0.5" fill="#94804f" opacity="0.85"/>
<circle cx="218.9" cy="461.9" r="0.9" fill="#b09864" opacity="0.85"/>
<circle cx="225.1" cy="452.9" r="1.2" fill="#b09864" opacity="0.85"/>
<circle cx="163.2" cy="434.4" r="0.7" fill="#7b6a47" opacity="0.85"/>
<circle cx="238.8" cy="421.3" r="0.7" fill="#7b6a47" opacity="0.85"/>
<circle cx="97.9" cy="479.1" r="0.7" fill="#ab9462" opacity="0.85"/>
<circle cx="57.2" cy="501.6" r="1.3" fill="#b09864" opacity="0.85"/>
<circle cx="218.8" cy="496.3" r="1.2" fill="#7b6a47" opacity="0.85"/>
<circle cx="145.3" cy="423.7" r="1.1" fill="#7b6a47" opacity="0.85"/>
<circle cx="227.3" cy="454.7" r="1.3" fill="#a48d5c" opacity="0.85"/>
<circle cx="175.4" cy="459.7" r="1.2" fill="#a48d5c" opacity="0.85"/>
<circle cx="268.2" cy="441.6" r="0.9" fill="#a48d5c" opacity="0.85"/>
<circle cx="185.0" cy="465.4" r="1.0" fill="#a48d5c" opacity="0.85"/>
<circle cx="89.4" cy="458.7" r="1.2" fill="#857249" opacity="0.85"/>
<circle cx="160.0" cy="457.2" r="1.0" fill="#a48d5c" opacity="0.85"/>
<circle cx="219.4" cy="499.5" r="0.9" fill="#b09864" opacity="0.85"/>
<circle cx="63.5" cy="464.1" r="0.6" fill="#b8a06c" opacity="0.85"/>
<circle cx="142.2" cy="448.5" r="0.5" fill="#b09864" opacity="0.85"/>
<circle cx="193.5" cy="482.7" r="0.7" fill="#b09864" opacity="0.85"/>
<circle cx="63.4" cy="448.5" r="1.0" fill="#b8a06c" opacity="0.85"/>
<circle cx="226.8" cy="430.9" r="0.6" fill="#b09864" opacity="0.85"/>
<circle cx="204.9" cy="427.5" r="1.1" fill="#b8a06c" opacity="0.85"/>
<circle cx="138.5" cy="453.5" r="1.1" fill="#c4ae7c" opacity="0.85"/>
<circle cx="187.0" cy="478.0" r="0.6" fill="#b8a06c" opacity="0.85"/>
<circle cx="86.5" cy="482.7" r="0.8" fill="#857249" opacity="0.85"/>
<circle cx="229.8" cy="504.6" r="0.7" fill="#b8a06c" opacity="0.85"/>
<circle cx="70.6" cy="431.6" r="0.7" fill="#857249" opacity="0.85"/>
<circle cx="43.2" cy="463.8" r="0.9" fill="#a48d5c" opacity="0.85"/>
<circle cx="198.1" cy="463.4" r="0.7" fill="#b09864" opacity="0.85"/>
<circle cx="158.0" cy="458.9" r="1.0" fill="#a48d5c" opacity="0.85"/>
<circle cx="103.6" cy="468.2" r="1.0" fill="#ab9462" opacity="0.85"/>
<circle cx="52.7" cy="433.0" r="1.0" fill="#a48d5c" opacity="0.85"/>
<circle cx="77.8" cy="422.9" r="1.0" fill="#857249" opacity="0.85"/>
<circle cx="126.1" cy="427.7" r="0.6" fill="#b8a06c" opacity="0.85"/>
<circle cx="81.9" cy="445.0" r="1.0" fill="#b8a06c" opacity="0.85"/>
<circle cx="291.2" cy="485.9" r="0.8" fill="#a48d5c" opacity="0.85"/>
<circle cx="64.2" cy="446.3" r="0.8" fill="#7b6a47" opacity="0.85"/>
<circle cx="253.3" cy="486.7" r="1.2" fill="#94804f" opacity="0.85"/>
<circle cx="116.1" cy="431.8" r="1.1" fill="#857249" opacity="0.85"/>
<circle cx="125.6" cy="456.4" r="0.7" fill="#ab9462" opacity="0.85"/>
<circle cx="199.1" cy="429.6" r="1.1" fill="#94804f" opacity="0.85"/>
<circle cx="165.8" cy="480.6" r="1.2" fill="#857249" opacity="0.85"/>
<circle cx="151.0" cy="494.6" r="0.7" fill="#c4ae7c" opacity="0.85"/>
<circle cx="281.0" cy="474.1" r="0.9" fill="#b09864" opacity="0.85"/>
<circle cx="168.1" cy="435.8" r="1.0" fill="#857249" opacity="0.85"/>
<circle cx="294.6" cy="420.1" r="0.5" fill="#94804f" opacity="0.85"/>
<circle cx="231.7" cy="438.2" r="1.0" fill="#7b6a47" opacity="0.85"/>
<circle cx="147.7" cy="449.4" r="0.9" fill="#ab9462" opacity="0.85"/>
<circle cx="42.9" cy="437.7" r="0.7" fill="#94804f" opacity="0.85"/>
<circle cx="120.0" cy="464.6" r="0.8" fill="#a48d5c" opacity="0.85"/>
<circle cx="69.6" cy="449.3" r="0.8" fill="#a48d5c" opacity="0.85"/>
<circle cx="256.3" cy="437.1" r="1.2" fill="#b09864" opacity="0.85"/>
<circle cx="278.2" cy="490.2" r="1.0" fill="#b09864" opacity="0.85"/>
<circle cx="80.4" cy="460.5" r="1.2" fill="#c4ae7c" opacity="0.85"/>
<circle cx="160.2" cy="491.6" r="1.2" fill="#a48d5c" opacity="0.85"/>
<circle cx="257.1" cy="446.3" r="1.1" fill="#c4ae7c" opacity="0.85"/>
<circle cx="184.3" cy="421.6" r="1.0" fill="#c4ae7c" opacity="0.85"/>
<circle cx="247.9" cy="498.1" r="0.8" fill="#b8a06c" opacity="0.85"/>
<circle cx="112.9" cy="422.7" r="1.3" fill="#b8a06c" opacity="0.85"/>
<circle cx="188.5" cy="454.3" r="1.0" fill="#857249" opacity="0.85"/>
<circle cx="223.4" cy="447.7" r="0.5" fill="#7b6a47" opacity="0.85"/>
<circle cx="62.6" cy="497.2" r="0.8" fill="#857249" opacity="0.85"/>
<circle cx="96.2" cy="446.6" r="0.6" fill="#a48d5c" opacity="0.85"/>
<circle cx="242.2" cy="500.4" r="0.9" fill="#a48d5c" opacity="0.85"/>
<circle cx="247.7" cy="499.6" r="0.6" fill="#c4ae7c" opacity="0.85"/>
<circle cx="280.1" cy="484.5" r="0.9" fill="#c4ae7c" opacity="0.85"/>
<circle cx="77.3" cy="496.7" r="1.2" fill="#b8a06c" opacity="0.85"/>
<circle cx="93.3" cy="423.2" r="0.8" fill="#94804f" opacity="0.85"/>
<circle cx="41.1" cy="502.0" r="1.0" fill="#94804f" opacity="0.85"/>
<circle cx="126.7" cy="498.2" r="0.6" fill="#857249" opacity="0.85"/>
<circle cx="45.8" cy="486.7" r="1.0" fill="#ab9462" opacity="0.85"/>
<circle cx="123.4" cy="436.9" r="0.7" fill="#c4ae7c" opacity="0.85"/>
<circle cx="240.9" cy="479.1" r="0.7" fill="#b8a06c" opacity="0.85"/>
<circle cx="111.1" cy="421.3" r="1.0" fill="#94804f" opacity="0.85"/>
<circle cx="93.7" cy="450.8" r="0.8" fill="#b8a06c" opacity="0.85"/>
<circle cx="285.3" cy="490.8" r="1.0" fill="#b8a06c" opacity="0.85"/>
<circle cx="58.5" cy="474.0" r="0.8" fill="#b09864" opacity="0.85"/>
<circle cx="53.2" cy="422.6" r="1.2" fill="#a48d5c" opacity="0.85"/>
<circle cx="67.5" cy="424.7" r="0.8" fill="#b8a06c" opacity="0.85"/>
<circle cx="223.2" cy="498.4" r="1.0" fill="#b09864" opacity="0.85"/>
<circle cx="200.2" cy="447.5" r="1.2" fill="#94804f" opacity="0.85"/>
<circle cx="293.2" cy="486.5" r="0.9" fill="#b8a06c" opacity="0.85"/>
<circle cx="64.2" cy="490.6" r="1.1" fill="#94804f" opacity="0.85"/>
<circle cx="158.5" cy="480.2" r="1.1" fill="#b09864" opacity="0.85"/>
<circle cx="162.3" cy="503.4" r="0.6" fill="#857249" opacity="0.85"/>
<circle cx="277.3" cy="454.5" r="1.1" fill="#c4ae7c" opacity="0.85"/>
<circle cx="245.1" cy="497.7" r="0.9" fill="#a48d5c" opacity="0.85"/>
<circle cx="57.0" cy="429.9" r="0.9" fill="#b8a06c" opacity="0.85"/>
<circle cx="113.4" cy="450.7" r="1.0" fill="#94804f" opacity="0.85"/>
<circle cx="145.5" cy="482.9" r="0.6" fill="#94804f" opacity="0.85"/>
<circle cx="246.0" cy="466.9" r="0.8" fill="#7b6a47" opacity="0.85"/>
<circle cx="102.0" cy="441.4" r="0.6" fill="#b09864" opacity="0.85"/>
<circle cx="139.8" cy="450.0" r="1.2" fill="#7b6a47" opacity="0.85"/>
<circle cx="243.9" cy="458.3" r="1.1" fill="#ab9462" opacity="0.85"/>
<circle cx="85.0" cy="478.9" r="1.1" fill="#b09864" opacity="0.85"/>
<circle cx="69.7" cy="472.5" r="0.8" fill="#94804f" opacity="0.85"/>
<circle cx="253.7" cy="435.5" r="1.3" fill="#94804f" opacity="0.85"/>
<circle cx="195.5" cy="480.3" r="1.0" fill="#7b6a47" opacity="0.85"/>
<circle cx="125.1" cy="476.8" r="0.5" fill="#ab9462" opacity="0.85"/>
<circle cx="252.4" cy="498.1" r="1.2" fill="#a48d5c" opacity="0.85"/>
<circle cx="236.8" cy="478.2" r="0.9" fill="#857249" opacity="0.85"/>
<circle cx="141.4" cy="470.9" r="0.7" fill="#c4ae7c" opacity="0.85"/>
<circle cx="117.9" cy="489.9" r="1.0" fill="#7b6a47" opacity="0.85"/>
<circle cx="226.6" cy="500.5" r="1.3" fill="#a48d5c" opacity="0.85"/>
<circle cx="199.0" cy="464.9" r="1.2" fill="#857249" opacity="0.85"/>
<circle cx="56.2" cy="499.3" r="1.3" fill="#a48d5c" opacity="0.85"/>
<circle cx="222.9" cy="492.2" r="0.8" fill="#857249" opacity="0.85"/>
<circle cx="265.1" cy="440.7" r="1.1" fill="#7b6a47" opacity="0.85"/>
<circle cx="202.6" cy="482.6" r="0.8" fill="#7b6a47" opacity="0.85"/>
<circle cx="181.7" cy="478.3" r="0.9" fill="#ab9462" opacity="0.85"/>
<circle cx="184.4" cy="494.2" r="0.8" fill="#7b6a47" opacity="0.85"/>
<circle cx="80.1" cy="507.8" r="1.0" fill="#b8a06c" opacity="0.85"/>
<circle cx="43.0" cy="477.1" r="0.6" fill="#b09864" opacity="0.85"/>
<circle cx="211.1" cy="505.8" r="0.6" fill="#b8a06c" opacity="0.85"/>
<circle cx="207.0" cy="456.6" r="0.9" fill="#7b6a47" opacity="0.85"/>
<circle cx="202.0" cy="460.0" r="0.8" fill="#b09864" opacity="0.85"/>
<circle cx="140.0" cy="439.9" r="0.8" fill="#a48d5c" opacity="0.85"/>
<circle cx="190.3" cy="494.5" r="0.7" fill="#857249" opacity="0.85"/>
<circle cx="146.8" cy="468.1" r="0.8" fill="#a48d5c" opacity="0.85"/>
<circle cx="187.7" cy="482.0" r="0.6" fill="#b09864" opacity="0.85"/>
<circle cx="290.1" cy="427.0" r="1.1" fill="#857249" opacity="0.85"/>
<circle cx="160.9" cy="426.9" r="1.2" fill="#94804f" opacity="0.85"/>
<circle cx="103.8" cy="475.5" r="1.0" fill="#94804f" opacity="0.85"/>
<circle cx="217.9" cy="467.4" r="1.0" fill="#a48d5c" opacity="0.85"/>
<circle cx="274.9" cy="467.1" r="0.5" fill="#b09864" opacity="0.85"/>
<circle cx="173.3" cy="461.3" r="1.1" fill="#7b6a47" opacity="0.85"/>
<circle cx="131.8" cy="506.0" r="0.7" fill="#b8a06c" opacity="0.85"/>
<circle cx="49.2" cy="501.2" r="1.1" fill="#857249" opacity="0.85"/>
<circle cx="56.0" cy="461.6" r="0.6" fill="#a48d5c" opacity="0.85"/>
<circle cx="210.6" cy="445.7" r="1.1" fill="#a48d5c" opacity="0.85"/>
<circle cx="114.6" cy="427.3" r="0.9" fill="#857249" opacity="0.85"/>
<circle cx="105.5" cy="474.2" r="0.7" fill="#857249" opacity="0.85"/>
<circle cx="43.7" cy="429.8" r="0.6" fill="#b8a06c" opacity="0.85"/>
<circle cx="211.4" cy="452.5" r="0.6" fill="#ab9462" opacity="0.85"/>
<circle cx="166.1" cy="490.3" r="1.2" fill="#c4ae7c" opacity="0.85"/>
<circle cx="295.9" cy="505.1" r="1.0" fill="#b8a06c" opacity="0.85"/>
<circle cx="257.8" cy="486.2" r="0.8" fill="#7b6a47" opacity="0.85"/>
<circle cx="101.9" cy="458.7" r="1.0" fill="#ab9462" opacity="0.85"/>
<circle cx="190.2" cy="494.1" r="0.5" fill="#857249" opacity="0.85"/>
<circle cx="236.4" cy="430.2" r="0.6" fill="#7b6a47" opacity="0.85"/>
<circle cx="163.8" cy="461.9" r="1.3" fill="#ab9462" opacity="0.85"/>
<circle cx="138.7" cy="482.1" r="0.9" fill="#b8a06c" opacity="0.85"/>
<circle cx="177.9" cy="458.3" r="0.7" fill="#b09864" opacity="0.85"/>
<circle cx="139.3" cy="447.8" r="0.9" fill="#a48d5c" opacity="0.85"/>
<circle cx="65.3" cy="466.8" r="0.8" fill="#7b6a47" opacity="0.85"/>
<circle cx="198.7" cy="477.4" r="0.7" fill="#857249" opacity="0.85"/>
<circle cx="109.4" cy="428.6" r="1.0" fill="#7b6a47" opacity="0.85"/>
<circle cx="159.9" cy="479.4" r="0.7" fill="#ab9462" opacity="0.85"/>
<circle cx="175.2" cy="479.6" r="1.3" fill="#c4ae7c" opacity="0.85"/>
<circle cx="182.4" cy="479.2" r="1.2" fill="#a48d5c" opacity="0.85"/>
<circle cx="146.9" cy="466.2" r="1.0" fill="#c4ae7c" opacity="0.85"/>
<circle cx="97.0" cy="444.9" r="0.7" fill="#a48d5c" opacity="0.85"/>
<circle cx="201.0" cy="425.0" r="1.0" fill="#ab9462" opacity="0.85"/>
<circle cx="287.1" cy="476.2" r="1.1" fill="#94804f" opacity="0.85"/>
<circle cx="62.5" cy="473.2" r="0.8" fill="#b8a06c" opacity="0.85"/>
<circle cx="273.0" cy="481.2" r="0.7" fill="#b09864" opacity="0.85"/>
<circle cx="211.7" cy="426.7" r="0.9" fill="#857249" opacity="0.85"/>
<circle cx="240.0" cy="480.9" r="1.0" fill="#c4ae7c" opacity="0.85"/>
<circle cx="106.9" cy="488.7" r="0.7" fill="#a48d5c" opacity="0.85"/>
<circle cx="139.5" cy="449.3" r="0.5" fill="#857249" opacity="0.85"/>
<circle cx="86.3" cy="426.1" r="1.3" fill="#ab9462" opacity="0.85"/>
<circle cx="198.7" cy="435.7" r="0.9" fill="#b8a06c" opacity="0.85"/>
<circle cx="180.6" cy="458.0" r="1.0" fill="#94804f" opacity="0.85"/>
<circle cx="277.3" cy="483.0" r="0.6" fill="#94804f" opacity="0.85"/>
<circle cx="58.3" cy="484.0" r="1.1" fill="#a48d5c" opacity="0.85"/>
<circle cx="273.1" cy="433.1" r="1.0" fill="#a48d5c" opacity="0.85"/>
<circle cx="212.8" cy="443.4" r="1.1" fill="#7b6a47" opacity="0.85"/>
<circle cx="189.4" cy="465.4" r="1.3" fill="#b09864" opacity="0.85"/>
<circle cx="164.3" cy="455.5" r="1.1" fill="#94804f" opacity="0.85"/>
<circle cx="180.4" cy="420.3" r="1.3" fill="#b09864" opacity="0.85"/>
<circle cx="71.5" cy="467.1" r="1.3" fill="#c4ae7c" opacity="0.85"/>
<circle cx="217.3" cy="455.3" r="1.0" fill="#94804f" opacity="0.85"/>
<circle cx="135.0" cy="495.1" r="0.8" fill="#b09864" opacity="0.85"/>
<circle cx="237.7" cy="445.5" r="0.7" fill="#a48d5c" opacity="0.85"/>
<circle cx="291.6" cy="478.1" r="0.7" fill="#7b6a47" opacity="0.85"/>
<circle cx="273.1" cy="475.5" r="0.8" fill="#94804f" opacity="0.85"/>
<circle cx="270.2" cy="458.5" r="0.7" fill="#a48d5c" opacity="0.85"/>
<circle cx="90.2" cy="483.3" r="1.0" fill="#b09864" opacity="0.85"/>
<circle cx="141.1" cy="489.8" r="1.0" fill="#b09864" opacity="0.85"/>
<circle cx="178.8" cy="493.4" r="0.9" fill="#a48d5c" opacity="0.85"/>
<circle cx="49.6" cy="424.9" r="1.1" fill="#a48d5c" opacity="0.85"/>
<circle cx="145.4" cy="438.6" r="1.0" fill="#b09864" opacity="0.85"/>
<circle cx="284.4" cy="496.6" r="0.9" fill="#ab9462" opacity="0.85"/>
<circle cx="280.5" cy="423.2" r="0.6" fill="#a48d5c" opacity="0.85"/>
<circle cx="162.5" cy="500.8" r="0.5" fill="#b8a06c" opacity="0.85"/>
<circle cx="43.7" cy="475.7" r="1.2" fill="#94804f" opacity="0.85"/>
<circle cx="158.6" cy="435.0" r="1.0" fill="#94804f" opacity="0.85"/>
<circle cx="69.7" cy="472.4" r="1.0" fill="#94804f" opacity="0.85"/>
<circle cx="249.2" cy="457.5" r="1.1" fill="#7b6a47" opacity="0.85"/>
<circle cx="124.3" cy="505.9" r="1.0" fill="#b8a06c" opacity="0.85"/>
<circle cx="123.6" cy="504.9" r="0.7" fill="#a48d5c" opacity="0.85"/>
<circle cx="194.2" cy="449.5" r="0.6" fill="#b8a06c" opacity="0.85"/>
<circle cx="237.0" cy="434.8" r="0.8" fill="#b8a06c" opacity="0.85"/>
<circle cx="154.1" cy="501.5" r="0.5" fill="#94804f" opacity="0.85"/>
<circle cx="245.7" cy="475.6" r="0.8" fill="#b8a06c" opacity="0.85"/>
<circle cx="44.1" cy="462.9" r="0.5" fill="#b8a06c" opacity="0.85"/>
<circle cx="280.8" cy="482.2" r="1.0" fill="#857249" opacity="0.85"/>
<circle cx="148.2" cy="491.1" r="1.1" fill="#b8a06c" opacity="0.85"/>
<circle cx="93.6" cy="476.3" r="0.9" fill="#7b6a47" opacity="0.85"/>
<circle cx="102.2" cy="435.4" r="1.1" fill="#b8a06c" opacity="0.85"/>
<circle cx="226.5" cy="473.9" r="0.6" fill="#857249" opacity="0.85"/>
<circle cx="130.4" cy="420.4" r="0.7" fill="#94804f" opacity="0.85"/>
<circle cx="296.5" cy="506.0" r="1.0" fill="#ab9462" opacity="0.85"/>
<circle cx="160.7" cy="475.1" r="0.7" fill="#a48d5c" opacity="0.85"/>
<circle cx="90.4" cy="490.1" r="1.0" fill="#b09864" opacity="0.85"/>
<circle cx="169.4" cy="434.1" r="1.2" fill="#a48d5c" opacity="0.85"/>
<circle cx="207.7" cy="445.1" r="0.8" fill="#c4ae7c" opacity="0.85"/>
<circle cx="200.4" cy="498.3" r="0.9" fill="#94804f" opacity="0.85"/>
<circle cx="232.5" cy="501.4" r="0.6" fill="#a48d5c" opacity="0.85"/>
<circle cx="166.1" cy="430.2" r="1.2" fill="#b09864" opacity="0.85"/>
<circle cx="194.1" cy="448.7" r="0.7" fill="#c4ae7c" opacity="0.85"/>
<circle cx="99.8" cy="429.7" r="0.7" fill="#ab9462" opacity="0.85"/>
<circle cx="231.8" cy="496.5" r="0.8" fill="#ab9462" opacity="0.85"/>
<circle cx="59.1" cy="471.5" r="0.5" fill="#7b6a47" opacity="0.85"/>
<circle cx="77.7" cy="501.7" r="0.9" fill="#7b6a47" opacity="0.85"/>
<circle cx="137.1" cy="460.3" r="0.7" fill="#c4ae7c" opacity="0.85"/>
<circle cx="293.6" cy="437.8" r="0.6" fill="#a48d5c" opacity="0.85"/>
<ellipse cx="990" cy="515" rx="10" ry="3.5" fill="#d9d9d9" opacity="0.7"/>
<polygon points="726.5,489.0 895.0,514.0 989.0,494.5 989.5,515.0 897.0,541.5 726.5,511.0" fill="#cfd1d3"/>
<polygon points="730.0,490.5 749.0,493.3 749.0,509.1 730.0,505.6" fill="#c3c6c9" stroke="#76797c" stroke-width="0.8"/>
<polygon points="732.0,493.5 747.0,496.3 747.0,506.1 732.0,502.6" fill="none" stroke="#dcdedf" stroke-width="0.8"/>
<polygon points="752.0,493.8 763.5,495.5 763.5,511.7 752.0,509.6" fill="#c3c6c9" stroke="#76797c" stroke-width="0.8"/>
<polygon points="754.0,496.8 761.5,498.5 761.5,508.7 754.0,506.6" fill="none" stroke="#dcdedf" stroke-width="0.8"/>
<polygon points="772.5,496.8 786.5,498.9 786.5,515.9 772.5,513.3" fill="#c3c6c9" stroke="#76797c" stroke-width="0.8"/>
<polygon points="774.5,499.8 784.5,501.9 784.5,512.9 774.5,510.3" fill="none" stroke="#dcdedf" stroke-width="0.8"/>
<polygon points="789.5,499.3 799.5,500.8 799.5,518.2 789.5,516.4" fill="#c3c6c9" stroke="#76797c" stroke-width="0.8"/>
<polygon points="791.5,502.3 797.5,503.8 797.5,515.2 791.5,513.4" fill="none" stroke="#dcdedf" stroke-width="0.8"/>
<polygon points="802.5,501.3 827.5,505.0 827.5,523.3 802.5,518.8" fill="#c3c6c9" stroke="#76797c" stroke-width="0.8"/>
<polygon points="804.5,504.3 825.5,508.0 825.5,520.3 804.5,515.8" fill="none" stroke="#dcdedf" stroke-width="0.8"/>
<polygon points="830.5,505.4 856.0,509.2 856.0,528.4 830.5,523.8" fill="#c3c6c9" stroke="#76797c" stroke-width="0.8"/>
<polygon points="832.5,508.4 854.0,512.2 854.0,525.4 832.5,520.8" fill="none" stroke="#dcdedf" stroke-width="0.8"/>
<polygon points="859.0,509.7 874.5,512.0 874.5,531.8 859.0,529.0" fill="#c3c6c9" stroke="#76797c" stroke-width="0.8"/>
<polygon points="861.0,512.7 872.5,515.0 872.5,528.8 861.0,526.0" fill="none" stroke="#dcdedf" stroke-width="0.8"/>
<polygon points="877.5,512.4 895.5,515.1 895.5,535.6 877.5,532.3" fill="#c3c6c9" stroke="#76797c" stroke-width="0.8"/>
<polygon points="879.5,515.4 893.5,518.1 893.5,532.6 879.5,529.3" fill="none" stroke="#dcdedf" stroke-width="0.8"/>
<polygon points="898.5,514.3 912.5,511.4 912.5,530.6 898.5,534.5" fill="#c3c6c9" stroke="#76797c" stroke-width="0.8"/>
<polygon points="900.5,517.3 910.5,514.4 910.5,527.6 900.5,531.5" fill="none" stroke="#d3d5d6" stroke-width="0.8"/>
<polygon points="915.5,510.7 938.5,506.0 938.5,523.2 915.5,529.7" fill="#c3c6c9" stroke="#76797c" stroke-width="0.8"/>
<polygon points="917.5,513.7 936.5,509.0 936.5,520.2 917.5,526.7" fill="none" stroke="#d3d5d6" stroke-width="0.8"/>
<polygon points="941.5,505.4 962.5,501.0 962.5,516.5 941.5,522.4" fill="#c3c6c9" stroke="#76797c" stroke-width="0.8"/>
<polygon points="943.5,508.4 960.5,504.0 960.5,513.5 943.5,519.4" fill="none" stroke="#d3d5d6" stroke-width="0.8"/>
<polygon points="965.5,500.4 987.5,495.8 987.5,509.4 965.5,515.6" fill="#c3c6c9" stroke="#76797c" stroke-width="0.8"/>
<polygon points="967.5,503.4 985.5,498.8 985.5,506.4 967.5,512.6" fill="none" stroke="#d3d5d6" stroke-width="0.8"/>
<path d="M728.5 489.3 L728.5 511.4" stroke="#e4e5e6" stroke-width="2.4"/><path d="M729.8 489.3 L729.8 511.4" stroke="#6d7073" stroke-width="0.7"/>
<path d="M750.5 492.6 L750.5 515.3" stroke="#e4e5e6" stroke-width="2.4"/><path d="M751.8 492.6 L751.8 515.3" stroke="#6d7073" stroke-width="0.7"/>
<path d="M765.0 494.7 L765.0 518.0" stroke="#e4e5e6" stroke-width="2.4"/><path d="M766.3 494.7 L766.3 518.0" stroke="#6d7073" stroke-width="0.7"/>
<path d="M771.0 495.6 L771.0 519.1" stroke="#e4e5e6" stroke-width="2.4"/><path d="M772.3 495.6 L772.3 519.1" stroke="#6d7073" stroke-width="0.7"/>
<path d="M788.0 498.1 L788.0 522.1" stroke="#e4e5e6" stroke-width="2.4"/><path d="M789.3 498.1 L789.3 522.1" stroke="#6d7073" stroke-width="0.7"/>
<path d="M801.0 500.1 L801.0 524.5" stroke="#e4e5e6" stroke-width="2.4"/><path d="M802.3 500.1 L802.3 524.5" stroke="#6d7073" stroke-width="0.7"/>
<path d="M829.0 504.2 L829.0 529.6" stroke="#e4e5e6" stroke-width="2.4"/><path d="M830.3 504.2 L830.3 529.6" stroke="#6d7073" stroke-width="0.7"/>
<path d="M857.5 508.4 L857.5 534.7" stroke="#e4e5e6" stroke-width="2.4"/><path d="M858.8 508.4 L858.8 534.7" stroke="#6d7073" stroke-width="0.7"/>
<path d="M876.0 511.2 L876.0 538.1" stroke="#e4e5e6" stroke-width="2.4"/><path d="M877.3 511.2 L877.3 538.1" stroke="#6d7073" stroke-width="0.7"/>
<path d="M897.0 514.3 L897.0 541.9" stroke="#e4e5e6" stroke-width="2.4"/><path d="M898.3 514.3 L898.3 541.9" stroke="#6d7073" stroke-width="0.7"/>
<path d="M897.0 513.6 L897.0 540.9" stroke="#e4e5e6" stroke-width="2.4"/><path d="M898.3 513.6 L898.3 540.9" stroke="#6d7073" stroke-width="0.7"/>
<path d="M914.0 510.1 L914.0 536.1" stroke="#e4e5e6" stroke-width="2.4"/><path d="M915.3 510.1 L915.3 536.1" stroke="#6d7073" stroke-width="0.7"/>
<path d="M940.0 504.7 L940.0 528.8" stroke="#e4e5e6" stroke-width="2.4"/><path d="M941.3 504.7 L941.3 528.8" stroke="#6d7073" stroke-width="0.7"/>
<path d="M964.0 499.7 L964.0 522.0" stroke="#e4e5e6" stroke-width="2.4"/><path d="M965.3 499.7 L965.3 522.0" stroke="#6d7073" stroke-width="0.7"/>
<path d="M989.0 494.5 L989.0 515.0" stroke="#e4e5e6" stroke-width="2.4"/><path d="M990.3 494.5 L990.3 515.0" stroke="#6d7073" stroke-width="0.7"/>
<polygon points="726.5,506.0 897.0,536.9 989.5,509.9 989.5,515.0 897.0,541.5 726.5,511.0" fill="#d8dadb" stroke="#6b6e71" stroke-width="0.9"/>
<polygon points="726.5,489.0 895.0,514.0 989.0,494.5 989.5,515.0 897.0,541.5 726.5,511.0" fill="none" stroke="#55585b" stroke-width="1.1"/>
<polygon points="925.5,444.0 898.0,487.0 946.0,470.0 952.0,476.0" fill="#7f8488" stroke="#4a4644" stroke-width="1"/>
<path d="M926.5 456 L926.5 480 M914 468 L939 467 M910 480 L930 476" stroke="#c4c7c9" stroke-width="1.3"/><path d="M918 462 L922 470 M933 462 L937 470" stroke="#5b5f63" stroke-width="0.9"/>
<polygon points="925.0,440.0 933.3,452.8 943.5,465.5 956.0,471.9 981.5,476.3 1003.0,476.5 1004.0,481.0 981.0,480.5 955.0,476.0 940.0,469.0 932.0,459.0 925.7,451.0" fill="#c59d70" stroke="#5f4938" stroke-width="1"/>
<defs><clipPath id="rtm"><path d="M707.0 475.5 L739.0 470.5 L762.5 464.5 L781.0 454.5 L794.0 442.0 L804.5 429.0 L923.0 442.5 L925.0 445.0 L899.0 485.8 L898.0 513.0 L898.0 513.5 L860.0 512.5 L840.6 510.0 L809.4 504.0 L778.0 497.5 L747.0 493.0 L727.0 489.0 L715.6 483.5 L707.0 479.0 Z"/></clipPath></defs>
<path d="M707.0 475.5 L739.0 470.5 L762.5 464.5 L781.0 454.5 L794.0 442.0 L804.5 429.0 L923.0 442.5 L925.0 445.0 L899.0 485.8 L898.0 513.0 L898.0 513.5 L860.0 512.5 L840.6 510.0 L809.4 504.0 L778.0 497.5 L747.0 493.0 L727.0 489.0 L715.6 483.5 L707.0 479.0 Z" fill="#c9a680"/>
<g clip-path="url(#rtm)"><path d="M711.6 482.3L709.4 480.3Q769.8 425.3 805.5 370.3 M716.4 484.8L714.2 482.8Q774.4 427.8 810.0 372.8 M721.3 487.2L719.1 485.2Q779.0 430.2 814.6 375.2 M726.1 489.5L724.0 487.5Q783.7 432.5 819.2 377.5 M731.2 491.3L729.1 489.3Q788.5 434.3 823.9 379.3 M736.5 492.5L734.4 490.5Q793.6 435.5 828.9 380.5 M741.8 493.5L739.7 491.5Q798.7 436.5 833.9 381.5 M747.1 494.6L745.0 492.6Q803.8 437.6 839.0 382.6 M752.5 495.5L750.4 493.5Q808.9 438.5 844.0 383.5 M757.9 496.3L755.7 494.3Q814.1 439.3 849.1 384.3 M763.2 497.0L761.1 495.0Q819.2 440.0 854.2 385.0 M768.6 497.8L766.5 495.8Q824.4 440.8 859.2 385.8 M774.0 498.6L771.9 496.6Q829.5 441.6 864.3 386.6 M779.3 499.4L777.2 497.4Q834.6 442.4 869.3 387.4 M784.6 500.4L782.6 498.4Q839.7 443.4 874.4 388.4 M789.9 501.5L787.9 499.5Q844.8 444.5 879.4 389.5 M795.3 502.6L793.2 500.6Q849.9 445.6 884.4 390.6 M800.6 503.7L798.5 501.7Q855.0 446.7 889.4 391.7 M805.9 504.8L803.8 502.8Q860.1 447.8 894.4 392.8 M811.2 505.9L809.2 503.9Q865.2 448.9 899.4 393.9 M816.5 507.0L814.5 505.0Q870.3 450.0 904.5 395.0 M821.8 508.0L819.8 506.0Q875.4 451.0 909.5 396.0 M827.1 509.0L825.1 507.0Q879.5 452.0 913.0 397.0 M832.4 510.1L830.5 508.1Q883.4 453.1 916.3 398.1 M837.7 511.1L835.8 509.1Q887.4 454.1 919.6 399.1 M843.0 512.0L841.2 510.0Q891.3 455.0 922.9 400.0 M848.3 512.8L846.5 510.8Q895.3 455.8 926.3 400.8 M853.6 513.5L851.9 511.5Q899.4 456.5 929.6 401.5 M859.0 514.2L857.3 512.2Q903.4 457.2 933.0 402.2 M864.3 514.6L862.7 512.6Q907.4 457.6 936.4 402.6 M869.7 514.7L868.1 512.7Q911.5 457.7 939.8 402.7 M875.1 514.9L873.6 512.9Q915.5 457.9 943.2 402.9 M880.5 515.0L879.0 513.0Q919.6 458.0 946.6 403.0 M885.9 515.1L884.4 513.1Q923.6 458.1 950.0 403.1 M891.2 515.3L889.9 513.3Q927.7 458.3 953.4 403.3 M896.6 515.4L895.3 513.4Q931.7 458.4 956.8 403.4" stroke="#e3caa6" stroke-width="2.7" fill="none"/><path d="M709.2 481.0L707.0 479.0Q767.5 424.0 803.2 369.0 M714.0 483.5L711.8 481.5Q772.1 426.5 807.8 371.5 M718.8 486.0L716.6 484.0Q776.7 429.0 812.3 374.0 M723.7 488.4L721.5 486.4Q781.3 431.4 816.9 376.4 M728.6 490.7L726.4 488.7Q786.0 433.7 821.4 378.7 M733.9 491.9L731.7 489.9Q791.0 434.9 826.4 379.9 M739.2 493.0L737.0 491.0Q796.1 436.0 831.4 381.0 M744.5 494.1L742.3 492.1Q801.2 437.1 836.5 382.1 M749.8 495.1L747.7 493.1Q806.3 438.1 841.5 383.1 M755.2 495.9L753.1 493.9Q811.5 438.9 846.6 383.9 M760.5 496.7L758.4 494.7Q816.6 439.7 851.6 384.7 M765.9 497.4L763.8 495.4Q821.8 440.4 856.7 385.4 M771.3 498.2L769.2 496.2Q826.9 441.2 861.8 386.2 M776.6 499.0L774.5 497.0Q832.1 442.0 866.8 387.0 M782.0 499.9L779.9 497.9Q837.2 442.9 871.9 387.9 M787.3 501.0L785.2 499.0Q842.3 444.0 876.9 389.0 M792.6 502.1L790.5 500.1Q847.4 445.1 881.9 390.1 M797.9 503.2L795.9 501.2Q852.5 446.2 886.9 391.2 M803.2 504.3L801.2 502.3Q857.5 447.3 891.9 392.3 M808.5 505.4L806.5 503.4Q862.6 448.4 896.9 393.4 M813.8 506.5L811.8 504.5Q867.7 449.5 902.0 394.5 M819.2 507.5L817.1 505.5Q872.8 450.5 907.0 395.5 M824.5 508.5L822.5 506.5Q877.5 451.5 911.3 396.5 M829.8 509.5L827.8 507.5Q881.4 452.5 914.6 397.5 M835.0 510.6L833.1 508.6Q885.4 453.6 917.9 398.6 M840.3 511.6L838.5 509.6Q889.4 454.6 921.2 399.6 M845.6 512.4L843.8 510.4Q893.3 455.4 924.6 400.4 M851.0 513.1L849.2 511.1Q897.4 456.1 927.9 401.1 M856.3 513.8L854.6 511.8Q901.4 456.8 931.3 401.8 M861.7 514.5L860.0 512.5Q905.4 457.5 934.7 402.5 M867.0 514.6L865.4 512.6Q909.4 457.6 938.1 402.6 M872.4 514.8L870.9 512.8Q913.5 457.8 941.5 402.8 M877.8 514.9L876.3 512.9Q917.5 457.9 944.9 402.9 M883.2 515.1L881.7 513.1Q921.6 458.1 948.3 403.1 M888.5 515.2L887.1 513.2Q925.6 458.2 951.7 403.2 M893.9 515.4L892.6 513.4Q929.7 458.4 955.1 403.4 M899.3 515.5L898.0 513.5Q933.8 458.5 958.5 403.5" stroke="#5c4837" stroke-width="1.0" fill="none"/></g>
<path d="M707.0 475.5 L739.0 470.5 L762.5 464.5 L781.0 454.5 L794.0 442.0 L804.5 429.0 L923.0 442.5 L925.0 445.0 L899.0 485.8 L898.0 513.0 L898.0 513.5 L860.0 512.5 L840.6 510.0 L809.4 504.0 L778.0 497.5 L747.0 493.0 L727.0 489.0 L715.6 483.5 L707.0 479.0 Z" fill="none" stroke="#5f4938" stroke-width="1.2"/>
<path d="M926 444 Q915 462 900 486" stroke="#c9a175" stroke-width="4.5" fill="none"/><path d="M928.5 446 Q918 464 903.5 485.5" stroke="#5f4938" stroke-width="0.9" fill="none"/><path d="M923.5 442.5 Q912 461 897.5 486" stroke="#5f4938" stroke-width="0.9" fill="none"/>
<polygon points="803.0,427.0 924.0,440.5 926.5,443.0 925.0,446.5 806.0,434.5 802.0,431.0" fill="#b39575" stroke="#5f4938" stroke-width="1"/>
<path d="M806 431 L924 443.5" stroke="#cdb08e" stroke-width="1.2"/>
<defs><clipPath id="rtw"><path d="M899.0 485.8 L944.0 469.5 L966.0 475.0 L983.0 478.0 L1004.4 481.0 L1005.6 484.6 L994.2 492.2 L961.2 504.9 L930.8 513.8 L908.0 515.0 L899.0 513.8 Z"/></clipPath></defs>
<path d="M899.0 485.8 L944.0 469.5 L966.0 475.0 L983.0 478.0 L1004.4 481.0 L1005.6 484.6 L994.2 492.2 L961.2 504.9 L930.8 513.8 L908.0 515.0 L899.0 513.8 Z" fill="#c09d75"/>
<g clip-path="url(#rtw)"><path d="M874.2 516.5L872.5 514.5Q898.3 484.5 921.1 454.5 M879.3 516.5L877.6 514.5Q903.9 484.5 927.2 454.5 M884.4 516.5L882.7 514.5Q909.5 484.5 933.4 454.5 M889.5 516.5L887.8 514.5Q915.1 484.5 939.5 454.5 M894.6 516.5L892.8 514.5Q920.7 484.5 945.6 454.5 M899.7 516.6L897.9 514.6Q926.3 484.6 951.8 454.6 M904.8 516.9L902.9 514.9Q931.9 484.9 957.9 454.9 M909.9 517.3L908.0 515.3Q937.5 485.3 964.0 455.3 M915.0 517.2L913.0 515.2Q943.1 485.2 970.2 455.2 M920.1 517.0L918.1 515.0Q948.7 485.0 976.3 455.0 M925.2 516.7L923.2 514.7Q954.3 484.7 982.4 454.7 M930.3 516.4L928.2 514.4Q959.9 484.4 988.6 454.4 M935.3 515.6L933.2 513.6Q965.4 483.6 994.6 453.6 M940.2 514.2L938.1 512.2Q970.8 482.2 1000.5 452.2 M945.1 512.7L942.9 510.7Q976.2 480.7 1006.5 450.7 M950.0 511.3L947.8 509.3Q981.6 479.3 1012.4 449.3 M954.9 509.9L952.7 507.9Q987.0 477.9 1018.4 447.9 M959.8 508.5L957.5 506.5Q992.4 476.5 1024.3 446.5 M964.6 506.9L962.4 504.9Q997.8 474.9 1030.2 444.9 M969.4 505.1L967.1 503.1Q1003.1 473.1 1036.0 443.1 M974.2 503.3L971.8 501.3Q1008.3 471.3 1041.8 441.3 M979.0 501.5L976.6 499.5Q1013.6 469.5 1047.6 439.5 M983.7 499.7L981.3 497.7Q1018.9 467.7 1053.4 437.7 M988.5 497.8L986.0 495.8Q1024.1 465.8 1059.2 435.8 M993.3 496.0L990.8 494.0Q1029.4 464.0 1065.0 434.0 M997.8 493.8L995.3 491.8Q1034.5 461.8 1070.6 431.8 M1002.2 491.2L999.6 489.2Q1039.3 459.2 1076.0 429.2 M1006.5 488.4L1003.9 486.4Q1044.1 456.4 1081.3 426.4" stroke="#dcbf97" stroke-width="3.0" fill="none"/><path d="M871.6 516.5L870.0 514.5Q895.5 484.5 918.0 454.5 M876.7 516.5L875.1 514.5Q901.1 484.5 924.1 454.5 M881.8 516.5L880.1 514.5Q906.7 484.5 930.3 454.5 M886.9 516.5L885.2 514.5Q912.3 484.5 936.4 454.5 M892.0 516.5L890.3 514.5Q917.9 484.5 942.6 454.5 M897.1 516.5L895.4 514.5Q923.5 484.5 948.7 454.5 M902.2 516.7L900.4 514.7Q929.1 484.7 954.9 454.7 M907.3 517.2L905.5 515.2Q934.7 485.2 961.0 455.2 M912.4 517.4L910.5 515.4Q940.3 485.4 967.1 455.4 M917.5 517.1L915.6 515.1Q945.9 485.1 973.2 455.1 M922.6 516.8L920.6 514.8Q951.5 484.8 979.4 454.8 M927.7 516.6L925.7 514.6Q957.1 484.6 985.5 454.6 M932.8 516.3L930.8 514.3Q962.7 484.3 991.6 454.3 M937.7 514.9L935.6 512.9Q968.1 482.9 997.6 452.9 M942.6 513.5L940.5 511.5Q973.5 481.5 1003.5 451.5 M947.5 512.0L945.4 510.0Q978.9 480.0 1009.5 450.0 M952.4 510.6L950.2 508.6Q984.3 478.6 1015.4 448.6 M957.3 509.2L955.1 507.2Q989.7 477.2 1021.3 447.2 M962.2 507.8L960.0 505.8Q995.1 475.8 1027.3 445.8 M967.0 506.0L964.7 504.0Q1000.4 474.0 1033.1 444.0 M971.8 504.2L969.5 502.2Q1005.7 472.2 1038.9 442.2 M976.6 502.4L974.2 500.4Q1011.0 470.4 1044.7 440.4 M981.3 500.6L978.9 498.6Q1016.2 468.6 1050.5 438.6 M986.1 498.7L983.7 496.7Q1021.5 466.7 1056.3 436.7 M990.9 496.9L988.4 494.9Q1026.8 464.9 1062.1 434.9 M995.6 495.1L993.1 493.1Q1032.0 463.1 1067.9 433.1 M1000.0 492.5L997.5 490.5Q1036.9 460.5 1073.4 430.5 M1004.3 489.8L1001.8 487.8Q1041.7 457.8 1078.7 427.8 M1008.6 487.0L1006.0 485.0Q1046.5 455.0 1084.0 425.0" stroke="#5f4938" stroke-width="1.0" fill="none"/></g>
<path d="M899.0 485.8 L944.0 469.5 L966.0 475.0 L983.0 478.0 L1004.4 481.0 L1005.6 484.6 L994.2 492.2 L961.2 504.9 L930.8 513.8 L908.0 515.0 L899.0 513.8 Z" fill="none" stroke="#5f4938" stroke-width="1.1"/>
<circle cx="804.5" cy="424.5" r="1.9" fill="#b88f64" stroke="#5f4938" stroke-width="0.9"/>
<circle cx="926.5" cy="438.5" r="1.9" fill="#b88f64" stroke="#5f4938" stroke-width="0.9"/>
<circle cx="707" cy="475" r="1.7" fill="#b88f64" stroke="#5f4938" stroke-width="0.9"/>
<circle cx="724.5" cy="470.5" r="1.5" fill="#b88f64" stroke="#5f4938" stroke-width="0.9"/>
<circle cx="1003.5" cy="477.5" r="1.7" fill="#b88f64" stroke="#5f4938" stroke-width="0.9"/>
<circle cx="983" cy="475.5" r="1.4" fill="#b88f64" stroke="#5f4938" stroke-width="0.9"/>
</svg>
<div class="pill" style="left:53px;width:111px;letter-spacing:1.2px;text-indent:1.2px">Input</div>
<div class="pill" style="left:220px;width:160px;letter-spacing:0.5px;text-indent:2.5px">Denoising</div>
<div class="pill" style="left:438px;width:225px;letter-spacing:0.45px;text-indent:2.45px">Feature Fusion</div>
<div class="pill" style="left:757px;width:187px;letter-spacing:0.4px;text-indent:0.9px">Refinement</div>

</body></html>
